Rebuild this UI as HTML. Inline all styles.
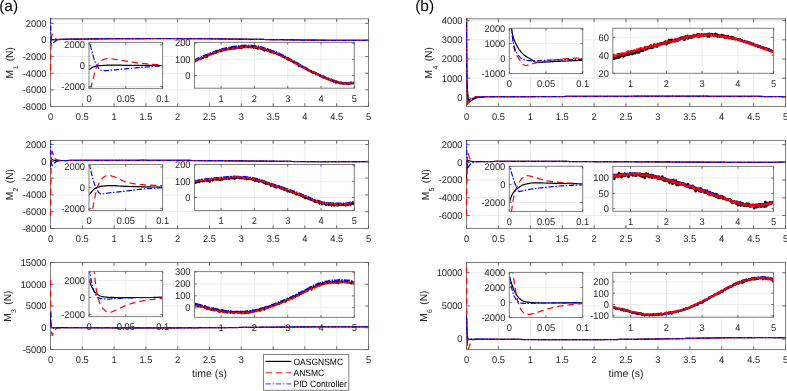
<!DOCTYPE html><html><head><meta charset="utf-8"><style>html,body{margin:0;padding:0;background:#fff;overflow:hidden}svg{display:block;will-change:transform}</style></head><body><svg width="787" height="391" viewBox="0 0 787 391" font-family='"Liberation Sans", sans-serif' text-rendering="geometricPrecision">
<rect width="787" height="391" fill="#fff"/>
<path d="M82.3 18.8V106.5 M114.1 18.8V106.5 M145.9 18.8V106.5 M177.7 18.8V106.5 M209.5 18.8V106.5 M241.3 18.8V106.5 M273.1 18.8V106.5 M304.9 18.8V106.5 M336.7 18.8V106.5 M50.5 23.38H368.5 M50.5 40H368.5 M50.5 56.62H368.5 M50.5 73.25H368.5 M50.5 89.88H368.5" stroke="#e6e6e6" stroke-width="0.8" fill="none"/>
<rect x="50.5" y="18.8" width="318" height="87.7" fill="none" stroke="#808080" stroke-width="1"/>
<clipPath id="c1"><rect x="49.7" y="18" width="319.6" height="89.3"/></clipPath>
<polyline points="50.5,43.2 50.7,41.9 50.9,41.1 51.1,40.5 51.2,40.2 51.4,40 51.6,39.8 51.8,39.7 52,39.7 52.2,39.6 52.3,39.6 52.5,39.6 52.7,39.6 52.9,39.6 53.1,39.6 53.3,39.6 53.4,39.7 53.6,39.7 53.8,39.7 54,39.7 54.2,39.7 54.4,39.7 54.6,39.7 54.7,39.7 54.9,39.7 55.1,39.7 55.3,39.8 55.5,39.8 55.7,39.8 55.8,39.8 56,39.8 56.2,39.8 56.4,39.8 56.6,39.8 56.8,39.8 57,39.8 57.1,39.8 57.3,39.7 57.5,39.7 57.7,39.7 57.9,39.6 58.1,39.6 58.2,39.6 58.4,39.6 58.6,39.5 58.8,39.5 59,39.5 59.2,39.5 59.3,39.5 59.5,39.5 59.7,39.4 59.9,39.4 60.1,39.4 60.3,39.4 60.5,39.4 60.6,39.4 60.8,39.4 61,39.4 61.2,39.3 61.4,39.3 61.6,39.3 61.7,39.3 61.9,39.3 62.1,39.3 62.3,39.3 62.5,39.3 62.7,39.3 62.9,39.3 63,39.3 63.2,39.3" fill="none" stroke="#000" stroke-width="1.1" clip-path="url(#c1)" stroke-linejoin="round"/>
<polyline points="63.2,39.3 66,39.2 68.8,39.2 71.6,39.1 74.4,39.1 77.2,39.1 80,39.1 82.8,39 85.6,39 88.4,39 91.2,38.9 94,38.9 96.8,38.9 99.6,38.8 102.4,38.8 105.2,38.8 108,38.8 110.8,38.7 113.6,38.7 116.4,38.7 119.2,38.7 122,38.7 124.8,38.6 127.6,38.6 130.4,38.6 133.2,38.6 136,38.6 138.8,38.6 141.6,38.6 144.4,38.6 147.2,38.5 150,38.5 152.8,38.5 155.6,38.5 158.4,38.5 161.2,38.5 164,38.5 166.8,38.5 169.6,38.5 172.4,38.5 175.2,38.5 178.1,38.5 180.9,38.6 183.7,38.6 186.5,38.6 189.3,38.6 192.1,38.6 194.9,38.6 197.7,38.7 200.5,38.7 203.3,38.7 206.1,38.7 208.9,38.8 211.7,38.8 214.5,38.8 217.3,38.8 220.1,38.9 222.9,38.9 225.7,38.9 228.5,39 231.3,39 234.1,39 236.9,39.1 239.7,39.1 242.5,39.2 245.3,39.2 248.1,39.2 250.9,39.3 253.7,39.3 256.5,39.4 259.3,39.4 262.1,39.4 264.9,39.5 267.7,39.5 270.5,39.6 273.3,39.6 276.1,39.6 278.9,39.7 281.7,39.7 284.5,39.8 287.3,39.8 290.1,39.8 292.9,39.9 295.7,39.9 298.5,39.9 301.3,40 304.1,40 306.9,40 309.7,40.1 312.5,40.1 315.3,40.1 318.1,40.2 320.9,40.2 323.7,40.2 326.5,40.2 329.3,40.3 332.1,40.3 334.9,40.3 337.7,40.3 340.5,40.4 343.3,40.4 346.1,40.4 348.9,40.4 351.7,40.4 354.5,40.4 357.3,40.4 360.1,40.4 362.9,40.4 365.7,40.4 368.5,40.4" fill="none" stroke="#000" stroke-width="1.1" clip-path="url(#c1)" stroke-linejoin="round"/>
<polyline points="50.5,74.9 50.7,57.2 50.9,49.9 51.1,43.8 51.2,39.4 51.4,37 51.6,35.7 51.8,34.9 52,34.4 52.2,34.4 52.3,34.5 52.5,34.7 52.7,34.9 52.9,35.2 53.1,35.4 53.3,35.6 53.4,35.9 53.6,36.2 53.8,36.5 54,36.8 54.2,37.1 54.4,37.3 54.6,37.5 54.7,37.8 54.9,38 55.1,38.2 55.3,38.3 55.5,38.5 55.7,38.6 55.8,38.8 56,38.9 56.2,39 56.4,39.1 56.6,39.2 56.8,39.3 57,39.3 57.1,39.3 57.3,39.3 57.5,39.3 57.7,39.3 57.9,39.3 58.1,39.3 58.2,39.3 58.4,39.3 58.6,39.3 58.8,39.3 59,39.3 59.2,39.3 59.3,39.3 59.5,39.3 59.7,39.3 59.9,39.3 60.1,39.3 60.3,39.3 60.5,39.3 60.6,39.3 60.8,39.3 61,39.3 61.2,39.3 61.4,39.3 61.6,39.3 61.7,39.2 61.9,39.2 62.1,39.2 62.3,39.2 62.5,39.2 62.7,39.2 62.9,39.2 63,39.2 63.2,39.2" fill="none" stroke="#ff0000" stroke-width="1.25" stroke-dasharray="6.4,3.9" stroke-dashoffset="5.8" clip-path="url(#c1)" stroke-linejoin="round"/>
<polyline points="63.2,39.2 66,39.2 68.8,39.2 71.6,39.1 74.4,39.1 77.2,39.1 80,39.1 82.8,39 85.6,39 88.4,39 91.2,38.9 94,38.9 96.8,38.9 99.6,38.8 102.4,38.8 105.2,38.8 108,38.8 110.8,38.7 113.6,38.7 116.4,38.7 119.2,38.7 122,38.7 124.8,38.6 127.6,38.6 130.4,38.6 133.2,38.6 136,38.6 138.8,38.6 141.6,38.6 144.4,38.6 147.2,38.5 150,38.5 152.8,38.5 155.6,38.5 158.4,38.5 161.2,38.5 164,38.5 166.8,38.5 169.6,38.5 172.4,38.5 175.2,38.5 178.1,38.5 180.9,38.6 183.7,38.6 186.5,38.6 189.3,38.6 192.1,38.6 194.9,38.6 197.7,38.7 200.5,38.7 203.3,38.7 206.1,38.7 208.9,38.8 211.7,38.8 214.5,38.8 217.3,38.8 220.1,38.9 222.9,38.9 225.7,38.9 228.5,39 231.3,39 234.1,39 236.9,39.1 239.7,39.1 242.5,39.2 245.3,39.2 248.1,39.2 250.9,39.3 253.7,39.3 256.5,39.4 259.3,39.4 262.1,39.4 264.9,39.5 267.7,39.5 270.5,39.6 273.3,39.6 276.1,39.6 278.9,39.7 281.7,39.7 284.5,39.8 287.3,39.8 290.1,39.8 292.9,39.9 295.7,39.9 298.5,39.9 301.3,40 304.1,40 306.9,40 309.7,40.1 312.5,40.1 315.3,40.1 318.1,40.2 320.9,40.2 323.7,40.2 326.5,40.2 329.3,40.3 332.1,40.3 334.9,40.3 337.7,40.3 340.5,40.4 343.3,40.4 346.1,40.4 348.9,40.4 351.7,40.4 354.5,40.4 357.3,40.4 360.1,40.4 362.9,40.4 365.7,40.4 368.5,40.4" fill="none" stroke="#ff0000" stroke-width="1.25" stroke-dasharray="6.4,3.9" stroke-dashoffset="5.8" clip-path="url(#c1)" stroke-linejoin="round"/>
<polyline points="50.5,15.1 50.7,26.4 50.9,32.5 51.1,37.8 51.2,40.8 51.4,42.8 51.6,43.9 51.8,44 52,43.9 52.2,43.8 52.3,43.6 52.5,43.5 52.7,43.3 52.9,43.2 53.1,43 53.3,42.9 53.4,42.7 53.6,42.5 53.8,42.4 54,42.2 54.2,42.1 54.4,41.9 54.6,41.7 54.7,41.6 54.9,41.4 55.1,41.3 55.3,41.2 55.5,41 55.7,40.9 55.8,40.8 56,40.6 56.2,40.5 56.4,40.4 56.6,40.3 56.8,40.1 57,40 57.1,40 57.3,39.9 57.5,39.9 57.7,39.8 57.9,39.8 58.1,39.8 58.2,39.7 58.4,39.7 58.6,39.7 58.8,39.6 59,39.6 59.2,39.6 59.3,39.6 59.5,39.5 59.7,39.5 59.9,39.5 60.1,39.5 60.3,39.5 60.5,39.4 60.6,39.4 60.8,39.4 61,39.4 61.2,39.4 61.4,39.4 61.6,39.4 61.7,39.4 61.9,39.3 62.1,39.3 62.3,39.3 62.5,39.3 62.7,39.3 62.9,39.3 63,39.3 63.2,39.3" fill="none" stroke="#0000ff" stroke-width="1.25" stroke-dasharray="5.4,1.6,1.5,1.8" clip-path="url(#c1)" stroke-linejoin="round"/>
<polyline points="63.2,39.3 66,39.2 68.8,39.2 71.6,39.1 74.4,39.1 77.2,39.1 80,39 82.8,39 85.6,39 88.4,38.9 91.2,38.9 94,38.9 96.8,38.9 99.6,38.8 102.4,38.8 105.2,38.8 108,38.7 110.8,38.7 113.6,38.7 116.4,38.7 119.2,38.7 122,38.6 124.8,38.6 127.6,38.6 130.4,38.6 133.2,38.6 136,38.6 138.8,38.6 141.6,38.5 144.4,38.5 147.2,38.5 150,38.5 152.8,38.5 155.6,38.5 158.4,38.5 161.2,38.5 164,38.5 166.8,38.5 169.6,38.5 172.4,38.5 175.2,38.5 178.1,38.5 180.9,38.5 183.7,38.5 186.5,38.6 189.3,38.6 192.1,38.6 194.9,38.6 197.7,38.6 200.5,38.7 203.3,38.7 206.1,38.7 208.9,38.7 211.7,38.8 214.5,38.8 217.3,38.8 220.1,38.9 222.9,38.9 225.7,38.9 228.5,39 231.3,39 234.1,39 236.9,39.1 239.7,39.1 242.5,39.1 245.3,39.2 248.1,39.2 250.9,39.3 253.7,39.3 256.5,39.4 259.3,39.4 262.1,39.4 264.9,39.5 267.7,39.5 270.5,39.6 273.3,39.6 276.1,39.7 278.9,39.7 281.7,39.7 284.5,39.8 287.3,39.8 290.1,39.8 292.9,39.9 295.7,39.9 298.5,40 301.3,40 304.1,40 306.9,40.1 309.7,40.1 312.5,40.1 315.3,40.2 318.1,40.2 320.9,40.2 323.7,40.2 326.5,40.3 329.3,40.3 332.1,40.3 334.9,40.3 337.7,40.4 340.5,40.4 343.3,40.4 346.1,40.4 348.9,40.4 351.7,40.4 354.5,40.4 357.3,40.4 360.1,40.4 362.9,40.4 365.7,40.4 368.5,40.4" fill="none" stroke="#0000ff" stroke-width="1.25" stroke-dasharray="5.4,1.6,1.5,1.8" clip-path="url(#c1)" stroke-linejoin="round"/>
<path d="M50.5 106.5v-3.2M50.5 18.8v3.2M82.3 106.5v-3.2M82.3 18.8v3.2M114.1 106.5v-3.2M114.1 18.8v3.2M145.9 106.5v-3.2M145.9 18.8v3.2M177.7 106.5v-3.2M177.7 18.8v3.2M209.5 106.5v-3.2M209.5 18.8v3.2M241.3 106.5v-3.2M241.3 18.8v3.2M273.1 106.5v-3.2M273.1 18.8v3.2M304.9 106.5v-3.2M304.9 18.8v3.2M336.7 106.5v-3.2M336.7 18.8v3.2M368.5 106.5v-3.2M368.5 18.8v3.2M50.5 23.38h3.2M368.5 23.38h-3.2M50.5 40h3.2M368.5 40h-3.2M50.5 56.62h3.2M368.5 56.62h-3.2M50.5 73.25h3.2M368.5 73.25h-3.2M50.5 89.88h3.2M368.5 89.88h-3.2M50.5 106.5h3.2M368.5 106.5h-3.2" stroke="#5a5a5a" stroke-width="0.9" fill="none"/>
<text transform="translate(50.5,120.1) scale(1,1.04)" text-anchor="middle" font-size="9.3" fill="#262626" >0</text>
<text transform="translate(82.3,120.1) scale(1,1.04)" text-anchor="middle" font-size="9.3" fill="#262626" >0.5</text>
<text transform="translate(114.1,120.1) scale(1,1.04)" text-anchor="middle" font-size="9.3" fill="#262626" >1</text>
<text transform="translate(145.9,120.1) scale(1,1.04)" text-anchor="middle" font-size="9.3" fill="#262626" >1.5</text>
<text transform="translate(177.7,120.1) scale(1,1.04)" text-anchor="middle" font-size="9.3" fill="#262626" >2</text>
<text transform="translate(209.5,120.1) scale(1,1.04)" text-anchor="middle" font-size="9.3" fill="#262626" >2.5</text>
<text transform="translate(241.3,120.1) scale(1,1.04)" text-anchor="middle" font-size="9.3" fill="#262626" >3</text>
<text transform="translate(273.1,120.1) scale(1,1.04)" text-anchor="middle" font-size="9.3" fill="#262626" >3.5</text>
<text transform="translate(304.9,120.1) scale(1,1.04)" text-anchor="middle" font-size="9.3" fill="#262626" >4</text>
<text transform="translate(336.7,120.1) scale(1,1.04)" text-anchor="middle" font-size="9.3" fill="#262626" >4.5</text>
<text transform="translate(368.5,120.1) scale(1,1.04)" text-anchor="middle" font-size="9.3" fill="#262626" >5</text>
<text transform="translate(46.5,26.68) scale(1,1.04)" text-anchor="end" font-size="9.3" fill="#262626" >2000</text>
<text transform="translate(46.5,43.3) scale(1,1.04)" text-anchor="end" font-size="9.3" fill="#262626" >0</text>
<text transform="translate(46.5,59.92) scale(1,1.04)" text-anchor="end" font-size="9.3" fill="#262626" >-2000</text>
<text transform="translate(46.5,76.55) scale(1,1.04)" text-anchor="end" font-size="9.3" fill="#262626" >-4000</text>
<text transform="translate(46.5,93.17) scale(1,1.04)" text-anchor="end" font-size="9.3" fill="#262626" >-6000</text>
<text transform="translate(46.5,109.8) scale(1,1.04)" text-anchor="end" font-size="9.3" fill="#262626" >-8000</text>
<g transform="translate(13.2,62.65) rotate(-90)" font-size="10.2" fill="#262626"><text x="-15.8">M</text><text x="-6.9" y="5.2" font-size="7">1</text><text x="15.45" text-anchor="end">(N)</text></g>
<rect x="89" y="42.4" width="73.6" height="46" fill="#fff"/>
<path d="M125.8 42.4V88.4 M89 44.9H162.6 M89 65.7H162.6 M89 86.5H162.6" stroke="#e6e6e6" stroke-width="0.8" fill="none"/>
<clipPath id="c2"><rect x="89" y="42.4" width="73.6" height="46"/></clipPath>
<polyline points="89,69.7 89.7,69.2 90.4,68.7 91,68.2 91.7,67.8 92.4,67.4 93.1,67.1 93.7,66.9 94.4,66.6 95.1,66.4 95.8,66.3 96.4,66.1 97.1,66 97.8,65.9 98.5,65.8 99.1,65.7 99.8,65.7 100.5,65.6 101.2,65.5 101.8,65.5 102.5,65.5 103.2,65.4 103.9,65.4 104.5,65.4 105.2,65.3 105.9,65.3 106.6,65.3 107.2,65.2 107.9,65.2 108.6,65.2 109.3,65.2 109.9,65.2 110.6,65.2 111.3,65.2 112,65.2 112.6,65.2 113.3,65.2 114,65.2 114.7,65.2 115.3,65.2 116,65.2 116.7,65.2 117.4,65.2 118,65.2 118.7,65.2 119.4,65.2 120.1,65.2 120.7,65.2 121.4,65.2 122.1,65.3 122.8,65.3 123.4,65.3 124.1,65.3 124.8,65.3 125.5,65.3 126.1,65.3 126.8,65.3 127.5,65.3 128.2,65.3 128.8,65.3 129.5,65.3 130.2,65.3 130.9,65.3 131.5,65.3 132.2,65.3 132.9,65.3 133.6,65.3 134.2,65.3 134.9,65.3 135.6,65.3 136.3,65.3 136.9,65.4 137.6,65.4 138.3,65.4 139,65.4 139.6,65.4 140.3,65.4 141,65.4 141.7,65.4 142.3,65.4 143,65.4 143.7,65.4 144.4,65.4 145,65.4 145.7,65.4 146.4,65.4 147.1,65.4 147.7,65.4 148.4,65.4 149.1,65.4 149.8,65.4 150.4,65.4 151.1,65.4 151.8,65.4 152.5,65.4 153.1,65.4 153.8,65.4 154.5,65.4 155.2,65.5 155.8,65.5 156.5,65.5 157.2,65.5 157.9,65.5 158.5,65.5 159.2,65.5 159.9,65.5 160.6,65.5 161.2,65.5 161.9,65.5 162.6,65.5" fill="none" stroke="#000" stroke-width="1.2" clip-path="url(#c2)" stroke-linejoin="round"/>
<polyline points="89,109.4 89.7,101.3 90.4,93.4 91,87.9 91.7,84.3 92.4,81.3 93.1,78.9 93.7,76.6 94.4,74.1 95.1,71.7 95.8,69.3 96.4,67.2 97.1,65.7 97.8,64.5 98.5,63.5 99.1,62.6 99.8,61.8 100.5,61.2 101.2,60.7 101.8,60.3 102.5,60 103.2,59.7 103.9,59.4 104.5,59.2 105.2,59 105.9,58.8 106.6,58.7 107.2,58.6 107.9,58.6 108.6,58.7 109.3,58.7 109.9,58.7 110.6,58.8 111.3,58.9 112,58.9 112.6,59 113.3,59.1 114,59.2 114.7,59.3 115.3,59.4 116,59.5 116.7,59.6 117.4,59.7 118,59.8 118.7,59.9 119.4,60 120.1,60.1 120.7,60.2 121.4,60.3 122.1,60.4 122.8,60.5 123.4,60.7 124.1,60.8 124.8,60.9 125.5,61 126.1,61.1 126.8,61.2 127.5,61.4 128.2,61.5 128.8,61.6 129.5,61.7 130.2,61.8 130.9,61.9 131.5,62 132.2,62.1 132.9,62.2 133.6,62.3 134.2,62.4 134.9,62.5 135.6,62.6 136.3,62.7 136.9,62.8 137.6,62.8 138.3,62.9 139,63 139.6,63.1 140.3,63.2 141,63.2 141.7,63.3 142.3,63.4 143,63.5 143.7,63.5 144.4,63.6 145,63.7 145.7,63.7 146.4,63.8 147.1,63.9 147.7,63.9 148.4,64 149.1,64 149.8,64.1 150.4,64.1 151.1,64.2 151.8,64.2 152.5,64.3 153.1,64.3 153.8,64.3 154.5,64.4 155.2,64.4 155.8,64.5 156.5,64.5 157.2,64.5 157.9,64.6 158.5,64.6 159.2,64.7 159.9,64.7 160.6,64.7 161.2,64.8 161.9,64.8 162.6,64.9" fill="none" stroke="#ff0000" stroke-width="1.2" stroke-dasharray="6.4,3.9" clip-path="url(#c2)" stroke-linejoin="round"/>
<polyline points="89,34.5 89.7,40.7 90.4,45.1 91,48.3 91.7,50.9 92.4,53.2 93.1,55.5 93.7,57.8 94.4,60.1 95.1,62.1 95.8,63.9 96.4,65.2 97.1,66.2 97.8,67.1 98.5,67.9 99.1,68.6 99.8,69.3 100.5,69.8 101.2,70.3 101.8,70.6 102.5,70.7 103.2,70.7 103.9,70.7 104.5,70.7 105.2,70.7 105.9,70.6 106.6,70.6 107.2,70.5 107.9,70.5 108.6,70.4 109.3,70.3 109.9,70.3 110.6,70.2 111.3,70.2 112,70.1 112.6,70 113.3,70 114,69.9 114.7,69.9 115.3,69.8 116,69.8 116.7,69.7 117.4,69.6 118,69.6 118.7,69.5 119.4,69.4 120.1,69.4 120.7,69.3 121.4,69.2 122.1,69.2 122.8,69.1 123.4,69 124.1,69 124.8,68.9 125.5,68.9 126.1,68.8 126.8,68.7 127.5,68.7 128.2,68.6 128.8,68.5 129.5,68.5 130.2,68.4 130.9,68.3 131.5,68.3 132.2,68.2 132.9,68.2 133.6,68.1 134.2,68 134.9,68 135.6,67.9 136.3,67.8 136.9,67.8 137.6,67.7 138.3,67.7 139,67.6 139.6,67.5 140.3,67.5 141,67.4 141.7,67.4 142.3,67.3 143,67.3 143.7,67.2 144.4,67.2 145,67.1 145.7,67.1 146.4,67 147.1,66.9 147.7,66.9 148.4,66.8 149.1,66.8 149.8,66.7 150.4,66.7 151.1,66.6 151.8,66.6 152.5,66.5 153.1,66.5 153.8,66.4 154.5,66.4 155.2,66.4 155.8,66.3 156.5,66.3 157.2,66.2 157.9,66.2 158.5,66.1 159.2,66.1 159.9,66 160.6,66 161.2,65.9 161.9,65.9 162.6,65.8" fill="none" stroke="#0000ff" stroke-width="1.2" stroke-dasharray="5.4,1.6,1.5,1.8" clip-path="url(#c2)" stroke-linejoin="round"/>
<rect x="89" y="42.4" width="73.6" height="46" fill="none" stroke="#808080" stroke-width="1"/>
<path d="M89 88.4v-2.2M89 42.4v2.2M125.8 88.4v-2.2M125.8 42.4v2.2M162.6 88.4v-2.2M162.6 42.4v2.2M89 44.9h2.2M162.6 44.9h-2.2M89 65.7h2.2M162.6 65.7h-2.2M89 86.5h2.2M162.6 86.5h-2.2" stroke="#5a5a5a" stroke-width="0.9" fill="none"/>
<text transform="translate(89,101.8) scale(1,1.04)" text-anchor="middle" font-size="9.3" fill="#262626" >0</text>
<text transform="translate(125.8,101.8) scale(1,1.04)" text-anchor="middle" font-size="9.3" fill="#262626" >0.05</text>
<text transform="translate(162.6,101.8) scale(1,1.04)" text-anchor="middle" font-size="9.3" fill="#262626" >0.1</text>
<text transform="translate(85,48.2) scale(1,1.04)" text-anchor="end" font-size="9.3" fill="#262626" >2000</text>
<text transform="translate(85,69) scale(1,1.04)" text-anchor="end" font-size="9.3" fill="#262626" >0</text>
<text transform="translate(85,89.8) scale(1,1.04)" text-anchor="end" font-size="9.3" fill="#262626" >-2000</text>
<rect x="194.5" y="42.4" width="159.8" height="45.8" fill="#fff"/>
<path d="M221.13 42.4V88.2 M254.43 42.4V88.2 M287.72 42.4V88.2 M321.01 42.4V88.2 M194.5 59.3H354.3 M194.5 75.5H354.3" stroke="#e6e6e6" stroke-width="0.8" fill="none"/>
<clipPath id="c3"><rect x="194.5" y="42.4" width="159.8" height="45.8"/></clipPath>
<polyline points="194.5,61.8 194.9,61.6 195.3,61.1 195.6,60.1 196,60.9 196.4,60.5 196.8,59.8 197.2,60.2 197.6,59.9 197.9,59.7 198.3,59.4 198.7,59.5 199.1,58.8 199.5,58.9 199.8,58.6 200.2,58.9 200.6,58.5 201,58.2 201.4,57.8 201.7,57.9 202.1,57.9 202.5,57.6 202.9,58.1 203.3,57.9 203.7,56 204,56.3 204.4,56.9 204.8,56.6 205.2,56.7 205.6,56.6 205.9,57.3 206.3,55.7 206.7,55.8 207.1,56.8 207.5,56 207.8,55.8 208.2,55.1 208.6,54.5 209,55.1 209.4,55 209.8,54.2 210.1,54.3 210.5,54.4 210.9,53.9 211.3,54.1 211.7,54 212,53.9 212.4,53.5 212.8,53.8 213.2,53.8 213.6,53.4 214,52.7 214.3,53.3 214.7,52.6 215.1,53.1 215.5,52.1 215.9,52.8 216.2,52.3 216.6,51.6 217,51.9 217.4,51.9 217.8,51.9 218.1,51.2 218.5,51 218.9,51.4 219.3,51 219.7,51.2 220.1,51.3 220.4,50.1 220.8,50.9 221.2,51.2 221.6,50.4 222,50.1 222.3,50.7 222.7,50.4 223.1,50.6 223.5,49.9 223.9,49.3 224.2,49.9 224.6,49.6 225,50.1 225.4,49.7 225.8,48.8 226.2,48.9 226.5,49.8 226.9,49.6 227.3,49 227.7,49.2 228.1,49.3 228.4,49.3 228.8,49.4 229.2,49 229.6,48.8 230,48.7 230.4,49.2 230.7,47.6 231.1,48.5 231.5,48.5 231.9,47.8 232.3,48.5 232.6,48 233,48.7 233.4,48.2 233.8,48.5 234.2,48.7 234.5,48.2 234.9,47.6 235.3,47.3 235.7,48.7 236.1,47.8 236.5,47.5 236.8,47.8 237.2,47.6 237.6,48 238,47.6 238.4,47.5 238.7,47.2 239.1,47.7 239.5,46.9 239.9,47.7 240.3,48 240.6,46.6 241,46.1 241.4,47.5 241.8,48.3 242.2,46.7 242.6,46.6 242.9,47.4 243.3,46.7 243.7,46.8 244.1,46.9 244.5,47.3 244.8,46.8 245.2,47.1 245.6,46.9 246,46.6 246.4,46.8 246.7,46.5 247.1,47 247.5,46.5 247.9,46.5 248.3,47.6 248.7,47 249,47 249.4,47.2 249.8,46.8 250.2,46.9 250.6,47.3 250.9,47.2 251.3,46.6 251.7,47.5 252.1,46.9 252.5,46.8 252.9,46.9 253.2,47.1 253.6,48.1 254,46.9 254.4,47.5 254.8,46.5 255.1,47.5 255.5,48 255.9,47.6 256.3,47.4 256.7,47.9 257,48.2 257.4,48.2 257.8,48.9 258.2,48.2 258.6,47.9 259,48.2 259.3,48.3 259.7,48.4 260.1,48.4 260.5,48.6 260.9,47.9 261.2,49.1 261.6,48.5 262,48.4 262.4,49.3 262.8,49.7 263.1,49.4 263.5,49.4 263.9,49 264.3,50.8 264.7,50 265.1,49.2 265.4,49.5 265.8,50 266.2,49.4 266.6,50.2 267,50.1 267.3,51 267.7,51 268.1,49.4 268.5,50.8 268.9,50.2 269.3,51.5 269.6,51.2 270,51.5 270.4,50.9 270.8,52.4 271.2,52.6 271.5,51.4 271.9,52.1 272.3,51.8 272.7,52.2 273.1,51.8 273.4,53.4 273.8,52.2 274.2,52.7 274.6,53.2 275,52.8 275.4,53.2 275.7,53.2 276.1,53.5 276.5,53.2 276.9,53.7 277.3,54 277.6,54.1 278,54.4 278.4,54.4 278.8,55.1 279.2,54.7 279.5,55 279.9,54.9 280.3,55.1 280.7,55 281.1,56 281.5,55.4 281.8,55.7 282.2,56.4 282.6,56.6 283,56.4 283.4,55.9 283.7,57.2 284.1,57.3 284.5,56.7 284.9,57.9 285.3,57.4 285.7,57.4 286,58.1 286.4,58.2 286.8,58.6 287.2,58 287.6,59.7 287.9,58.8 288.3,58.6 288.7,59.7 289.1,59.5 289.5,60 289.8,59.9 290.2,60.2 290.6,60.6 291,60.3 291.4,61.2 291.8,60.9 292.1,60.9 292.5,61.5 292.9,61.9 293.3,61.8 293.7,61.7 294,62.6 294.4,61.8 294.8,62.3 295.2,63 295.6,62.6 295.9,63.4 296.3,63.6 296.7,64.2 297.1,63.6 297.5,64 297.9,64.6 298.2,63.6 298.6,66.3 299,64.8 299.4,65 299.8,65.9 300.1,65.7 300.5,65.1 300.9,66.4 301.3,66.7 301.7,66.4 302.1,66.6 302.4,67.2 302.8,66.8 303.2,67.6 303.6,67.7 304,67.5 304.3,67.4 304.7,68.1 305.1,68 305.5,69.1 305.9,68.9 306.2,69.4 306.6,69.3 307,69.5 307.4,69.3 307.8,70.1 308.2,70.8 308.5,70.1 308.9,70.1 309.3,70.5 309.7,70.6 310.1,70.7 310.4,71.2 310.8,71.2 311.2,72.2 311.6,71.7 312,72.1 312.3,72.5 312.7,72.1 313.1,73.1 313.5,72.4 313.9,72.5 314.3,72.9 314.6,73.1 315,72.7 315.4,73.5 315.8,73 316.2,74.5 316.5,74.1 316.9,74 317.3,74 317.7,74.4 318.1,74.7 318.4,74.5 318.8,74.7 319.2,75.2 319.6,75.3 320,76.1 320.4,76.3 320.7,76 321.1,76.4 321.5,75.7 321.9,76.8 322.3,76.7 322.6,77.1 323,77.7 323.4,76.1 323.8,77.5 324.2,77 324.6,77.9 324.9,77.2 325.3,77.8 325.7,78.2 326.1,78.6 326.5,78.5 326.8,78.3 327.2,78.5 327.6,79.3 328,79.1 328.4,78.5 328.7,79.7 329.1,79.7 329.5,80.1 329.9,79.6 330.3,80.3 330.7,79.6 331,80.5 331.4,80.1 331.8,80.8 332.2,81.1 332.6,80.4 332.9,80.9 333.3,81 333.7,81.7 334.1,81.6 334.5,80.8 334.8,81.7 335.2,81.9 335.6,82.7 336,81.1 336.4,81.7 336.8,82.6 337.1,81.5 337.5,81.7 337.9,82.6 338.3,82.9 338.7,82.2 339,82.9 339.4,82.8 339.8,83.5 340.2,82.9 340.6,83.4 341,82.6 341.3,83 341.7,83.1 342.1,83.7 342.5,83.5 342.9,83 343.2,83.7 343.6,83.8 344,83.4 344.4,83.4 344.8,83.4 345.1,82.8 345.5,83.6 345.9,83.7 346.3,83.2 346.7,83.9 347.1,83 347.4,83.3 347.8,83.4 348.2,84.4 348.6,82.8 349,83.8 349.3,83.9 349.7,83.6 350.1,83.9 350.5,82.9 350.9,82.3 351.2,83.6 351.6,82.7 352,83.1 352.4,82.6 352.8,83.6 353.2,83.5 353.5,82.7 353.9,83.4 354.3,83" fill="none" stroke="#000" stroke-width="1.8" clip-path="url(#c3)" stroke-linejoin="round"/>
<polyline points="194.5,60.8 195.3,59.9 196.1,59.3 196.9,58.9 197.7,58.5 198.5,58.1 199.3,57.8 200.1,57.3 200.9,57.1 201.7,56.8 202.5,56.6 203.3,56 204.1,55.9 204.9,55.4 205.7,55 206.5,54.7 207.3,54.4 208.2,54 209,53.6 209.8,53.3 210.6,53 211.4,52.6 212.2,52.5 213,52.2 213.8,51.8 214.6,51.5 215.4,51.1 216.2,50.8 217,50.6 217.8,50.5 218.6,50.1 219.4,49.7 220.2,49.5 221,49.2 221.8,48.9 222.6,48.8 223.4,48.6 224.2,48.6 225,48.2 225.8,48.1 226.6,48 227.4,47.7 228.2,47.7 229,47.4 229.8,47.2 230.6,47.1 231.4,47 232.2,46.8 233,46.7 233.8,46.6 234.7,46.5 235.5,46.2 236.3,46.2 237.1,45.9 237.9,46 238.7,46 239.5,45.8 240.3,45.7 241.1,45.7 241.9,45.5 242.7,45.5 243.5,45.5 244.3,45.5 245.1,45.4 245.9,45.6 246.7,45.3 247.5,45.4 248.3,45.5 249.1,45.4 249.9,45.3 250.7,45.3 251.5,45.5 252.3,45.7 253.1,45.7 253.9,45.8 254.7,45.8 255.5,46.1 256.3,45.9 257.1,46.3 257.9,46.4 258.7,46.4 259.5,47 260.3,46.8 261.2,47 262,47.2 262.8,47.6 263.6,47.7 264.4,48 265.2,48.3 266,48.5 266.8,48.6 267.6,48.9 268.4,49.4 269.2,49.4 270,49.7 270.8,50.1 271.6,50.5 272.4,50.7 273.2,51.1 274,51.2 274.8,51.7 275.6,52 276.4,52.1 277.2,52.8 278,53.2 278.8,53.3 279.6,53.7 280.4,54.2 281.2,54.3 282,54.6 282.8,55.1 283.6,55.5 284.4,55.9 285.2,56.5 286,56.8 286.8,57.1 287.6,57.7 288.5,58.3 289.3,58.6 290.1,59 290.9,59.4 291.7,59.9 292.5,60.2 293.3,60.8 294.1,61.2 294.9,61.8 295.7,62.2 296.5,62.5 297.3,63 298.1,63.6 298.9,63.8 299.7,64.4 300.5,64.8 301.3,65.2 302.1,65.9 302.9,66.4 303.7,66.8 304.5,67.1 305.3,67.5 306.1,68 306.9,68.3 307.7,68.9 308.5,69.4 309.3,69.8 310.1,70 310.9,70.5 311.7,70.9 312.5,71.5 313.3,71.7 314.1,71.9 315,72.6 315.8,73.1 316.6,73.4 317.4,73.8 318.2,74.1 319,74.2 319.8,74.6 320.6,75 321.4,75.5 322.2,75.9 323,76.3 323.8,76.6 324.6,77.1 325.4,77.3 326.2,77.6 327,78.1 327.8,78.2 328.6,78.4 329.4,78.9 330.2,79.3 331,79.3 331.8,79.8 332.6,80.1 333.4,80.3 334.2,80.6 335,80.9 335.8,81.1 336.6,81.6 337.4,81.7 338.2,81.7 339,82 339.8,82.3 340.6,82.6 341.5,82.6 342.3,82.7 343.1,83 343.9,82.9 344.7,83 345.5,82.9 346.3,83 347.1,83.3 347.9,82.9 348.7,83 349.5,82.8 350.3,82.9 351.1,82.9 351.9,82.7 352.7,82.7 353.5,82.6 354.3,82.4" fill="none" stroke="#0000ff" stroke-width="1.6" stroke-dasharray="6,1.2,1.5,1.2" clip-path="url(#c3)" stroke-linejoin="round"/>
<polyline points="194.5,61.3 195.3,60.7 196.1,60.1 196.9,59.7 197.7,59.3 198.5,59.4 199.3,58.9 200.1,59.5 200.9,58.9 201.7,58 202.5,57.6 203.3,57.9 204.1,56.5 204.9,56.6 205.7,56.7 206.5,55.8 207.3,55.6 208.2,55.3 209,55.3 209.8,54.8 210.6,54.6 211.4,54.3 212.2,53.8 213,53.8 213.8,53 214.6,52.4 215.4,52 216.2,51.8 217,51.8 217.8,52 218.6,51.5 219.4,51 220.2,50.6 221,50.6 221.8,50.4 222.6,50.1 223.4,49.7 224.2,49.8 225,50 225.8,48.9 226.6,49.3 227.4,48.6 228.2,49.1 229,48.7 229.8,48.2 230.6,48.7 231.4,49.1 232.2,48.4 233,48.6 233.8,48.1 234.7,47.4 235.5,48.1 236.3,47.7 237.1,47.3 237.9,47.8 238.7,47.6 239.5,47.3 240.3,47.6 241.1,47 241.9,47.4 242.7,46.8 243.5,47.2 244.3,46.7 245.1,47.4 245.9,47 246.7,47.4 247.5,46.7 248.3,46.8 249.1,47.2 249.9,46.2 250.7,46.8 251.5,47.5 252.3,47.4 253.1,47.6 253.9,47.3 254.7,47.7 255.5,47.4 256.3,47.3 257.1,47.4 257.9,47.8 258.7,48 259.5,48.1 260.3,47.4 261.2,48.1 262,48.7 262.8,49.2 263.6,49.1 264.4,49.3 265.2,49.1 266,50.6 266.8,49.9 267.6,51 268.4,51.2 269.2,51.1 270,51.1 270.8,51.6 271.6,51.5 272.4,52.2 273.2,52.4 274,52.9 274.8,53.3 275.6,53.9 276.4,53.6 277.2,54.4 278,54.1 278.8,54.5 279.6,54.9 280.4,55.1 281.2,56.1 282,56.4 282.8,56.9 283.6,56.9 284.4,57.4 285.2,57.5 286,57.8 286.8,58.6 287.6,59 288.5,59 289.3,59.9 290.1,59.7 290.9,60.6 291.7,60.9 292.5,61.3 293.3,61.6 294.1,62.6 294.9,63 295.7,63.6 296.5,63.7 297.3,63.8 298.1,64.5 298.9,64.7 299.7,65.6 300.5,66.3 301.3,66.5 302.1,66.6 302.9,67.1 303.7,67.7 304.5,67.7 305.3,68.6 306.1,69 306.9,69.2 307.7,69.7 308.5,70.2 309.3,70.4 310.1,70.8 310.9,71.6 311.7,71.9 312.5,72.7 313.3,72.3 314.1,72.4 315,73.6 315.8,74 316.6,73.9 317.4,74 318.2,74.8 319,74.7 319.8,75.5 320.6,75.3 321.4,76.2 322.2,76 323,76.9 323.8,77.8 324.6,77.6 325.4,78.2 326.2,78.1 327,78.4 327.8,78.5 328.6,79.6 329.4,79.6 330.2,80.4 331,79.8 331.8,80.4 332.6,80.8 333.4,81.4 334.2,81.8 335,81.3 335.8,81.4 336.6,81.5 337.4,82.6 338.2,82.4 339,82.4 339.8,82.8 340.6,82.2 341.5,82.6 342.3,83.5 343.1,83.5 343.9,83.5 344.7,83.2 345.5,83.7 346.3,84.1 347.1,83.2 347.9,83.6 348.7,83.4 349.5,83.6 350.3,83.4 351.1,83.3 351.9,82.9 352.7,83.1 353.5,82.8 354.3,82.9" fill="none" stroke="#ff0000" stroke-width="1.9" stroke-dasharray="4,1.3" clip-path="url(#c3)" stroke-linejoin="round"/>
<rect x="194.5" y="42.4" width="159.8" height="45.8" fill="none" stroke="#808080" stroke-width="1"/>
<path d="M221.13 88.2v-2.2M221.13 42.4v2.2M254.43 88.2v-2.2M254.43 42.4v2.2M287.72 88.2v-2.2M287.72 42.4v2.2M321.01 88.2v-2.2M321.01 42.4v2.2M354.3 88.2v-2.2M354.3 42.4v2.2M194.5 43.1h2.2M354.3 43.1h-2.2M194.5 59.3h2.2M354.3 59.3h-2.2M194.5 75.5h2.2M354.3 75.5h-2.2" stroke="#5a5a5a" stroke-width="0.9" fill="none"/>
<text transform="translate(221.13,101.6) scale(1,1.04)" text-anchor="middle" font-size="9.3" fill="#262626" >1</text>
<text transform="translate(254.43,101.6) scale(1,1.04)" text-anchor="middle" font-size="9.3" fill="#262626" >2</text>
<text transform="translate(287.72,101.6) scale(1,1.04)" text-anchor="middle" font-size="9.3" fill="#262626" >3</text>
<text transform="translate(321.01,101.6) scale(1,1.04)" text-anchor="middle" font-size="9.3" fill="#262626" >4</text>
<text transform="translate(354.3,101.6) scale(1,1.04)" text-anchor="middle" font-size="9.3" fill="#262626" >5</text>
<text transform="translate(190.5,46.4) scale(1,1.04)" text-anchor="end" font-size="9.3" fill="#262626" >200</text>
<text transform="translate(190.5,62.6) scale(1,1.04)" text-anchor="end" font-size="9.3" fill="#262626" >100</text>
<text transform="translate(190.5,78.8) scale(1,1.04)" text-anchor="end" font-size="9.3" fill="#262626" >0</text>
<path d="M82.3 140.5V228.5 M114.1 140.5V228.5 M145.9 140.5V228.5 M177.7 140.5V228.5 M209.5 140.5V228.5 M241.3 140.5V228.5 M273.1 140.5V228.5 M304.9 140.5V228.5 M336.7 140.5V228.5 M50.5 144.5H368.5 M50.5 161.3H368.5 M50.5 178.1H368.5 M50.5 194.9H368.5 M50.5 211.7H368.5" stroke="#e6e6e6" stroke-width="0.8" fill="none"/>
<rect x="50.5" y="140.5" width="318" height="88" fill="none" stroke="#808080" stroke-width="1"/>
<clipPath id="c4"><rect x="49.7" y="139.7" width="319.6" height="89.6"/></clipPath>
<polyline points="50.5,167.2 50.7,165 50.9,163.2 51.1,161.7 51.2,161 51.4,160.4 51.6,160.1 51.8,159.9 52,159.7 52.2,159.7 52.3,159.6 52.5,159.6 52.7,159.7 52.9,159.8 53.1,159.9 53.3,160 53.4,160.1 53.6,160.2 53.8,160.2 54,160.3 54.2,160.3 54.4,160.4 54.6,160.4 54.7,160.5 54.9,160.5 55.1,160.6 55.3,160.6 55.5,160.6 55.7,160.7 55.8,160.7 56,160.7 56.2,160.8 56.4,160.8 56.6,160.8 56.8,160.9 57,160.9 57.1,160.8 57.3,160.8 57.5,160.8 57.7,160.8 57.9,160.8 58.1,160.7 58.2,160.7 58.4,160.7 58.6,160.7 58.8,160.7 59,160.7 59.2,160.6 59.3,160.6 59.5,160.6 59.7,160.6 59.9,160.6 60.1,160.6 60.3,160.6 60.5,160.6 60.6,160.6 60.8,160.6 61,160.6 61.2,160.6 61.4,160.5 61.6,160.5 61.7,160.5 61.9,160.5 62.1,160.5 62.3,160.5 62.5,160.5 62.7,160.5 62.9,160.5 63,160.5 63.2,160.5" fill="none" stroke="#000" stroke-width="1.1" clip-path="url(#c4)" stroke-linejoin="round"/>
<polyline points="63.2,160.5 66,160.5 68.8,160.5 71.6,160.4 74.4,160.4 77.2,160.4 80,160.4 82.8,160.4 85.6,160.4 88.4,160.4 91.2,160.4 94,160.4 96.8,160.3 99.6,160.3 102.4,160.3 105.2,160.3 108,160.3 110.8,160.3 113.6,160.3 116.4,160.3 119.2,160.3 122,160.3 124.8,160.3 127.6,160.3 130.4,160.3 133.2,160.3 136,160.3 138.8,160.3 141.6,160.2 144.4,160.2 147.2,160.3 150,160.3 152.8,160.3 155.6,160.3 158.4,160.3 161.2,160.3 164,160.3 166.8,160.3 169.6,160.3 172.4,160.3 175.2,160.3 178.1,160.3 180.9,160.4 183.7,160.4 186.5,160.4 189.3,160.4 192.1,160.5 194.9,160.5 197.7,160.5 200.5,160.5 203.3,160.6 206.1,160.6 208.9,160.6 211.7,160.6 214.5,160.7 217.3,160.7 220.1,160.7 222.9,160.7 225.7,160.8 228.5,160.8 231.3,160.8 234.1,160.8 236.9,160.9 239.7,160.9 242.5,160.9 245.3,160.9 248.1,161 250.9,161 253.7,161 256.5,161.1 259.3,161.1 262.1,161.1 264.9,161.1 267.7,161.2 270.5,161.2 273.3,161.2 276.1,161.3 278.9,161.3 281.7,161.3 284.5,161.4 287.3,161.4 290.1,161.4 292.9,161.5 295.7,161.5 298.5,161.5 301.3,161.5 304.1,161.5 306.9,161.6 309.7,161.6 312.5,161.6 315.3,161.6 318.1,161.6 320.9,161.6 323.7,161.6 326.5,161.6 329.3,161.6 332.1,161.6 334.9,161.6 337.7,161.6 340.5,161.6 343.3,161.6 346.1,161.6 348.9,161.6 351.7,161.6 354.5,161.6 357.3,161.6 360.1,161.6 362.9,161.6 365.7,161.6 368.5,161.6" fill="none" stroke="#000" stroke-width="1.1" clip-path="url(#c4)" stroke-linejoin="round"/>
<polyline points="50.5,220.1 50.7,193.2 50.9,175.6 51.1,166.8 51.2,160.4 51.4,156.8 51.6,154.3 51.8,152.5 52,151.7 52.2,151.3 52.3,151.5 52.5,152 52.7,152.6 52.9,153.4 53.1,154.2 53.3,155 53.4,155.8 53.6,156.5 53.8,157 54,157.4 54.2,157.8 54.4,158.1 54.6,158.4 54.7,158.5 54.9,158.7 55.1,158.8 55.3,159 55.5,159.1 55.7,159.2 55.8,159.2 56,159.3 56.2,159.4 56.4,159.4 56.6,159.5 56.8,159.6 57,159.7 57.1,159.7 57.3,159.8 57.5,159.8 57.7,159.9 57.9,159.9 58.1,159.9 58.2,160 58.4,160 58.6,160.1 58.8,160.1 59,160.1 59.2,160.1 59.3,160.2 59.5,160.2 59.7,160.2 59.9,160.2 60.1,160.2 60.3,160.3 60.5,160.3 60.6,160.3 60.8,160.3 61,160.3 61.2,160.3 61.4,160.3 61.6,160.3 61.7,160.4 61.9,160.4 62.1,160.4 62.3,160.4 62.5,160.4 62.7,160.4 62.9,160.4 63,160.4 63.2,160.4" fill="none" stroke="#ff0000" stroke-width="1.25" stroke-dasharray="6.4,3.9" stroke-dashoffset="5.8" clip-path="url(#c4)" stroke-linejoin="round"/>
<polyline points="63.2,160.4 66,160.4 68.8,160.4 71.6,160.4 74.4,160.4 77.2,160.4 80,160.4 82.8,160.4 85.6,160.4 88.4,160.4 91.2,160.4 94,160.4 96.8,160.3 99.6,160.3 102.4,160.3 105.2,160.3 108,160.3 110.8,160.3 113.6,160.3 116.4,160.3 119.2,160.3 122,160.3 124.8,160.3 127.6,160.3 130.4,160.3 133.2,160.3 136,160.3 138.8,160.3 141.6,160.2 144.4,160.2 147.2,160.3 150,160.3 152.8,160.3 155.6,160.3 158.4,160.3 161.2,160.3 164,160.3 166.8,160.3 169.6,160.3 172.4,160.3 175.2,160.3 178.1,160.3 180.9,160.4 183.7,160.4 186.5,160.4 189.3,160.4 192.1,160.5 194.9,160.5 197.7,160.5 200.5,160.5 203.3,160.6 206.1,160.6 208.9,160.6 211.7,160.6 214.5,160.7 217.3,160.7 220.1,160.7 222.9,160.7 225.7,160.8 228.5,160.8 231.3,160.8 234.1,160.8 236.9,160.9 239.7,160.9 242.5,160.9 245.3,160.9 248.1,161 250.9,161 253.7,161 256.5,161.1 259.3,161.1 262.1,161.1 264.9,161.1 267.7,161.2 270.5,161.2 273.3,161.2 276.1,161.3 278.9,161.3 281.7,161.3 284.5,161.4 287.3,161.4 290.1,161.4 292.9,161.5 295.7,161.5 298.5,161.5 301.3,161.5 304.1,161.5 306.9,161.6 309.7,161.6 312.5,161.6 315.3,161.6 318.1,161.6 320.9,161.6 323.7,161.6 326.5,161.6 329.3,161.6 332.1,161.6 334.9,161.6 337.7,161.6 340.5,161.6 343.3,161.6 346.1,161.6 348.9,161.6 351.7,161.6 354.5,161.6 357.3,161.6 360.1,161.6 362.9,161.6 365.7,161.6 368.5,161.6" fill="none" stroke="#ff0000" stroke-width="1.25" stroke-dasharray="6.4,3.9" stroke-dashoffset="5.8" clip-path="url(#c4)" stroke-linejoin="round"/>
<polyline points="50.5,139.5 50.7,148.2 50.9,155.4 51.1,160.3 51.2,163.6 51.4,165.9 51.6,166.3 51.8,166.2 52,165.9 52.2,165.7 52.3,165.4 52.5,165.2 52.7,165 52.9,164.8 53.1,164.7 53.3,164.5 53.4,164.3 53.6,164.1 53.8,163.9 54,163.7 54.2,163.4 54.4,163.2 54.6,163 54.7,162.8 54.9,162.6 55.1,162.4 55.3,162.3 55.5,162.2 55.7,162 55.8,161.9 56,161.8 56.2,161.7 56.4,161.6 56.6,161.5 56.8,161.4 57,161.3 57.1,161.2 57.3,161.2 57.5,161.1 57.7,161.1 57.9,161 58.1,161 58.2,161 58.4,160.9 58.6,160.9 58.8,160.9 59,160.8 59.2,160.8 59.3,160.8 59.5,160.8 59.7,160.8 59.9,160.7 60.1,160.7 60.3,160.7 60.5,160.7 60.6,160.7 60.8,160.7 61,160.6 61.2,160.6 61.4,160.6 61.6,160.6 61.7,160.6 61.9,160.6 62.1,160.6 62.3,160.6 62.5,160.6 62.7,160.6 62.9,160.6 63,160.5 63.2,160.5" fill="none" stroke="#0000ff" stroke-width="1.25" stroke-dasharray="5.4,1.6,1.5,1.8" clip-path="url(#c4)" stroke-linejoin="round"/>
<polyline points="63.2,160.5 66,160.5 68.8,160.5 71.6,160.4 74.4,160.4 77.2,160.4 80,160.4 82.8,160.4 85.6,160.4 88.4,160.4 91.2,160.4 94,160.4 96.8,160.3 99.6,160.3 102.4,160.3 105.2,160.3 108,160.3 110.8,160.3 113.6,160.3 116.4,160.3 119.2,160.3 122,160.3 124.8,160.3 127.6,160.3 130.4,160.3 133.2,160.3 136,160.3 138.8,160.3 141.6,160.2 144.4,160.2 147.2,160.3 150,160.3 152.8,160.3 155.6,160.3 158.4,160.3 161.2,160.3 164,160.3 166.8,160.3 169.6,160.3 172.4,160.3 175.2,160.3 178.1,160.3 180.9,160.4 183.7,160.4 186.5,160.4 189.3,160.4 192.1,160.5 194.9,160.5 197.7,160.5 200.5,160.5 203.3,160.6 206.1,160.6 208.9,160.6 211.7,160.6 214.5,160.7 217.3,160.7 220.1,160.7 222.9,160.7 225.7,160.8 228.5,160.8 231.3,160.8 234.1,160.8 236.9,160.9 239.7,160.9 242.5,160.9 245.3,160.9 248.1,161 250.9,161 253.7,161 256.5,161.1 259.3,161.1 262.1,161.1 264.9,161.1 267.7,161.2 270.5,161.2 273.3,161.2 276.1,161.3 278.9,161.3 281.7,161.3 284.5,161.4 287.3,161.4 290.1,161.4 292.9,161.5 295.7,161.5 298.5,161.5 301.3,161.5 304.1,161.5 306.9,161.6 309.7,161.6 312.5,161.6 315.3,161.6 318.1,161.6 320.9,161.6 323.7,161.6 326.5,161.6 329.3,161.6 332.1,161.6 334.9,161.6 337.7,161.6 340.5,161.6 343.3,161.6 346.1,161.6 348.9,161.6 351.7,161.6 354.5,161.6 357.3,161.6 360.1,161.6 362.9,161.6 365.7,161.6 368.5,161.6" fill="none" stroke="#0000ff" stroke-width="1.25" stroke-dasharray="5.4,1.6,1.5,1.8" clip-path="url(#c4)" stroke-linejoin="round"/>
<path d="M50.5 228.5v-3.2M50.5 140.5v3.2M82.3 228.5v-3.2M82.3 140.5v3.2M114.1 228.5v-3.2M114.1 140.5v3.2M145.9 228.5v-3.2M145.9 140.5v3.2M177.7 228.5v-3.2M177.7 140.5v3.2M209.5 228.5v-3.2M209.5 140.5v3.2M241.3 228.5v-3.2M241.3 140.5v3.2M273.1 228.5v-3.2M273.1 140.5v3.2M304.9 228.5v-3.2M304.9 140.5v3.2M336.7 228.5v-3.2M336.7 140.5v3.2M368.5 228.5v-3.2M368.5 140.5v3.2M50.5 144.5h3.2M368.5 144.5h-3.2M50.5 161.3h3.2M368.5 161.3h-3.2M50.5 178.1h3.2M368.5 178.1h-3.2M50.5 194.9h3.2M368.5 194.9h-3.2M50.5 211.7h3.2M368.5 211.7h-3.2M50.5 228.5h3.2M368.5 228.5h-3.2" stroke="#5a5a5a" stroke-width="0.9" fill="none"/>
<text transform="translate(50.5,242.1) scale(1,1.04)" text-anchor="middle" font-size="9.3" fill="#262626" >0</text>
<text transform="translate(82.3,242.1) scale(1,1.04)" text-anchor="middle" font-size="9.3" fill="#262626" >0.5</text>
<text transform="translate(114.1,242.1) scale(1,1.04)" text-anchor="middle" font-size="9.3" fill="#262626" >1</text>
<text transform="translate(145.9,242.1) scale(1,1.04)" text-anchor="middle" font-size="9.3" fill="#262626" >1.5</text>
<text transform="translate(177.7,242.1) scale(1,1.04)" text-anchor="middle" font-size="9.3" fill="#262626" >2</text>
<text transform="translate(209.5,242.1) scale(1,1.04)" text-anchor="middle" font-size="9.3" fill="#262626" >2.5</text>
<text transform="translate(241.3,242.1) scale(1,1.04)" text-anchor="middle" font-size="9.3" fill="#262626" >3</text>
<text transform="translate(273.1,242.1) scale(1,1.04)" text-anchor="middle" font-size="9.3" fill="#262626" >3.5</text>
<text transform="translate(304.9,242.1) scale(1,1.04)" text-anchor="middle" font-size="9.3" fill="#262626" >4</text>
<text transform="translate(336.7,242.1) scale(1,1.04)" text-anchor="middle" font-size="9.3" fill="#262626" >4.5</text>
<text transform="translate(368.5,242.1) scale(1,1.04)" text-anchor="middle" font-size="9.3" fill="#262626" >5</text>
<text transform="translate(46.5,147.8) scale(1,1.04)" text-anchor="end" font-size="9.3" fill="#262626" >2000</text>
<text transform="translate(46.5,164.6) scale(1,1.04)" text-anchor="end" font-size="9.3" fill="#262626" >0</text>
<text transform="translate(46.5,181.4) scale(1,1.04)" text-anchor="end" font-size="9.3" fill="#262626" >-2000</text>
<text transform="translate(46.5,198.2) scale(1,1.04)" text-anchor="end" font-size="9.3" fill="#262626" >-4000</text>
<text transform="translate(46.5,215) scale(1,1.04)" text-anchor="end" font-size="9.3" fill="#262626" >-6000</text>
<text transform="translate(46.5,231.8) scale(1,1.04)" text-anchor="end" font-size="9.3" fill="#262626" >-8000</text>
<g transform="translate(13.2,184.5) rotate(-90)" font-size="10.2" fill="#262626"><text x="-15.8">M</text><text x="-6.9" y="5.2" font-size="7">2</text><text x="15.45" text-anchor="end">(N)</text></g>
<rect x="89" y="164.5" width="73.6" height="46" fill="#fff"/>
<path d="M125.8 164.5V210.5 M89 167H162.6 M89 187.7H162.6 M89 208.4H162.6" stroke="#e6e6e6" stroke-width="0.8" fill="none"/>
<clipPath id="c5"><rect x="89" y="164.5" width="73.6" height="46"/></clipPath>
<polyline points="89,194.9 89.7,194.1 90.4,193.2 91,192.4 91.7,191.6 92.4,190.9 93.1,190.2 93.7,189.6 94.4,189 95.1,188.4 95.8,188 96.4,187.7 97.1,187.4 97.8,187.2 98.5,187 99.1,186.8 99.8,186.6 100.5,186.4 101.2,186.3 101.8,186.2 102.5,186.1 103.2,186 103.9,185.9 104.5,185.9 105.2,185.8 105.9,185.8 106.6,185.8 107.2,185.7 107.9,185.7 108.6,185.7 109.3,185.7 109.9,185.6 110.6,185.6 111.3,185.6 112,185.6 112.6,185.6 113.3,185.7 114,185.7 114.7,185.7 115.3,185.7 116,185.8 116.7,185.8 117.4,185.9 118,185.9 118.7,186 119.4,186 120.1,186 120.7,186.1 121.4,186.1 122.1,186.2 122.8,186.2 123.4,186.3 124.1,186.3 124.8,186.3 125.5,186.3 126.1,186.4 126.8,186.4 127.5,186.4 128.2,186.4 128.8,186.4 129.5,186.5 130.2,186.5 130.9,186.5 131.5,186.5 132.2,186.5 132.9,186.6 133.6,186.6 134.2,186.6 134.9,186.6 135.6,186.6 136.3,186.6 136.9,186.7 137.6,186.7 138.3,186.7 139,186.7 139.6,186.7 140.3,186.7 141,186.7 141.7,186.8 142.3,186.8 143,186.8 143.7,186.8 144.4,186.8 145,186.8 145.7,186.8 146.4,186.9 147.1,186.9 147.7,186.9 148.4,186.9 149.1,186.9 149.8,186.9 150.4,186.9 151.1,186.9 151.8,187 152.5,187 153.1,187 153.8,187 154.5,187 155.2,187 155.8,187 156.5,187.1 157.2,187.1 157.9,187.1 158.5,187.1 159.2,187.1 159.9,187.1 160.6,187.1 161.2,187.2 161.9,187.2 162.6,187.2" fill="none" stroke="#000" stroke-width="1.2" clip-path="url(#c5)" stroke-linejoin="round"/>
<polyline points="89,260.1 89.7,250 90.4,239.2 91,228.6 91.7,219.2 92.4,211.8 93.1,206.7 93.7,202.8 94.4,199.4 95.1,196.1 95.8,192.9 96.4,190 97.1,187.7 97.8,185.9 98.5,184.4 99.1,183.1 99.8,181.9 100.5,180.9 101.2,179.9 101.8,179 102.5,178.2 103.2,177.5 103.9,176.9 104.5,176.5 105.2,176.2 105.9,175.9 106.6,175.6 107.2,175.5 107.9,175.4 108.6,175.4 109.3,175.5 109.9,175.6 110.6,175.7 111.3,175.9 112,176.1 112.6,176.3 113.3,176.5 114,176.7 114.7,177 115.3,177.3 116,177.6 116.7,177.9 117.4,178.2 118,178.6 118.7,178.9 119.4,179.2 120.1,179.5 120.7,179.8 121.4,180.1 122.1,180.4 122.8,180.7 123.4,181 124.1,181.3 124.8,181.6 125.5,181.8 126.1,182 126.8,182.2 127.5,182.4 128.2,182.5 128.8,182.7 129.5,182.9 130.2,183 130.9,183.2 131.5,183.3 132.2,183.5 132.9,183.6 133.6,183.7 134.2,183.8 134.9,183.9 135.6,184 136.3,184.1 136.9,184.2 137.6,184.3 138.3,184.3 139,184.4 139.6,184.5 140.3,184.5 141,184.6 141.7,184.6 142.3,184.7 143,184.7 143.7,184.8 144.4,184.8 145,184.8 145.7,184.9 146.4,184.9 147.1,185 147.7,185 148.4,185 149.1,185.1 149.8,185.1 150.4,185.1 151.1,185.2 151.8,185.2 152.5,185.2 153.1,185.3 153.8,185.3 154.5,185.3 155.2,185.3 155.8,185.4 156.5,185.4 157.2,185.4 157.9,185.4 158.5,185.5 159.2,185.5 159.9,185.5 160.6,185.5 161.2,185.6 161.9,185.6 162.6,185.6" fill="none" stroke="#ff0000" stroke-width="1.2" stroke-dasharray="6.4,3.9" clip-path="url(#c5)" stroke-linejoin="round"/>
<polyline points="89,160.8 89.7,164.2 90.4,167.6 91,171 91.7,174.3 92.4,177.2 93.1,179.7 93.7,181.9 94.4,183.9 95.1,185.7 95.8,187.2 96.4,188.5 97.1,189.7 97.8,190.9 98.5,192 99.1,192.9 99.8,193.5 100.5,193.9 101.2,193.9 101.8,193.9 102.5,193.8 103.2,193.8 103.9,193.7 104.5,193.6 105.2,193.5 105.9,193.4 106.6,193.3 107.2,193.2 107.9,193.1 108.6,193 109.3,192.9 109.9,192.8 110.6,192.7 111.3,192.6 112,192.6 112.6,192.5 113.3,192.4 114,192.4 114.7,192.3 115.3,192.2 116,192.1 116.7,192.1 117.4,192 118,191.9 118.7,191.9 119.4,191.8 120.1,191.7 120.7,191.7 121.4,191.6 122.1,191.5 122.8,191.5 123.4,191.4 124.1,191.3 124.8,191.2 125.5,191.2 126.1,191.1 126.8,191 127.5,190.9 128.2,190.8 128.8,190.7 129.5,190.6 130.2,190.6 130.9,190.5 131.5,190.4 132.2,190.3 132.9,190.2 133.6,190.1 134.2,190 134.9,189.9 135.6,189.8 136.3,189.7 136.9,189.6 137.6,189.6 138.3,189.5 139,189.4 139.6,189.3 140.3,189.3 141,189.2 141.7,189.1 142.3,189.1 143,189 143.7,189 144.4,188.9 145,188.9 145.7,188.8 146.4,188.8 147.1,188.7 147.7,188.7 148.4,188.6 149.1,188.6 149.8,188.5 150.4,188.5 151.1,188.4 151.8,188.4 152.5,188.4 153.1,188.3 153.8,188.3 154.5,188.2 155.2,188.2 155.8,188.1 156.5,188.1 157.2,188.1 157.9,188 158.5,188 159.2,187.9 159.9,187.9 160.6,187.8 161.2,187.8 161.9,187.7 162.6,187.7" fill="none" stroke="#0000ff" stroke-width="1.2" stroke-dasharray="5.4,1.6,1.5,1.8" clip-path="url(#c5)" stroke-linejoin="round"/>
<rect x="89" y="164.5" width="73.6" height="46" fill="none" stroke="#808080" stroke-width="1"/>
<path d="M89 210.5v-2.2M89 164.5v2.2M125.8 210.5v-2.2M125.8 164.5v2.2M162.6 210.5v-2.2M162.6 164.5v2.2M89 167h2.2M162.6 167h-2.2M89 187.7h2.2M162.6 187.7h-2.2M89 208.4h2.2M162.6 208.4h-2.2" stroke="#5a5a5a" stroke-width="0.9" fill="none"/>
<text transform="translate(89,223.9) scale(1,1.04)" text-anchor="middle" font-size="9.3" fill="#262626" >0</text>
<text transform="translate(125.8,223.9) scale(1,1.04)" text-anchor="middle" font-size="9.3" fill="#262626" >0.05</text>
<text transform="translate(162.6,223.9) scale(1,1.04)" text-anchor="middle" font-size="9.3" fill="#262626" >0.1</text>
<text transform="translate(85,170.3) scale(1,1.04)" text-anchor="end" font-size="9.3" fill="#262626" >2000</text>
<text transform="translate(85,191) scale(1,1.04)" text-anchor="end" font-size="9.3" fill="#262626" >0</text>
<text transform="translate(85,211.7) scale(1,1.04)" text-anchor="end" font-size="9.3" fill="#262626" >-2000</text>
<rect x="194.5" y="164.5" width="159.8" height="46" fill="#fff"/>
<path d="M221.13 164.5V210.5 M254.43 164.5V210.5 M287.72 164.5V210.5 M321.01 164.5V210.5 M194.5 181.3H354.3 M194.5 197.5H354.3" stroke="#e6e6e6" stroke-width="0.8" fill="none"/>
<clipPath id="c6"><rect x="194.5" y="164.5" width="159.8" height="46"/></clipPath>
<polyline points="194.5,182.8 194.9,183 195.3,182.2 195.6,182.2 196,182.8 196.4,182 196.8,181.8 197.2,182.4 197.6,181.9 197.9,181.8 198.3,181.8 198.7,180.9 199.1,181.7 199.5,182.2 199.8,181.7 200.2,180.4 200.6,181.4 201,180.7 201.4,181 201.7,181.1 202.1,180.3 202.5,181.7 202.9,180.8 203.3,181.2 203.7,181.1 204,181.4 204.4,181.3 204.8,179.8 205.2,180.6 205.6,179.3 205.9,180.2 206.3,180.8 206.7,180.8 207.1,181 207.5,180 207.8,180.4 208.2,180.2 208.6,180.8 209,180.9 209.4,179.8 209.8,182.1 210.1,179.9 210.5,179.7 210.9,180.2 211.3,180.2 211.7,180.1 212,179.4 212.4,180.5 212.8,179.7 213.2,180.5 213.6,180.4 214,178.9 214.3,179 214.7,178.9 215.1,179.6 215.5,179.4 215.9,179.5 216.2,178.9 216.6,179.5 217,180.1 217.4,178.5 217.8,179.1 218.1,179.3 218.5,179.1 218.9,179 219.3,180.1 219.7,179.8 220.1,179.5 220.4,178.6 220.8,180.2 221.2,179.1 221.6,178.6 222,178.7 222.3,178.5 222.7,179.9 223.1,178.8 223.5,178.7 223.9,177.5 224.2,179 224.6,178 225,177.9 225.4,178.9 225.8,178 226.2,178.9 226.5,179 226.9,177.4 227.3,178.3 227.7,177.5 228.1,178.3 228.4,178.8 228.8,177.5 229.2,179.2 229.6,178 230,177.5 230.4,178.1 230.7,178.5 231.1,177.3 231.5,178.1 231.9,177.3 232.3,178.7 232.6,178.1 233,177.8 233.4,178.5 233.8,177.2 234.2,177.7 234.5,179 234.9,177.9 235.3,178.7 235.7,178 236.1,177.5 236.5,177.8 236.8,178 237.2,177.7 237.6,177.5 238,177.5 238.4,177.1 238.7,178 239.1,178.2 239.5,178.4 239.9,177 240.3,178.4 240.6,178 241,177.2 241.4,178.1 241.8,178.5 242.2,178.4 242.6,178.5 242.9,178.7 243.3,178.7 243.7,178.2 244.1,177.1 244.5,177.9 244.8,178.5 245.2,178.1 245.6,178.8 246,178.9 246.4,178.5 246.7,179.5 247.1,178 247.5,179.1 247.9,178.4 248.3,178.2 248.7,179 249,178.4 249.4,179.3 249.8,178.2 250.2,179 250.6,178.5 250.9,178.9 251.3,178.9 251.7,178.6 252.1,179.6 252.5,178.6 252.9,178.9 253.2,180 253.6,180.1 254,180 254.4,179.9 254.8,181.1 255.1,179.2 255.5,179.6 255.9,179.5 256.3,180.7 256.7,180.4 257,181 257.4,181 257.8,180.5 258.2,180.2 258.6,180.3 259,182.1 259.3,181.6 259.7,181.5 260.1,181.1 260.5,181.3 260.9,181.3 261.2,181.4 261.6,180.4 262,181.8 262.4,181.8 262.8,182.3 263.1,182.4 263.5,182.9 263.9,182.5 264.3,183.1 264.7,181.4 265.1,182.3 265.4,184 265.8,182.5 266.2,183.2 266.6,183.8 267,183.1 267.3,184.1 267.7,183.1 268.1,182.9 268.5,183.4 268.9,183.3 269.3,184.4 269.6,184.3 270,184.8 270.4,184.2 270.8,186.3 271.2,185 271.5,185.1 271.9,185.5 272.3,185.3 272.7,185.2 273.1,185.7 273.4,186.3 273.8,186.3 274.2,186.6 274.6,185.9 275,185.9 275.4,187.5 275.7,186.4 276.1,187 276.5,187.2 276.9,187.7 277.3,186.3 277.6,186.9 278,187.1 278.4,187.3 278.8,186.2 279.2,187.6 279.5,186.2 279.9,188.1 280.3,188.4 280.7,188.5 281.1,187.7 281.5,189 281.8,188.1 282.2,188 282.6,188.3 283,188.5 283.4,189.2 283.7,189.7 284.1,188.2 284.5,189.2 284.9,190.1 285.3,189.9 285.7,190.2 286,189.2 286.4,190.7 286.8,189.4 287.2,190.5 287.6,191.3 287.9,191.7 288.3,191.1 288.7,191.4 289.1,190.7 289.5,190.9 289.8,192 290.2,191.5 290.6,191.5 291,191 291.4,192 291.8,192.4 292.1,191.7 292.5,192 292.9,193.3 293.3,192.7 293.7,192.6 294,192.2 294.4,192.7 294.8,193 295.2,194 295.6,193.1 295.9,194.6 296.3,193.2 296.7,193.7 297.1,194.5 297.5,194 297.9,193.8 298.2,194.4 298.6,194.8 299,193.8 299.4,194.8 299.8,195 300.1,195 300.5,195.8 300.9,195.2 301.3,195.5 301.7,195.8 302.1,196.4 302.4,196 302.8,197.1 303.2,195.9 303.6,197.3 304,196.3 304.3,196.8 304.7,197.3 305.1,198.3 305.5,197.9 305.9,197.3 306.2,198.4 306.6,197.7 307,197.6 307.4,198.4 307.8,198.4 308.2,199 308.5,198.3 308.9,199 309.3,199.3 309.7,199.3 310.1,199.3 310.4,199 310.8,200.1 311.2,199.8 311.6,200.2 312,199.9 312.3,200.2 312.7,199.8 313.1,200.5 313.5,201.1 313.9,200.8 314.3,201.4 314.6,201.2 315,202 315.4,201.2 315.8,200.6 316.2,201.8 316.5,201.6 316.9,201.3 317.3,202.4 317.7,202.3 318.1,202.5 318.4,202.2 318.8,202.6 319.2,202.7 319.6,203.7 320,202.4 320.4,202.9 320.7,203.2 321.1,202.1 321.5,202.3 321.9,204.5 322.3,202.4 322.6,203.7 323,203 323.4,203.2 323.8,202.6 324.2,203.2 324.6,204.2 324.9,203.1 325.3,204.2 325.7,204.1 326.1,205.1 326.5,203.8 326.8,204.8 327.2,204.7 327.6,204.1 328,203.4 328.4,205.1 328.7,203.6 329.1,204.1 329.5,204.9 329.9,205.1 330.3,204 330.7,204.5 331,204.4 331.4,205.2 331.8,206 332.2,203.6 332.6,205.1 332.9,203.1 333.3,204.7 333.7,204.1 334.1,205.8 334.5,204.8 334.8,204.3 335.2,204.5 335.6,204.5 336,204.9 336.4,204.7 336.8,205.2 337.1,205.7 337.5,205.2 337.9,204.2 338.3,204 338.7,204.5 339,205.5 339.4,204.7 339.8,204.5 340.2,205 340.6,204.1 341,204.3 341.3,205.2 341.7,204.7 342.1,204.7 342.5,205.1 342.9,204.6 343.2,204.5 343.6,204.6 344,205.2 344.4,204.8 344.8,204.1 345.1,204.6 345.5,205.1 345.9,205.7 346.3,204 346.7,204.8 347.1,204.4 347.4,204.9 347.8,204.7 348.2,205.2 348.6,204.6 349,203.9 349.3,203.9 349.7,204.3 350.1,204.2 350.5,205.3 350.9,204.8 351.2,203.1 351.6,203.9 352,202.9 352.4,202.6 352.8,203.8 353.2,203.6 353.5,202.7 353.9,204.1 354.3,202.5" fill="none" stroke="#000" stroke-width="1.8" clip-path="url(#c6)" stroke-linejoin="round"/>
<polyline points="194.5,182 195.3,181.4 196.1,180.9 196.9,180.6 197.7,180.3 198.5,180.2 199.3,180 200.1,179.8 200.9,179.5 201.7,179.4 202.5,179.5 203.3,179.3 204.1,179.3 204.9,179.2 205.7,178.9 206.5,178.9 207.3,179 208.2,178.7 209,178.8 209.8,178.6 210.6,178.5 211.4,178.3 212.2,178.2 213,178.1 213.8,178.1 214.6,178.1 215.4,177.9 216.2,177.9 217,177.7 217.8,177.8 218.6,177.7 219.4,177.6 220.2,177.5 221,177.4 221.8,177.6 222.6,177.1 223.4,177.2 224.2,177.3 225,177.1 225.8,177 226.6,177.1 227.4,176.7 228.2,176.7 229,176.8 229.8,176.5 230.6,176.4 231.4,176.7 232.2,176.6 233,176.6 233.8,176.4 234.7,176.5 235.5,176.3 236.3,176.6 237.1,176.5 237.9,176.5 238.7,176.3 239.5,176.6 240.3,176.7 241.1,176.7 241.9,176.7 242.7,176.6 243.5,176.7 244.3,176.8 245.1,176.9 245.9,176.9 246.7,177 247.5,177.3 248.3,177.1 249.1,177.3 249.9,177.3 250.7,177.6 251.5,177.8 252.3,177.9 253.1,178 253.9,178 254.7,178.5 255.5,178.5 256.3,178.7 257.1,178.9 257.9,179.1 258.7,179.4 259.5,179.6 260.3,179.8 261.2,179.8 262,180.4 262.8,180.7 263.6,181 264.4,181.2 265.2,181.5 266,181.8 266.8,182 267.6,182.4 268.4,182.4 269.2,182.7 270,183 270.8,183.2 271.6,183.6 272.4,184.1 273.2,184.3 274,184.5 274.8,184.9 275.6,185 276.4,185.2 277.2,185.6 278,185.8 278.8,186.2 279.6,186.2 280.4,186.7 281.2,186.8 282,187.2 282.8,187.3 283.6,187.7 284.4,188 285.2,188.3 286,188.4 286.8,189 287.6,189.1 288.5,189.3 289.3,189.7 290.1,189.9 290.9,190.3 291.7,190.7 292.5,190.9 293.3,191 294.1,191.3 294.9,191.7 295.7,192 296.5,192.2 297.3,192.5 298.1,193 298.9,193.4 299.7,193.3 300.5,193.9 301.3,194.1 302.1,194.6 302.9,194.9 303.7,195.1 304.5,195.4 305.3,195.7 306.1,195.9 306.9,196.6 307.7,196.8 308.5,197.1 309.3,197.4 310.1,197.7 310.9,198.2 311.7,198.6 312.5,198.9 313.3,198.9 314.1,199.5 315,199.6 315.8,199.8 316.6,200.1 317.4,200.4 318.2,200.8 319,200.9 319.8,201.1 320.6,201.4 321.4,201.8 322.2,201.8 323,202 323.8,202.2 324.6,202.6 325.4,202.2 326.2,202.7 327,202.5 327.8,202.7 328.6,202.8 329.4,203.2 330.2,202.9 331,202.9 331.8,203.2 332.6,203.1 333.4,203.2 334.2,203.2 335,203.3 335.8,203.3 336.6,203.3 337.4,203.4 338.2,203.4 339,203.3 339.8,203.3 340.6,203.3 341.5,203.5 342.3,203.4 343.1,203.4 343.9,203.4 344.7,203.5 345.5,203.3 346.3,203.2 347.1,202.9 347.9,202.8 348.7,202.8 349.5,202.5 350.3,202.5 351.1,202.2 351.9,202.1 352.7,201.7 353.5,201.6 354.3,201.5" fill="none" stroke="#0000ff" stroke-width="1.6" stroke-dasharray="6,1.2,1.5,1.2" clip-path="url(#c6)" stroke-linejoin="round"/>
<polyline points="194.5,180.3 195.3,180.4 196.1,181.1 196.9,181.4 197.7,181.3 198.5,180.8 199.3,180.8 200.1,180.5 200.9,180.9 201.7,181 202.5,180.3 203.3,179.8 204.1,180.3 204.9,180.3 205.7,179.2 206.5,179.9 207.3,180.4 208.2,179.9 209,179.7 209.8,179.6 210.6,179.7 211.4,179 212.2,179 213,179.3 213.8,178.9 214.6,179.1 215.4,178.4 216.2,179.1 217,179 217.8,178.7 218.6,178.7 219.4,179.1 220.2,178.2 221,178.2 221.8,178 222.6,178.2 223.4,177.9 224.2,178.1 225,177.9 225.8,177.6 226.6,177.5 227.4,178.2 228.2,177.8 229,177.7 229.8,177.7 230.6,177.6 231.4,177.8 232.2,177.7 233,177.3 233.8,177.2 234.7,177.1 235.5,177.1 236.3,177.8 237.1,177.2 237.9,176.8 238.7,177.2 239.5,177.2 240.3,177.6 241.1,177.3 241.9,177.8 242.7,177.8 243.5,178.1 244.3,178.4 245.1,178.7 245.9,178.3 246.7,177.7 247.5,178 248.3,178.3 249.1,178.9 249.9,178.6 250.7,178.9 251.5,178.6 252.3,179 253.1,179.2 253.9,179 254.7,179.5 255.5,179.8 256.3,179.6 257.1,180.2 257.9,180.6 258.7,180.4 259.5,180.6 260.3,180.8 261.2,180.9 262,181.4 262.8,181.5 263.6,181.8 264.4,181.9 265.2,182 266,182.5 266.8,183.1 267.6,182.9 268.4,183.4 269.2,184.3 270,184.5 270.8,184.2 271.6,184.9 272.4,184.8 273.2,185.7 274,185.3 274.8,185.8 275.6,186.4 276.4,186 277.2,186.9 278,186.6 278.8,187.2 279.6,187.3 280.4,187.6 281.2,187.9 282,188.1 282.8,188.1 283.6,189 284.4,189.2 285.2,189.6 286,189.9 286.8,189.4 287.6,190.4 288.5,190.7 289.3,190.5 290.1,191.2 290.9,191.6 291.7,191.3 292.5,191.4 293.3,192 294.1,193.2 294.9,192.7 295.7,192.6 296.5,193.2 297.3,193.3 298.1,193.8 298.9,194.2 299.7,193.8 300.5,194.9 301.3,195.6 302.1,195.4 302.9,195.7 303.7,196.5 304.5,196.1 305.3,196.4 306.1,196.7 306.9,197.4 307.7,197.9 308.5,198.1 309.3,198.6 310.1,199.1 310.9,199.3 311.7,199.2 312.5,199.7 313.3,200.5 314.1,200.1 315,200.6 315.8,200.8 316.6,201.2 317.4,201.2 318.2,201.4 319,202.8 319.8,202.5 320.6,202.2 321.4,202.6 322.2,203 323,202.9 323.8,203.3 324.6,203.1 325.4,203.3 326.2,203.5 327,203.5 327.8,203 328.6,203.8 329.4,204 330.2,204.1 331,203.7 331.8,204.2 332.6,204.2 333.4,203.7 334.2,203.6 335,204.4 335.8,204 336.6,204.6 337.4,205 338.2,204.2 339,204.2 339.8,204.4 340.6,204.6 341.5,204.1 342.3,204.8 343.1,204.7 343.9,204.5 344.7,204.1 345.5,204.5 346.3,204.4 347.1,203.7 347.9,204.5 348.7,203.7 349.5,203.7 350.3,203.3 351.1,203.4 351.9,203.5 352.7,202.7 353.5,202.3 354.3,202.4" fill="none" stroke="#ff0000" stroke-width="1.9" stroke-dasharray="4,1.3" clip-path="url(#c6)" stroke-linejoin="round"/>
<rect x="194.5" y="164.5" width="159.8" height="46" fill="none" stroke="#808080" stroke-width="1"/>
<path d="M221.13 210.5v-2.2M221.13 164.5v2.2M254.43 210.5v-2.2M254.43 164.5v2.2M287.72 210.5v-2.2M287.72 164.5v2.2M321.01 210.5v-2.2M321.01 164.5v2.2M354.3 210.5v-2.2M354.3 164.5v2.2M194.5 165.1h2.2M354.3 165.1h-2.2M194.5 181.3h2.2M354.3 181.3h-2.2M194.5 197.5h2.2M354.3 197.5h-2.2" stroke="#5a5a5a" stroke-width="0.9" fill="none"/>
<text transform="translate(221.13,223.9) scale(1,1.04)" text-anchor="middle" font-size="9.3" fill="#262626" >1</text>
<text transform="translate(254.43,223.9) scale(1,1.04)" text-anchor="middle" font-size="9.3" fill="#262626" >2</text>
<text transform="translate(287.72,223.9) scale(1,1.04)" text-anchor="middle" font-size="9.3" fill="#262626" >3</text>
<text transform="translate(321.01,223.9) scale(1,1.04)" text-anchor="middle" font-size="9.3" fill="#262626" >4</text>
<text transform="translate(354.3,223.9) scale(1,1.04)" text-anchor="middle" font-size="9.3" fill="#262626" >5</text>
<text transform="translate(190.5,168.4) scale(1,1.04)" text-anchor="end" font-size="9.3" fill="#262626" >200</text>
<text transform="translate(190.5,184.6) scale(1,1.04)" text-anchor="end" font-size="9.3" fill="#262626" >100</text>
<text transform="translate(190.5,200.8) scale(1,1.04)" text-anchor="end" font-size="9.3" fill="#262626" >0</text>
<path d="M82.3 262.5V349.5 M114.1 262.5V349.5 M145.9 262.5V349.5 M177.7 262.5V349.5 M209.5 262.5V349.5 M241.3 262.5V349.5 M273.1 262.5V349.5 M304.9 262.5V349.5 M336.7 262.5V349.5 M50.5 284.25H368.5 M50.5 306H368.5 M50.5 327.75H368.5" stroke="#e6e6e6" stroke-width="0.8" fill="none"/>
<rect x="50.5" y="262.5" width="318" height="87" fill="none" stroke="#808080" stroke-width="1"/>
<clipPath id="c7"><rect x="49.7" y="261.7" width="319.6" height="88.6"/></clipPath>
<polyline points="50.5,318.6 50.7,321.6 50.9,323.9 51.1,325.3 51.2,326.3 51.4,326.9 51.6,327.3 51.8,327.5 52,327.6 52.2,327.7 52.3,327.7 52.5,327.8 52.7,327.8 52.9,327.8 53.1,327.8 53.3,327.8 53.4,327.8 53.6,327.8 53.8,327.8 54,327.8 54.2,327.8 54.4,327.8 54.6,327.8 54.7,327.8 54.9,327.8 55.1,327.8 55.3,327.8 55.5,327.8 55.7,327.8 55.8,327.8 56,327.8 56.2,327.8 56.4,327.8 56.6,327.8 56.8,327.8 57,327.7 57.1,327.7 57.3,327.7 57.5,327.7 57.7,327.7 57.9,327.7 58.1,327.7 58.2,327.7 58.4,327.7 58.6,327.7 58.8,327.7 59,327.7 59.2,327.7 59.3,327.7 59.5,327.7 59.7,327.7 59.9,327.7 60.1,327.6 60.3,327.6 60.5,327.6 60.6,327.6 60.8,327.6 61,327.6 61.2,327.6 61.4,327.6 61.6,327.6 61.7,327.6 61.9,327.6 62.1,327.6 62.3,327.6 62.5,327.6 62.7,327.6 62.9,327.6 63,327.6 63.2,327.6" fill="none" stroke="#000" stroke-width="1.1" clip-path="url(#c7)" stroke-linejoin="round"/>
<polyline points="63.2,327.6 66,327.6 68.8,327.6 71.6,327.7 74.4,327.7 77.2,327.7 80,327.7 82.8,327.7 85.6,327.7 88.4,327.7 91.2,327.8 94,327.8 96.8,327.8 99.6,327.8 102.4,327.8 105.2,327.8 108,327.8 110.8,327.8 113.6,327.9 116.4,327.9 119.2,327.9 122,327.9 124.8,327.9 127.6,327.9 130.4,327.9 133.2,327.9 136,327.9 138.8,327.9 141.6,327.9 144.4,327.9 147.2,327.9 150,327.9 152.8,327.9 155.6,327.9 158.4,327.9 161.2,327.9 164,327.9 166.8,327.9 169.6,327.9 172.4,327.9 175.2,327.9 178.1,327.9 180.9,327.8 183.7,327.8 186.5,327.8 189.3,327.8 192.1,327.8 194.9,327.8 197.7,327.8 200.5,327.7 203.3,327.7 206.1,327.7 208.9,327.7 211.7,327.7 214.5,327.6 217.3,327.6 220.1,327.6 222.9,327.6 225.7,327.6 228.5,327.5 231.3,327.5 234.1,327.5 236.9,327.5 239.7,327.5 242.5,327.4 245.3,327.4 248.1,327.4 250.9,327.4 253.7,327.3 256.5,327.3 259.3,327.3 262.1,327.3 264.9,327.2 267.7,327.2 270.5,327.2 273.3,327.2 276.1,327.1 278.9,327.1 281.7,327.1 284.5,327 287.3,327 290.1,327 292.9,327 295.7,326.9 298.5,326.9 301.3,326.9 304.1,326.9 306.9,326.9 309.7,326.9 312.5,326.8 315.3,326.8 318.1,326.8 320.9,326.8 323.7,326.8 326.5,326.8 329.3,326.8 332.1,326.8 334.9,326.8 337.7,326.8 340.5,326.8 343.3,326.8 346.1,326.8 348.9,326.8 351.7,326.8 354.5,326.8 357.3,326.8 360.1,326.8 362.9,326.8 365.7,326.8 368.5,326.8" fill="none" stroke="#000" stroke-width="1.1" clip-path="url(#c7)" stroke-linejoin="round"/>
<polyline points="50.5,275.6 50.7,295.3 50.9,309.7 51.1,320.2 51.2,327.2 51.4,330.6 51.6,332.7 51.8,333.9 52,334.9 52.2,335.4 52.3,335.3 52.5,335 52.7,334.5 52.9,334 53.1,333.5 53.3,333 53.4,332.5 53.6,332 53.8,331.6 54,331.2 54.2,330.9 54.4,330.5 54.6,330.2 54.7,330 54.9,329.7 55.1,329.5 55.3,329.3 55.5,329.2 55.7,329 55.8,328.9 56,328.8 56.2,328.6 56.4,328.5 56.6,328.4 56.8,328.3 57,328.2 57.1,328.2 57.3,328.2 57.5,328.1 57.7,328.1 57.9,328.1 58.1,328 58.2,328 58.4,328 58.6,327.9 58.8,327.9 59,327.9 59.2,327.9 59.3,327.9 59.5,327.8 59.7,327.8 59.9,327.8 60.1,327.8 60.3,327.8 60.5,327.8 60.6,327.8 60.8,327.8 61,327.7 61.2,327.7 61.4,327.7 61.6,327.7 61.7,327.7 61.9,327.7 62.1,327.7 62.3,327.7 62.5,327.7 62.7,327.7 62.9,327.7 63,327.7 63.2,327.7" fill="none" stroke="#ff0000" stroke-width="1.25" stroke-dasharray="6.4,3.9" stroke-dashoffset="5.8" clip-path="url(#c7)" stroke-linejoin="round"/>
<polyline points="63.2,327.7 66,327.7 68.8,327.7 71.6,327.7 74.4,327.7 77.2,327.7 80,327.7 82.8,327.7 85.6,327.7 88.4,327.8 91.2,327.8 94,327.8 96.8,327.8 99.6,327.8 102.4,327.8 105.2,327.8 108,327.8 110.8,327.9 113.6,327.9 116.4,327.9 119.2,327.9 122,327.9 124.8,327.9 127.6,327.9 130.4,327.9 133.2,327.9 136,327.9 138.8,327.9 141.6,327.9 144.4,327.9 147.2,327.9 150,327.9 152.8,327.9 155.6,327.9 158.4,327.9 161.2,327.9 164,327.9 166.8,327.9 169.6,327.9 172.4,327.9 175.2,327.9 178.1,327.9 180.9,327.9 183.7,327.8 186.5,327.8 189.3,327.8 192.1,327.8 194.9,327.8 197.7,327.8 200.5,327.7 203.3,327.7 206.1,327.7 208.9,327.7 211.7,327.7 214.5,327.7 217.3,327.6 220.1,327.6 222.9,327.6 225.7,327.6 228.5,327.6 231.3,327.5 234.1,327.5 236.9,327.5 239.7,327.5 242.5,327.4 245.3,327.4 248.1,327.4 250.9,327.4 253.7,327.3 256.5,327.3 259.3,327.3 262.1,327.3 264.9,327.2 267.7,327.2 270.5,327.2 273.3,327.2 276.1,327.1 278.9,327.1 281.7,327.1 284.5,327.1 287.3,327 290.1,327 292.9,327 295.7,327 298.5,326.9 301.3,326.9 304.1,326.9 306.9,326.9 309.7,326.9 312.5,326.9 315.3,326.8 318.1,326.8 320.9,326.8 323.7,326.8 326.5,326.8 329.3,326.8 332.1,326.8 334.9,326.8 337.7,326.8 340.5,326.8 343.3,326.8 346.1,326.8 348.9,326.8 351.7,326.8 354.5,326.8 357.3,326.8 360.1,326.8 362.9,326.8 365.7,326.8 368.5,326.8" fill="none" stroke="#ff0000" stroke-width="1.25" stroke-dasharray="6.4,3.9" stroke-dashoffset="5.8" clip-path="url(#c7)" stroke-linejoin="round"/>
<polyline points="50.5,312.5 50.7,318.9 50.9,323.4 51.1,326.1 51.2,327.6 51.4,328.3 51.6,328.5 51.8,328.6 52,328.6 52.2,328.6 52.3,328.6 52.5,328.5 52.7,328.4 52.9,328.3 53.1,328.2 53.3,328.2 53.4,328.1 53.6,328 53.8,328 54,328 54.2,327.9 54.4,327.9 54.6,327.9 54.7,327.9 54.9,327.9 55.1,327.9 55.3,327.8 55.5,327.8 55.7,327.8 55.8,327.8 56,327.8 56.2,327.8 56.4,327.8 56.6,327.8 56.8,327.8 57,327.8 57.1,327.7 57.3,327.7 57.5,327.7 57.7,327.7 57.9,327.7 58.1,327.7 58.2,327.7 58.4,327.7 58.6,327.7 58.8,327.7 59,327.7 59.2,327.7 59.3,327.7 59.5,327.7 59.7,327.7 59.9,327.7 60.1,327.6 60.3,327.6 60.5,327.6 60.6,327.6 60.8,327.6 61,327.6 61.2,327.6 61.4,327.6 61.6,327.6 61.7,327.6 61.9,327.6 62.1,327.6 62.3,327.6 62.5,327.6 62.7,327.6 62.9,327.6 63,327.6 63.2,327.6" fill="none" stroke="#0000ff" stroke-width="1.25" stroke-dasharray="5.4,1.6,1.5,1.8" clip-path="url(#c7)" stroke-linejoin="round"/>
<polyline points="63.2,327.6 66,327.6 68.8,327.6 71.6,327.7 74.4,327.7 77.2,327.7 80,327.7 82.8,327.7 85.6,327.7 88.4,327.8 91.2,327.8 94,327.8 96.8,327.8 99.6,327.8 102.4,327.8 105.2,327.8 108,327.8 110.8,327.9 113.6,327.9 116.4,327.9 119.2,327.9 122,327.9 124.8,327.9 127.6,327.9 130.4,327.9 133.2,327.9 136,327.9 138.8,327.9 141.6,327.9 144.4,327.9 147.2,327.9 150,327.9 152.8,327.9 155.6,327.9 158.4,327.9 161.2,327.9 164,327.9 166.8,327.9 169.6,327.9 172.4,327.9 175.2,327.9 178.1,327.9 180.9,327.8 183.7,327.8 186.5,327.8 189.3,327.8 192.1,327.8 194.9,327.8 197.7,327.8 200.5,327.7 203.3,327.7 206.1,327.7 208.9,327.7 211.7,327.7 214.5,327.6 217.3,327.6 220.1,327.6 222.9,327.6 225.7,327.6 228.5,327.5 231.3,327.5 234.1,327.5 236.9,327.5 239.7,327.4 242.5,327.4 245.3,327.4 248.1,327.4 250.9,327.4 253.7,327.3 256.5,327.3 259.3,327.3 262.1,327.2 264.9,327.2 267.7,327.2 270.5,327.2 273.3,327.1 276.1,327.1 278.9,327.1 281.7,327.1 284.5,327 287.3,327 290.1,327 292.9,326.9 295.7,326.9 298.5,326.9 301.3,326.9 304.1,326.9 306.9,326.8 309.7,326.8 312.5,326.8 315.3,326.8 318.1,326.8 320.9,326.8 323.7,326.8 326.5,326.8 329.3,326.8 332.1,326.8 334.9,326.8 337.7,326.8 340.5,326.8 343.3,326.8 346.1,326.8 348.9,326.8 351.7,326.8 354.5,326.8 357.3,326.8 360.1,326.8 362.9,326.8 365.7,326.8 368.5,326.8" fill="none" stroke="#0000ff" stroke-width="1.25" stroke-dasharray="5.4,1.6,1.5,1.8" clip-path="url(#c7)" stroke-linejoin="round"/>
<path d="M50.5 349.5v-3.2M50.5 262.5v3.2M82.3 349.5v-3.2M82.3 262.5v3.2M114.1 349.5v-3.2M114.1 262.5v3.2M145.9 349.5v-3.2M145.9 262.5v3.2M177.7 349.5v-3.2M177.7 262.5v3.2M209.5 349.5v-3.2M209.5 262.5v3.2M241.3 349.5v-3.2M241.3 262.5v3.2M273.1 349.5v-3.2M273.1 262.5v3.2M304.9 349.5v-3.2M304.9 262.5v3.2M336.7 349.5v-3.2M336.7 262.5v3.2M368.5 349.5v-3.2M368.5 262.5v3.2M50.5 262.5h3.2M368.5 262.5h-3.2M50.5 284.25h3.2M368.5 284.25h-3.2M50.5 306h3.2M368.5 306h-3.2M50.5 327.75h3.2M368.5 327.75h-3.2M50.5 349.5h3.2M368.5 349.5h-3.2" stroke="#5a5a5a" stroke-width="0.9" fill="none"/>
<text transform="translate(50.5,363.1) scale(1,1.04)" text-anchor="middle" font-size="9.3" fill="#262626" >0</text>
<text transform="translate(82.3,363.1) scale(1,1.04)" text-anchor="middle" font-size="9.3" fill="#262626" >0.5</text>
<text transform="translate(114.1,363.1) scale(1,1.04)" text-anchor="middle" font-size="9.3" fill="#262626" >1</text>
<text transform="translate(145.9,363.1) scale(1,1.04)" text-anchor="middle" font-size="9.3" fill="#262626" >1.5</text>
<text transform="translate(177.7,363.1) scale(1,1.04)" text-anchor="middle" font-size="9.3" fill="#262626" >2</text>
<text transform="translate(209.5,363.1) scale(1,1.04)" text-anchor="middle" font-size="9.3" fill="#262626" >2.5</text>
<text transform="translate(241.3,363.1) scale(1,1.04)" text-anchor="middle" font-size="9.3" fill="#262626" >3</text>
<text transform="translate(273.1,363.1) scale(1,1.04)" text-anchor="middle" font-size="9.3" fill="#262626" >3.5</text>
<text transform="translate(304.9,363.1) scale(1,1.04)" text-anchor="middle" font-size="9.3" fill="#262626" >4</text>
<text transform="translate(336.7,363.1) scale(1,1.04)" text-anchor="middle" font-size="9.3" fill="#262626" >4.5</text>
<text transform="translate(368.5,363.1) scale(1,1.04)" text-anchor="middle" font-size="9.3" fill="#262626" >5</text>
<text transform="translate(46.5,265.8) scale(1,1.04)" text-anchor="end" font-size="9.3" fill="#262626" >15000</text>
<text transform="translate(46.5,287.55) scale(1,1.04)" text-anchor="end" font-size="9.3" fill="#262626" >10000</text>
<text transform="translate(46.5,309.3) scale(1,1.04)" text-anchor="end" font-size="9.3" fill="#262626" >5000</text>
<text transform="translate(46.5,331.05) scale(1,1.04)" text-anchor="end" font-size="9.3" fill="#262626" >0</text>
<text transform="translate(46.5,352.8) scale(1,1.04)" text-anchor="end" font-size="9.3" fill="#262626" >-5000</text>
<g transform="translate(11.2,306) rotate(-90)" font-size="10.2" fill="#262626"><text x="-15.8">M</text><text x="-6.9" y="5.2" font-size="7">3</text><text x="15.45" text-anchor="end">(N)</text></g>
<text x="209.5" y="376.9" text-anchor="middle" font-size="10.5" fill="#262626" >time (s)</text>
<rect x="89" y="271.4" width="73.6" height="45.2" fill="#fff"/>
<path d="M125.8 271.4V316.6 M89 280.4H162.6 M89 297.4H162.6 M89 314.4H162.6" stroke="#e6e6e6" stroke-width="0.8" fill="none"/>
<clipPath id="c8"><rect x="89" y="271.4" width="73.6" height="45.2"/></clipPath>
<polyline points="89,279.5 89.7,281.4 90.4,283.2 91,285.1 91.7,286.9 92.4,288.3 93.1,289.5 93.7,290.5 94.4,291.5 95.1,292.3 95.8,293 96.4,293.6 97.1,294.2 97.8,294.7 98.5,295.1 99.1,295.5 99.8,295.8 100.5,296 101.2,296.3 101.8,296.5 102.5,296.7 103.2,296.8 103.9,296.9 104.5,297 105.2,297.1 105.9,297.1 106.6,297.2 107.2,297.2 107.9,297.3 108.6,297.3 109.3,297.3 109.9,297.4 110.6,297.4 111.3,297.4 112,297.4 112.6,297.4 113.3,297.4 114,297.5 114.7,297.5 115.3,297.5 116,297.5 116.7,297.5 117.4,297.5 118,297.5 118.7,297.5 119.4,297.5 120.1,297.5 120.7,297.5 121.4,297.6 122.1,297.6 122.8,297.6 123.4,297.6 124.1,297.6 124.8,297.6 125.5,297.6 126.1,297.6 126.8,297.6 127.5,297.6 128.2,297.6 128.8,297.6 129.5,297.6 130.2,297.6 130.9,297.6 131.5,297.6 132.2,297.6 132.9,297.6 133.6,297.6 134.2,297.6 134.9,297.6 135.6,297.5 136.3,297.5 136.9,297.5 137.6,297.5 138.3,297.5 139,297.5 139.6,297.5 140.3,297.5 141,297.5 141.7,297.5 142.3,297.5 143,297.5 143.7,297.5 144.4,297.5 145,297.5 145.7,297.5 146.4,297.5 147.1,297.5 147.7,297.5 148.4,297.5 149.1,297.5 149.8,297.5 150.4,297.5 151.1,297.5 151.8,297.5 152.5,297.5 153.1,297.5 153.8,297.4 154.5,297.4 155.2,297.4 155.8,297.4 156.5,297.4 157.2,297.4 157.9,297.4 158.5,297.4 159.2,297.4 159.9,297.4 160.6,297.4 161.2,297.4 161.9,297.4 162.6,297.4" fill="none" stroke="#000" stroke-width="1.2" clip-path="url(#c8)" stroke-linejoin="round"/>
<polyline points="89,195.4 89.7,207.6 90.4,220.1 91,232.2 91.7,243 92.4,252 93.1,259.8 93.7,266.8 94.4,273.5 95.1,279.9 95.8,285.5 96.4,290.1 97.1,294.1 97.8,297.2 98.5,299.4 99.1,301.5 99.8,303.2 100.5,304.7 101.2,306 101.8,307.1 102.5,307.9 103.2,308.6 103.9,309.4 104.5,310 105.2,310.6 105.9,311.2 106.6,311.6 107.2,312 107.9,312.2 108.6,312.3 109.3,312.3 109.9,312.3 110.6,312.2 111.3,312 112,311.8 112.6,311.5 113.3,311.3 114,311 114.7,310.6 115.3,310.3 116,310 116.7,309.7 117.4,309.3 118,309 118.7,308.8 119.4,308.5 120.1,308.2 120.7,307.8 121.4,307.5 122.1,307.2 122.8,306.8 123.4,306.5 124.1,306.2 124.8,305.9 125.5,305.6 126.1,305.4 126.8,305.1 127.5,304.9 128.2,304.6 128.8,304.4 129.5,304.2 130.2,304 130.9,303.7 131.5,303.5 132.2,303.3 132.9,303.1 133.6,302.9 134.2,302.7 134.9,302.5 135.6,302.4 136.3,302.2 136.9,302 137.6,301.9 138.3,301.7 139,301.5 139.6,301.4 140.3,301.3 141,301.1 141.7,301 142.3,300.9 143,300.8 143.7,300.6 144.4,300.5 145,300.4 145.7,300.3 146.4,300.2 147.1,300.1 147.7,300 148.4,299.9 149.1,299.8 149.8,299.7 150.4,299.7 151.1,299.6 151.8,299.5 152.5,299.4 153.1,299.3 153.8,299.3 154.5,299.2 155.2,299.1 155.8,299.1 156.5,299 157.2,298.9 157.9,298.9 158.5,298.8 159.2,298.7 159.9,298.7 160.6,298.6 161.2,298.6 161.9,298.5 162.6,298.4" fill="none" stroke="#ff0000" stroke-width="1.2" stroke-dasharray="6.4,3.9" clip-path="url(#c8)" stroke-linejoin="round"/>
<polyline points="89,267.6 89.7,271.7 90.4,275.8 91,279.5 91.7,282.6 92.4,285.6 93.1,288.2 93.7,290.4 94.4,292 95.1,293.5 95.8,294.8 96.4,295.9 97.1,296.7 97.8,297.4 98.5,297.8 99.1,298.2 99.8,298.4 100.5,298.6 101.2,298.7 101.8,298.8 102.5,298.9 103.2,298.9 103.9,299 104.5,299 105.2,299.1 105.9,299.1 106.6,299.1 107.2,299.1 107.9,299.1 108.6,299.1 109.3,299.1 109.9,299 110.6,299 111.3,298.9 112,298.9 112.6,298.8 113.3,298.8 114,298.7 114.7,298.7 115.3,298.6 116,298.6 116.7,298.5 117.4,298.5 118,298.4 118.7,298.4 119.4,298.3 120.1,298.3 120.7,298.2 121.4,298.2 122.1,298.1 122.8,298.1 123.4,298 124.1,298 124.8,297.9 125.5,297.9 126.1,297.9 126.8,297.9 127.5,297.9 128.2,297.9 128.8,297.8 129.5,297.8 130.2,297.8 130.9,297.8 131.5,297.8 132.2,297.8 132.9,297.8 133.6,297.7 134.2,297.7 134.9,297.7 135.6,297.7 136.3,297.7 136.9,297.7 137.6,297.7 138.3,297.7 139,297.7 139.6,297.7 140.3,297.6 141,297.6 141.7,297.6 142.3,297.6 143,297.6 143.7,297.6 144.4,297.6 145,297.6 145.7,297.6 146.4,297.6 147.1,297.6 147.7,297.6 148.4,297.6 149.1,297.5 149.8,297.5 150.4,297.5 151.1,297.5 151.8,297.5 152.5,297.5 153.1,297.5 153.8,297.5 154.5,297.5 155.2,297.5 155.8,297.5 156.5,297.5 157.2,297.5 157.9,297.5 158.5,297.5 159.2,297.4 159.9,297.4 160.6,297.4 161.2,297.4 161.9,297.4 162.6,297.4" fill="none" stroke="#0000ff" stroke-width="1.2" stroke-dasharray="5.4,1.6,1.5,1.8" clip-path="url(#c8)" stroke-linejoin="round"/>
<rect x="89" y="271.4" width="73.6" height="45.2" fill="none" stroke="#808080" stroke-width="1"/>
<path d="M89 316.6v-2.2M89 271.4v2.2M125.8 316.6v-2.2M125.8 271.4v2.2M162.6 316.6v-2.2M162.6 271.4v2.2M89 280.4h2.2M162.6 280.4h-2.2M89 297.4h2.2M162.6 297.4h-2.2M89 314.4h2.2M162.6 314.4h-2.2" stroke="#5a5a5a" stroke-width="0.9" fill="none"/>
<text transform="translate(89,330) scale(1,1.04)" text-anchor="middle" font-size="9.3" fill="#262626" >0</text>
<text transform="translate(125.8,330) scale(1,1.04)" text-anchor="middle" font-size="9.3" fill="#262626" >0.05</text>
<text transform="translate(162.6,330) scale(1,1.04)" text-anchor="middle" font-size="9.3" fill="#262626" >0.1</text>
<text transform="translate(85,283.7) scale(1,1.04)" text-anchor="end" font-size="9.3" fill="#262626" >2000</text>
<text transform="translate(85,300.7) scale(1,1.04)" text-anchor="end" font-size="9.3" fill="#262626" >0</text>
<text transform="translate(85,317.7) scale(1,1.04)" text-anchor="end" font-size="9.3" fill="#262626" >-2000</text>
<rect x="194.5" y="271.6" width="159.8" height="45.8" fill="#fff"/>
<path d="M221.13 271.6V317.4 M254.43 271.6V317.4 M287.72 271.6V317.4 M321.01 271.6V317.4 M194.5 283.9H354.3 M194.5 295.85H354.3 M194.5 307.8H354.3" stroke="#e6e6e6" stroke-width="0.8" fill="none"/>
<clipPath id="c9"><rect x="194.5" y="271.6" width="159.8" height="45.8"/></clipPath>
<polyline points="194.5,304 194.9,304.3 195.3,304.7 195.6,304.8 196,305.6 196.4,304.4 196.8,305.2 197.2,304.8 197.6,305.9 197.9,306.6 198.3,305.5 198.7,306.4 199.1,305.2 199.5,304.8 199.8,305.1 200.2,305 200.6,305.4 201,305.9 201.4,306.8 201.7,306.7 202.1,306.7 202.5,306.3 202.9,306.3 203.3,306.8 203.7,307 204,307.1 204.4,307.3 204.8,307.2 205.2,306.3 205.6,306.8 205.9,307.1 206.3,308.6 206.7,307.5 207.1,308.3 207.5,308.8 207.8,308.3 208.2,308 208.6,308.2 209,307.9 209.4,308.7 209.8,309.2 210.1,309 210.5,309.2 210.9,309.3 211.3,310.1 211.7,308.7 212,309.3 212.4,309.7 212.8,310.1 213.2,308.1 213.6,309.3 214,309.5 214.3,309.1 214.7,310.3 215.1,310 215.5,309.7 215.9,309.1 216.2,309.4 216.6,309.6 217,310.5 217.4,309.7 217.8,309.3 218.1,309.7 218.5,310.2 218.9,311.5 219.3,312 219.7,310.5 220.1,311.3 220.4,311.6 220.8,311.6 221.2,310.9 221.6,310.3 222,310.8 222.3,310.1 222.7,311.3 223.1,311.7 223.5,310.3 223.9,311.3 224.2,311.6 224.6,312.2 225,312.3 225.4,312 225.8,311.2 226.2,311.5 226.5,312.4 226.9,311.4 227.3,311.8 227.7,312.7 228.1,311.9 228.4,311.1 228.8,311.8 229.2,312.3 229.6,311.9 230,312.7 230.4,312.8 230.7,311.7 231.1,311.8 231.5,312.1 231.9,311.5 232.3,312.4 232.6,312.1 233,312.7 233.4,311.9 233.8,311.8 234.2,313.3 234.5,311.8 234.9,312 235.3,311.9 235.7,312.2 236.1,311.9 236.5,312.4 236.8,312 237.2,312.2 237.6,312.6 238,312.8 238.4,312.7 238.7,312 239.1,312.6 239.5,312.3 239.9,312.3 240.3,311.5 240.6,312.8 241,312.3 241.4,313.3 241.8,312.7 242.2,311.7 242.6,311.6 242.9,313 243.3,311.8 243.7,312.7 244.1,312.1 244.5,313.4 244.8,312.3 245.2,313 245.6,312.9 246,311.9 246.4,311.9 246.7,312.9 247.1,312 247.5,311.5 247.9,312.6 248.3,313.3 248.7,311.9 249,312.6 249.4,311.7 249.8,312.5 250.2,311.6 250.6,312.4 250.9,311.9 251.3,311.4 251.7,311.6 252.1,311.1 252.5,310.7 252.9,310.7 253.2,311.2 253.6,310.6 254,311.3 254.4,311.3 254.8,311.2 255.1,310.6 255.5,310.8 255.9,310.7 256.3,311.3 256.7,310.1 257,310.2 257.4,310.2 257.8,310.2 258.2,309.7 258.6,309.7 259,310.5 259.3,309.5 259.7,310.3 260.1,310.8 260.5,310.2 260.9,308.4 261.2,309.7 261.6,309.5 262,309.4 262.4,308.1 262.8,309.3 263.1,308.2 263.5,309.4 263.9,309.1 264.3,309.8 264.7,308.1 265.1,307.3 265.4,308.6 265.8,308.4 266.2,307.6 266.6,308.4 267,307.9 267.3,306.7 267.7,307.1 268.1,306.9 268.5,307 268.9,307 269.3,306.4 269.6,306.5 270,306.8 270.4,306.3 270.8,306.1 271.2,305.9 271.5,305.9 271.9,304.8 272.3,305.8 272.7,305 273.1,305.5 273.4,304.5 273.8,305.6 274.2,305.1 274.6,304.1 275,304.9 275.4,304.2 275.7,305.4 276.1,304.6 276.5,303.7 276.9,304.1 277.3,303.9 277.6,304.4 278,303.8 278.4,303.7 278.8,302.7 279.2,303.6 279.5,304.1 279.9,303.2 280.3,302.7 280.7,302.6 281.1,301.9 281.5,302.3 281.8,301.5 282.2,302 282.6,301.6 283,301.2 283.4,301.8 283.7,300.5 284.1,301.1 284.5,300.3 284.9,301.9 285.3,301.8 285.7,301 286,301.4 286.4,300.5 286.8,300.3 287.2,299.7 287.6,299.2 287.9,299.6 288.3,299.1 288.7,299 289.1,299.5 289.5,298.8 289.8,297.9 290.2,298.4 290.6,298 291,298 291.4,297.4 291.8,298.5 292.1,298.7 292.5,296.9 292.9,297.7 293.3,297.5 293.7,296.4 294,296.9 294.4,297.4 294.8,296.9 295.2,297.2 295.6,295.4 295.9,295.5 296.3,295.9 296.7,295.7 297.1,295.4 297.5,295 297.9,294.8 298.2,294.5 298.6,294.9 299,292.9 299.4,295.1 299.8,293.8 300.1,293.1 300.5,294 300.9,292.7 301.3,293.5 301.7,292.9 302.1,293.2 302.4,293.2 302.8,293.3 303.2,292.1 303.6,292 304,292 304.3,291 304.7,291.9 305.1,291.4 305.5,290.4 305.9,291.6 306.2,291.5 306.6,289.9 307,290.7 307.4,290.9 307.8,290.5 308.2,289.3 308.5,288.8 308.9,289.4 309.3,289 309.7,289 310.1,288.8 310.4,288.9 310.8,288.2 311.2,288.2 311.6,289.7 312,287.8 312.3,288.1 312.7,287.7 313.1,287.5 313.5,286.7 313.9,287.3 314.3,286.8 314.6,287.1 315,287.6 315.4,286.4 315.8,286.6 316.2,285.4 316.5,285.9 316.9,286.5 317.3,285.5 317.7,285 318.1,285.3 318.4,285 318.8,284.8 319.2,284.6 319.6,285.8 320,284.1 320.4,284.2 320.7,284 321.1,284.9 321.5,283.9 321.9,284.7 322.3,283.9 322.6,283.7 323,282.8 323.4,284.2 323.8,283.8 324.2,283.6 324.6,283.2 324.9,283 325.3,282.4 325.7,283.6 326.1,283.1 326.5,282.7 326.8,282.5 327.2,282.8 327.6,282.7 328,283.6 328.4,283 328.7,282.2 329.1,281.9 329.5,282.3 329.9,281.9 330.3,282.4 330.7,282.5 331,282.6 331.4,282.5 331.8,282.1 332.2,282.5 332.6,281.7 332.9,282.1 333.3,282.5 333.7,282.2 334.1,281.3 334.5,281.4 334.8,281.1 335.2,282.9 335.6,281.1 336,281.8 336.4,282.9 336.8,282.5 337.1,282.6 337.5,281.6 337.9,282.2 338.3,283.5 338.7,281.8 339,282 339.4,281.6 339.8,281.7 340.2,281.9 340.6,282.5 341,281.2 341.3,280.9 341.7,281.7 342.1,281.8 342.5,282.5 342.9,282.1 343.2,281.4 343.6,282 344,282.3 344.4,281.9 344.8,281.6 345.1,282.1 345.5,281.6 345.9,280.8 346.3,282.6 346.7,281.2 347.1,281.7 347.4,281.8 347.8,281.8 348.2,281.9 348.6,281.3 349,282.5 349.3,282.3 349.7,282.3 350.1,282.9 350.5,283 350.9,283.2 351.2,283.6 351.6,282.9 352,281.9 352.4,282.9 352.8,282.8 353.2,283 353.5,282.7 353.9,282.6 354.3,283.6" fill="none" stroke="#000" stroke-width="1.8" clip-path="url(#c9)" stroke-linejoin="round"/>
<polyline points="194.5,303.8 195.3,303.6 196.1,303.9 196.9,304 197.7,304.2 198.5,304.5 199.3,304.6 200.1,304.8 200.9,305.1 201.7,305.1 202.5,305.5 203.3,305.8 204.1,305.9 204.9,306.3 205.7,306.6 206.5,306.8 207.3,307 208.2,307.3 209,307.6 209.8,307.6 210.6,308 211.4,308.2 212.2,308.3 213,308.5 213.8,308.6 214.6,308.9 215.4,309 216.2,309.4 217,309.3 217.8,309.6 218.6,309.7 219.4,309.9 220.2,309.9 221,310 221.8,310.4 222.6,310.4 223.4,310.5 224.2,310.6 225,310.8 225.8,310.9 226.6,311 227.4,311.1 228.2,311.1 229,311.2 229.8,311.1 230.6,311.1 231.4,311.3 232.2,311.3 233,311.7 233.8,311.7 234.7,311.6 235.5,311.5 236.3,311.8 237.1,311.4 237.9,311.5 238.7,311.5 239.5,311.5 240.3,311.6 241.1,311.6 241.9,311.8 242.7,311.6 243.5,311.6 244.3,311.5 245.1,311.4 245.9,311.3 246.7,311.1 247.5,311.1 248.3,311.1 249.1,311.1 249.9,310.7 250.7,310.7 251.5,310.7 252.3,310.4 253.1,310.4 253.9,310.2 254.7,310 255.5,309.8 256.3,309.7 257.1,309.5 257.9,309.3 258.7,309 259.5,308.9 260.3,308.7 261.2,308.3 262,308.2 262.8,308 263.6,307.8 264.4,307.5 265.2,307.2 266,306.8 266.8,306.5 267.6,306.4 268.4,306 269.2,305.9 270,305.6 270.8,305.1 271.6,305 272.4,304.6 273.2,304.5 274,304.1 274.8,303.7 275.6,303.5 276.4,303 277.2,302.8 278,302.5 278.8,302.2 279.6,301.9 280.4,301.4 281.2,301 282,300.8 282.8,300.5 283.6,300.1 284.4,300.1 285.2,299.6 286,299.2 286.8,298.7 287.6,298.3 288.5,298.2 289.3,297.9 290.1,297.4 290.9,297 291.7,296.7 292.5,296.4 293.3,295.7 294.1,295.5 294.9,295.2 295.7,294.8 296.5,294.4 297.3,293.8 298.1,293.5 298.9,293 299.7,292.7 300.5,292.3 301.3,292 302.1,291.4 302.9,291 303.7,290.8 304.5,290.3 305.3,290 306.1,289.4 306.9,288.8 307.7,288.6 308.5,288.2 309.3,287.7 310.1,287.1 310.9,286.9 311.7,286.5 312.5,286.1 313.3,285.4 314.1,285.4 315,284.7 315.8,284.5 316.6,284.3 317.4,283.7 318.2,283.4 319,283.2 319.8,283.1 320.6,282.9 321.4,282.4 322.2,282.3 323,282.1 323.8,281.8 324.6,281.6 325.4,281.4 326.2,281.4 327,281.2 327.8,281.3 328.6,281 329.4,280.5 330.2,280.5 331,280.6 331.8,280.5 332.6,280.2 333.4,280.3 334.2,280.3 335,280.2 335.8,280.2 336.6,280.2 337.4,280.3 338.2,280.1 339,279.9 339.8,279.9 340.6,279.9 341.5,280 342.3,279.9 343.1,279.9 343.9,279.9 344.7,280.1 345.5,280.2 346.3,280.2 347.1,280.2 347.9,280.4 348.7,280.3 349.5,280.4 350.3,280.6 351.1,280.9 351.9,281 352.7,281 353.5,281.3 354.3,281.5" fill="none" stroke="#0000ff" stroke-width="1.6" stroke-dasharray="6,1.2,1.5,1.2" clip-path="url(#c9)" stroke-linejoin="round"/>
<polyline points="194.5,306.5 195.3,305.7 196.1,305.8 196.9,305.6 197.7,305.7 198.5,306 199.3,306.4 200.1,306.9 200.9,307.1 201.7,307 202.5,307 203.3,307.2 204.1,307.5 204.9,308.1 205.7,307.2 206.5,308.4 207.3,307.9 208.2,308.7 209,309.3 209.8,308.9 210.6,308.7 211.4,310 212.2,310.2 213,310.1 213.8,310.5 214.6,310.1 215.4,310.8 216.2,311.1 217,311 217.8,311 218.6,311.5 219.4,311.6 220.2,311.1 221,311.9 221.8,311.8 222.6,311.8 223.4,312.2 224.2,312.2 225,312.3 225.8,312 226.6,312.5 227.4,312 228.2,312.4 229,312 229.8,312 230.6,312.8 231.4,312.7 232.2,312.8 233,313 233.8,312.9 234.7,312.6 235.5,312.9 236.3,312.9 237.1,312.8 237.9,312.9 238.7,312.8 239.5,312.8 240.3,312.8 241.1,313 241.9,313.5 242.7,312.6 243.5,313 244.3,312.4 245.1,313.2 245.9,312.6 246.7,312.7 247.5,312.9 248.3,312.7 249.1,311.9 249.9,312.4 250.7,312.1 251.5,312.2 252.3,311.9 253.1,312 253.9,311.7 254.7,311.4 255.5,311.6 256.3,310.6 257.1,310.8 257.9,310.4 258.7,310.5 259.5,310.2 260.3,310 261.2,309.7 262,309.5 262.8,308.9 263.6,309.1 264.4,309 265.2,308.4 266,308.2 266.8,307.9 267.6,308.3 268.4,307.6 269.2,307.4 270,306.9 270.8,306.6 271.6,306.2 272.4,306.6 273.2,305.4 274,305.7 274.8,305.3 275.6,304.9 276.4,304.2 277.2,304 278,304.4 278.8,303.6 279.6,303.7 280.4,303.4 281.2,303 282,302.7 282.8,301.8 283.6,301.7 284.4,301.7 285.2,300.8 286,301.4 286.8,300.4 287.6,300.2 288.5,299.5 289.3,299.6 290.1,298.9 290.9,298.7 291.7,298.1 292.5,298.4 293.3,297.2 294.1,297.4 294.9,297 295.7,296.7 296.5,295.9 297.3,296.1 298.1,295.7 298.9,295 299.7,294.7 300.5,294.2 301.3,294 302.1,293.2 302.9,293.2 303.7,292.7 304.5,291.8 305.3,291 306.1,291.3 306.9,290.9 307.7,290.9 308.5,290.2 309.3,289.6 310.1,288.9 310.9,288.9 311.7,288.4 312.5,287.8 313.3,287.7 314.1,287.7 315,287.1 315.8,286.4 316.6,286.5 317.4,285.7 318.2,285.2 319,285.6 319.8,285 320.6,285.2 321.4,284.7 322.2,284.2 323,284.3 323.8,284.4 324.6,283.7 325.4,283.3 326.2,283.3 327,283.1 327.8,282.9 328.6,282.7 329.4,283.1 330.2,283.2 331,282.7 331.8,283 332.6,282.9 333.4,283.1 334.2,282.5 335,282.4 335.8,282.6 336.6,282.4 337.4,282.5 338.2,282.7 339,282.2 339.8,282.3 340.6,281.9 341.5,282.2 342.3,282 343.1,282 343.9,282.2 344.7,282.1 345.5,282.4 346.3,282.6 347.1,282 347.9,282.9 348.7,282 349.5,282.9 350.3,283.1 351.1,282.9 351.9,283.1 352.7,283.1 353.5,283.8 354.3,282.7" fill="none" stroke="#ff0000" stroke-width="1.9" stroke-dasharray="4,1.3" clip-path="url(#c9)" stroke-linejoin="round"/>
<rect x="194.5" y="271.6" width="159.8" height="45.8" fill="none" stroke="#808080" stroke-width="1"/>
<path d="M221.13 317.4v-2.2M221.13 271.6v2.2M254.43 317.4v-2.2M254.43 271.6v2.2M287.72 317.4v-2.2M287.72 271.6v2.2M321.01 317.4v-2.2M321.01 271.6v2.2M354.3 317.4v-2.2M354.3 271.6v2.2M194.5 271.95h2.2M354.3 271.95h-2.2M194.5 283.9h2.2M354.3 283.9h-2.2M194.5 295.85h2.2M354.3 295.85h-2.2M194.5 307.8h2.2M354.3 307.8h-2.2" stroke="#5a5a5a" stroke-width="0.9" fill="none"/>
<text transform="translate(221.13,330.8) scale(1,1.04)" text-anchor="middle" font-size="9.3" fill="#262626" >1</text>
<text transform="translate(254.43,330.8) scale(1,1.04)" text-anchor="middle" font-size="9.3" fill="#262626" >2</text>
<text transform="translate(287.72,330.8) scale(1,1.04)" text-anchor="middle" font-size="9.3" fill="#262626" >3</text>
<text transform="translate(321.01,330.8) scale(1,1.04)" text-anchor="middle" font-size="9.3" fill="#262626" >4</text>
<text transform="translate(354.3,330.8) scale(1,1.04)" text-anchor="middle" font-size="9.3" fill="#262626" >5</text>
<text transform="translate(190.5,275.25) scale(1,1.04)" text-anchor="end" font-size="9.3" fill="#262626" >300</text>
<text transform="translate(190.5,287.2) scale(1,1.04)" text-anchor="end" font-size="9.3" fill="#262626" >200</text>
<text transform="translate(190.5,299.15) scale(1,1.04)" text-anchor="end" font-size="9.3" fill="#262626" >100</text>
<text transform="translate(190.5,311.1) scale(1,1.04)" text-anchor="end" font-size="9.3" fill="#262626" >0</text>
<path d="M498.4 18.8V106.5 M530.3 18.8V106.5 M562.2 18.8V106.5 M594.1 18.8V106.5 M626 18.8V106.5 M657.9 18.8V106.5 M689.8 18.8V106.5 M721.7 18.8V106.5 M753.6 18.8V106.5 M466.5 20.6H785.5 M466.5 39.8H785.5 M466.5 59H785.5 M466.5 78.2H785.5 M466.5 97.4H785.5" stroke="#e6e6e6" stroke-width="0.8" fill="none"/>
<rect x="466.5" y="18.8" width="319" height="87.7" fill="none" stroke="#808080" stroke-width="1"/>
<clipPath id="c10"><rect x="465.7" y="18" width="320.6" height="89.3"/></clipPath>
<polyline points="466.5,1.4 466.7,58.3 466.9,71 467.1,77.8 467.2,82.8 467.4,87 467.6,90.3 467.8,92.8 468,94.8 468.2,96.4 468.3,98 468.5,99.8 468.7,101.5 468.9,102.3 469.1,102.3 469.3,102.2 469.5,102 469.6,101.9 469.8,101.7 470,101.5 470.2,101.3 470.4,101.2 470.6,101.1 470.8,101 470.9,100.8 471.1,100.7 471.3,100.6 471.5,100.5 471.7,100.4 471.9,100.2 472,100.1 472.2,100 472.4,99.9 472.6,99.8 472.8,99.7 473,99.5 473.2,99.4 473.3,99.3 473.5,99.2 473.7,99.1 473.9,99 474.1,98.9 474.3,98.8 474.5,98.7 474.6,98.7 474.8,98.6 475,98.5 475.2,98.4 475.4,98.4 475.6,98.3 475.7,98.2 475.9,98.2 476.1,98.1 476.3,98 476.5,98 476.7,97.9 476.9,97.9 477,97.8 477.2,97.8 477.4,97.7 477.6,97.7 477.8,97.7 478,97.6 478.2,97.6 478.3,97.5 478.5,97.5 478.7,97.5 478.9,97.4 479.1,97.4 479.3,97.4" fill="none" stroke="#000" stroke-width="1.1" clip-path="url(#c10)" stroke-linejoin="round"/>
<polyline points="479.3,97.4 482.1,97.1 484.9,96.9 487.7,96.8 490.5,96.7 493.3,96.7 496.1,96.7 498.9,96.7 501.7,96.6 504.5,96.6 507.4,96.6 510.2,96.6 513,96.6 515.8,96.6 518.6,96.6 521.4,96.6 524.2,96.6 527,96.6 529.8,96.6 532.6,96.6 535.5,96.5 538.3,96.5 541.1,96.5 543.9,96.5 546.7,96.5 549.5,96.5 552.3,96.5 555.1,96.5 557.9,96.5 560.7,96.5 563.5,96.5 566.4,96.4 569.2,96.4 572,96.4 574.8,96.4 577.6,96.4 580.4,96.4 583.2,96.4 586,96.4 588.8,96.4 591.6,96.4 594.5,96.4 597.3,96.4 600.1,96.3 602.9,96.3 605.7,96.3 608.5,96.3 611.3,96.3 614.1,96.3 616.9,96.3 619.7,96.3 622.5,96.3 625.4,96.3 628.2,96.3 631,96.3 633.8,96.2 636.6,96.2 639.4,96.2 642.2,96.2 645,96.2 647.8,96.2 650.6,96.2 653.5,96.2 656.3,96.2 659.1,96.2 661.9,96.2 664.7,96.2 667.5,96.2 670.3,96.2 673.1,96.2 675.9,96.2 678.7,96.2 681.5,96.2 684.4,96.2 687.2,96.2 690,96.2 692.8,96.2 695.6,96.2 698.4,96.2 701.2,96.2 704,96.2 706.8,96.2 709.6,96.3 712.5,96.3 715.3,96.3 718.1,96.3 720.9,96.3 723.7,96.3 726.5,96.3 729.3,96.3 732.1,96.3 734.9,96.3 737.7,96.4 740.5,96.4 743.4,96.4 746.2,96.4 749,96.4 751.8,96.4 754.6,96.4 757.4,96.4 760.2,96.4 763,96.5 765.8,96.5 768.6,96.5 771.5,96.5 774.3,96.5 777.1,96.5 779.9,96.5 782.7,96.5 785.5,96.5" fill="none" stroke="#000" stroke-width="1.1" clip-path="url(#c10)" stroke-linejoin="round"/>
<polyline points="466.5,1.4 466.7,57.9 466.9,80.8 467.1,90.4 467.2,95.5 467.4,99.4 467.6,103.2 467.8,105.7 468,106.2 468.2,105.7 468.3,104.9 468.5,104 468.7,103.2 468.9,102.6 469.1,102.1 469.3,101.6 469.5,101.2 469.6,100.8 469.8,100.4 470,100 470.2,99.6 470.4,99.3 470.6,98.9 470.8,98.6 470.9,98.3 471.1,98 471.3,97.7 471.5,97.5 471.7,97.3 471.9,97.2 472,97 472.2,96.9 472.4,96.8 472.6,96.6 472.8,96.5 473,96.4 473.2,96.5 473.3,96.5 473.5,96.5 473.7,96.5 473.9,96.5 474.1,96.5 474.3,96.5 474.5,96.5 474.6,96.5 474.8,96.5 475,96.5 475.2,96.5 475.4,96.5 475.6,96.6 475.7,96.6 475.9,96.6 476.1,96.6 476.3,96.6 476.5,96.6 476.7,96.6 476.9,96.6 477,96.6 477.2,96.6 477.4,96.6 477.6,96.6 477.8,96.6 478,96.6 478.2,96.6 478.3,96.6 478.5,96.6 478.7,96.6 478.9,96.6 479.1,96.6 479.3,96.6" fill="none" stroke="#ff0000" stroke-width="1.25" stroke-dasharray="6.4,3.9" stroke-dashoffset="5.8" clip-path="url(#c10)" stroke-linejoin="round"/>
<polyline points="479.3,96.6 482.1,96.6 484.9,96.7 487.7,96.7 490.5,96.7 493.3,96.7 496.1,96.7 498.9,96.6 501.7,96.6 504.5,96.6 507.4,96.6 510.2,96.6 513,96.6 515.8,96.6 518.6,96.6 521.4,96.6 524.2,96.6 527,96.6 529.8,96.6 532.6,96.6 535.5,96.5 538.3,96.5 541.1,96.5 543.9,96.5 546.7,96.5 549.5,96.5 552.3,96.5 555.1,96.5 557.9,96.5 560.7,96.5 563.5,96.5 566.4,96.4 569.2,96.4 572,96.4 574.8,96.4 577.6,96.4 580.4,96.4 583.2,96.4 586,96.4 588.8,96.4 591.6,96.4 594.5,96.4 597.3,96.4 600.1,96.3 602.9,96.3 605.7,96.3 608.5,96.3 611.3,96.3 614.1,96.3 616.9,96.3 619.7,96.3 622.5,96.3 625.4,96.3 628.2,96.3 631,96.3 633.8,96.2 636.6,96.2 639.4,96.2 642.2,96.2 645,96.2 647.8,96.2 650.6,96.2 653.5,96.2 656.3,96.2 659.1,96.2 661.9,96.2 664.7,96.2 667.5,96.2 670.3,96.2 673.1,96.2 675.9,96.2 678.7,96.2 681.5,96.2 684.4,96.2 687.2,96.2 690,96.2 692.8,96.2 695.6,96.2 698.4,96.2 701.2,96.2 704,96.2 706.8,96.2 709.6,96.3 712.5,96.3 715.3,96.3 718.1,96.3 720.9,96.3 723.7,96.3 726.5,96.3 729.3,96.3 732.1,96.3 734.9,96.3 737.7,96.4 740.5,96.4 743.4,96.4 746.2,96.4 749,96.4 751.8,96.4 754.6,96.4 757.4,96.4 760.2,96.4 763,96.5 765.8,96.5 768.6,96.5 771.5,96.5 774.3,96.5 777.1,96.5 779.9,96.5 782.7,96.5 785.5,96.5" fill="none" stroke="#ff0000" stroke-width="1.25" stroke-dasharray="6.4,3.9" stroke-dashoffset="5.8" clip-path="url(#c10)" stroke-linejoin="round"/>
<polyline points="466.5,1.4 466.7,58 466.9,78.1 467.1,87.4 467.2,92.3 467.4,95.7 467.6,97.6 467.8,98.8 468,99.7 468.2,100 468.3,100.1 468.5,100.2 468.7,100.3 468.9,100.2 469.1,100.1 469.3,99.9 469.5,99.7 469.6,99.5 469.8,99.4 470,99.3 470.2,99.3 470.4,99.2 470.6,99.1 470.8,99 470.9,99 471.1,98.9 471.3,98.9 471.5,98.8 471.7,98.7 471.9,98.7 472,98.6 472.2,98.6 472.4,98.5 472.6,98.5 472.8,98.4 473,98.3 473.2,98.3 473.3,98.2 473.5,98.1 473.7,98.1 473.9,98 474.1,98 474.3,97.9 474.5,97.9 474.6,97.8 474.8,97.8 475,97.7 475.2,97.7 475.4,97.6 475.6,97.6 475.7,97.6 475.9,97.5 476.1,97.5 476.3,97.5 476.5,97.4 476.7,97.4 476.9,97.4 477,97.3 477.2,97.3 477.4,97.3 477.6,97.3 477.8,97.2 478,97.2 478.2,97.2 478.3,97.2 478.5,97.2 478.7,97.1 478.9,97.1 479.1,97.1 479.3,97.1" fill="none" stroke="#0000ff" stroke-width="1.25" stroke-dasharray="5.4,1.6,1.5,1.8" clip-path="url(#c10)" stroke-linejoin="round"/>
<polyline points="479.3,97.1 482.1,96.9 484.9,96.8 487.7,96.7 490.5,96.7 493.3,96.7 496.1,96.7 498.9,96.7 501.7,96.6 504.5,96.6 507.4,96.6 510.2,96.6 513,96.6 515.8,96.6 518.6,96.6 521.4,96.6 524.2,96.6 527,96.6 529.8,96.6 532.6,96.6 535.5,96.5 538.3,96.5 541.1,96.5 543.9,96.5 546.7,96.5 549.5,96.5 552.3,96.5 555.1,96.5 557.9,96.5 560.7,96.5 563.5,96.5 566.4,96.4 569.2,96.4 572,96.4 574.8,96.4 577.6,96.4 580.4,96.4 583.2,96.4 586,96.4 588.8,96.4 591.6,96.4 594.5,96.4 597.3,96.4 600.1,96.3 602.9,96.3 605.7,96.3 608.5,96.3 611.3,96.3 614.1,96.3 616.9,96.3 619.7,96.3 622.5,96.3 625.4,96.3 628.2,96.3 631,96.3 633.8,96.2 636.6,96.2 639.4,96.2 642.2,96.2 645,96.2 647.8,96.2 650.6,96.2 653.5,96.2 656.3,96.2 659.1,96.2 661.9,96.2 664.7,96.2 667.5,96.2 670.3,96.2 673.1,96.2 675.9,96.2 678.7,96.2 681.5,96.2 684.4,96.2 687.2,96.2 690,96.2 692.8,96.2 695.6,96.2 698.4,96.2 701.2,96.2 704,96.2 706.8,96.2 709.6,96.3 712.5,96.3 715.3,96.3 718.1,96.3 720.9,96.3 723.7,96.3 726.5,96.3 729.3,96.3 732.1,96.3 734.9,96.3 737.7,96.4 740.5,96.4 743.4,96.4 746.2,96.4 749,96.4 751.8,96.4 754.6,96.4 757.4,96.4 760.2,96.4 763,96.5 765.8,96.5 768.6,96.5 771.5,96.5 774.3,96.5 777.1,96.5 779.9,96.5 782.7,96.5 785.5,96.5" fill="none" stroke="#0000ff" stroke-width="1.25" stroke-dasharray="5.4,1.6,1.5,1.8" clip-path="url(#c10)" stroke-linejoin="round"/>
<path d="M466.5 106.5v-3.2M466.5 18.8v3.2M498.4 106.5v-3.2M498.4 18.8v3.2M530.3 106.5v-3.2M530.3 18.8v3.2M562.2 106.5v-3.2M562.2 18.8v3.2M594.1 106.5v-3.2M594.1 18.8v3.2M626 106.5v-3.2M626 18.8v3.2M657.9 106.5v-3.2M657.9 18.8v3.2M689.8 106.5v-3.2M689.8 18.8v3.2M721.7 106.5v-3.2M721.7 18.8v3.2M753.6 106.5v-3.2M753.6 18.8v3.2M785.5 106.5v-3.2M785.5 18.8v3.2M466.5 20.6h3.2M785.5 20.6h-3.2M466.5 39.8h3.2M785.5 39.8h-3.2M466.5 59h3.2M785.5 59h-3.2M466.5 78.2h3.2M785.5 78.2h-3.2M466.5 97.4h3.2M785.5 97.4h-3.2" stroke="#5a5a5a" stroke-width="0.9" fill="none"/>
<text transform="translate(466.5,120.1) scale(1,1.04)" text-anchor="middle" font-size="9.3" fill="#262626" >0</text>
<text transform="translate(498.4,120.1) scale(1,1.04)" text-anchor="middle" font-size="9.3" fill="#262626" >0.5</text>
<text transform="translate(530.3,120.1) scale(1,1.04)" text-anchor="middle" font-size="9.3" fill="#262626" >1</text>
<text transform="translate(562.2,120.1) scale(1,1.04)" text-anchor="middle" font-size="9.3" fill="#262626" >1.5</text>
<text transform="translate(594.1,120.1) scale(1,1.04)" text-anchor="middle" font-size="9.3" fill="#262626" >2</text>
<text transform="translate(626,120.1) scale(1,1.04)" text-anchor="middle" font-size="9.3" fill="#262626" >2.5</text>
<text transform="translate(657.9,120.1) scale(1,1.04)" text-anchor="middle" font-size="9.3" fill="#262626" >3</text>
<text transform="translate(689.8,120.1) scale(1,1.04)" text-anchor="middle" font-size="9.3" fill="#262626" >3.5</text>
<text transform="translate(721.7,120.1) scale(1,1.04)" text-anchor="middle" font-size="9.3" fill="#262626" >4</text>
<text transform="translate(753.6,120.1) scale(1,1.04)" text-anchor="middle" font-size="9.3" fill="#262626" >4.5</text>
<text transform="translate(785.5,120.1) scale(1,1.04)" text-anchor="middle" font-size="9.3" fill="#262626" >5</text>
<text transform="translate(462.5,23.9) scale(1,1.04)" text-anchor="end" font-size="9.3" fill="#262626" >4000</text>
<text transform="translate(462.5,43.1) scale(1,1.04)" text-anchor="end" font-size="9.3" fill="#262626" >3000</text>
<text transform="translate(462.5,62.3) scale(1,1.04)" text-anchor="end" font-size="9.3" fill="#262626" >2000</text>
<text transform="translate(462.5,81.5) scale(1,1.04)" text-anchor="end" font-size="9.3" fill="#262626" >1000</text>
<text transform="translate(462.5,100.7) scale(1,1.04)" text-anchor="end" font-size="9.3" fill="#262626" >0</text>
<g transform="translate(432.4,62.65) rotate(-90)" font-size="10.2" fill="#262626"><text x="-15.8">M</text><text x="-6.9" y="5.2" font-size="7">4</text><text x="15.45" text-anchor="end">(N)</text></g>
<rect x="509.3" y="28.3" width="73.4" height="45.2" fill="#fff"/>
<path d="M546 28.3V73.5 M509.3 43.7H582.7 M509.3 58.6H582.7" stroke="#e6e6e6" stroke-width="0.8" fill="none"/>
<clipPath id="c11"><rect x="509.3" y="28.3" width="73.4" height="45.2"/></clipPath>
<polyline points="509.3,-15.9 510,-0.2 510.6,16 511.3,27.3 512,31.6 512.7,34.8 513.3,37.4 514,39.5 514.7,41.3 515.4,42.7 516,44 516.7,45.3 517.4,46.6 518.1,47.7 518.7,48.8 519.4,49.8 520.1,50.7 520.7,51.6 521.4,52.4 522.1,53.1 522.8,53.8 523.4,54.4 524.1,55 524.8,55.5 525.5,56 526.1,56.5 526.8,56.9 527.5,57.3 528.2,57.7 528.8,58 529.5,58.4 530.2,58.8 530.8,59.2 531.5,59.7 532.2,60.1 532.9,60.6 533.5,61 534.2,61.4 534.9,61.8 535.6,62.1 536.2,62.3 536.9,62.4 537.6,62.4 538.3,62.4 538.9,62.4 539.6,62.4 540.3,62.3 540.9,62.3 541.6,62.3 542.3,62.3 543,62.2 543.6,62.2 544.3,62.1 545,62.1 545.7,62.1 546.3,62 547,62 547.7,61.9 548.4,61.9 549,61.8 549.7,61.8 550.4,61.7 551.1,61.7 551.7,61.7 552.4,61.6 553.1,61.6 553.7,61.6 554.4,61.5 555.1,61.5 555.8,61.5 556.4,61.4 557.1,61.4 557.8,61.4 558.5,61.3 559.1,61.3 559.8,61.3 560.5,61.3 561.2,61.2 561.8,61.2 562.5,61.2 563.2,61.1 563.8,61.1 564.5,61.1 565.2,61.1 565.9,61 566.5,61 567.2,61 567.9,60.9 568.6,60.9 569.2,60.9 569.9,60.9 570.6,60.8 571.3,60.8 571.9,60.8 572.6,60.7 573.3,60.7 573.9,60.7 574.6,60.7 575.3,60.6 576,60.6 576.6,60.6 577.3,60.5 578,60.5 578.7,60.5 579.3,60.5 580,60.4 580.7,60.4 581.4,60.4 582,60.3 582.7,60.3" fill="none" stroke="#000" stroke-width="1.2" clip-path="url(#c11)" stroke-linejoin="round"/>
<polyline points="509.3,-15.9 510,-0.9 510.6,14.5 511.3,26.6 512,33.8 512.7,39.7 513.3,44.5 514,48 514.7,50.5 515.4,52.3 516,53.9 516.7,55.3 517.4,56.4 518.1,57.5 518.7,58.4 519.4,59.4 520.1,60.4 520.7,61.3 521.4,62.3 522.1,63.1 522.8,63.9 523.4,64.5 524.1,65 524.8,65.3 525.5,65.5 526.1,65.4 526.8,65.4 527.5,65.2 528.2,65.1 528.8,64.9 529.5,64.7 530.2,64.5 530.8,64.3 531.5,64.1 532.2,63.9 532.9,63.6 533.5,63.4 534.2,63.3 534.9,63.1 535.6,63 536.2,62.8 536.9,62.7 537.6,62.6 538.3,62.4 538.9,62.3 539.6,62.2 540.3,62.1 540.9,61.9 541.6,61.8 542.3,61.7 543,61.6 543.6,61.5 544.3,61.4 545,61.3 545.7,61.2 546.3,61.1 547,61 547.7,60.9 548.4,60.8 549,60.7 549.7,60.6 550.4,60.5 551.1,60.4 551.7,60.3 552.4,60.2 553.1,60.2 553.7,60.1 554.4,60 555.1,59.9 555.8,59.8 556.4,59.7 557.1,59.7 557.8,59.6 558.5,59.5 559.1,59.4 559.8,59.3 560.5,59.3 561.2,59.2 561.8,59.1 562.5,59.1 563.2,59 563.8,58.9 564.5,58.9 565.2,58.8 565.9,58.8 566.5,58.7 567.2,58.7 567.9,58.6 568.6,58.6 569.2,58.5 569.9,58.5 570.6,58.4 571.3,58.4 571.9,58.4 572.6,58.3 573.3,58.3 573.9,58.3 574.6,58.2 575.3,58.2 576,58.2 576.6,58.1 577.3,58.1 578,58.1 578.7,58 579.3,58 580,58 580.7,58 581.4,57.9 582,57.9 582.7,57.9" fill="none" stroke="#ff0000" stroke-width="1.2" stroke-dasharray="6.4,3.9" clip-path="url(#c11)" stroke-linejoin="round"/>
<polyline points="509.3,-15.9 510,-0.7 510.6,15 511.3,26.8 512,33.1 512.7,38.2 513.3,42.5 514,45.8 514.7,48.3 515.4,50.1 516,51.5 516.7,52.8 517.4,54 518.1,55 518.7,55.9 519.4,56.7 520.1,57.4 520.7,57.9 521.4,58.4 522.1,58.8 522.8,59.1 523.4,59.4 524.1,59.7 524.8,59.9 525.5,60.1 526.1,60.3 526.8,60.4 527.5,60.5 528.2,60.6 528.8,60.6 529.5,60.7 530.2,60.7 530.8,60.7 531.5,60.8 532.2,60.8 532.9,60.8 533.5,60.8 534.2,60.8 534.9,60.8 535.6,60.8 536.2,60.8 536.9,60.8 537.6,60.8 538.3,60.7 538.9,60.7 539.6,60.6 540.3,60.6 540.9,60.6 541.6,60.5 542.3,60.5 543,60.4 543.6,60.4 544.3,60.3 545,60.3 545.7,60.3 546.3,60.2 547,60.2 547.7,60.2 548.4,60.2 549,60.1 549.7,60.1 550.4,60.1 551.1,60.1 551.7,60.1 552.4,60 553.1,60 553.7,60 554.4,60 555.1,60 555.8,59.9 556.4,59.9 557.1,59.9 557.8,59.9 558.5,59.9 559.1,59.9 559.8,59.8 560.5,59.8 561.2,59.8 561.8,59.8 562.5,59.8 563.2,59.8 563.8,59.7 564.5,59.7 565.2,59.7 565.9,59.7 566.5,59.7 567.2,59.7 567.9,59.7 568.6,59.7 569.2,59.6 569.9,59.6 570.6,59.6 571.3,59.6 571.9,59.6 572.6,59.6 573.3,59.6 573.9,59.5 574.6,59.5 575.3,59.5 576,59.5 576.6,59.5 577.3,59.5 578,59.5 578.7,59.4 579.3,59.4 580,59.4 580.7,59.4 581.4,59.4 582,59.4 582.7,59.3" fill="none" stroke="#0000ff" stroke-width="1.2" stroke-dasharray="5.4,1.6,1.5,1.8" clip-path="url(#c11)" stroke-linejoin="round"/>
<rect x="509.3" y="28.3" width="73.4" height="45.2" fill="none" stroke="#808080" stroke-width="1"/>
<path d="M509.3 73.5v-2.2M509.3 28.3v2.2M546 73.5v-2.2M546 28.3v2.2M582.7 73.5v-2.2M582.7 28.3v2.2M509.3 28.8h2.2M582.7 28.8h-2.2M509.3 43.7h2.2M582.7 43.7h-2.2M509.3 58.6h2.2M582.7 58.6h-2.2M509.3 73.5h2.2M582.7 73.5h-2.2" stroke="#5a5a5a" stroke-width="0.9" fill="none"/>
<text transform="translate(509.3,86.9) scale(1,1.04)" text-anchor="middle" font-size="9.3" fill="#262626" >0</text>
<text transform="translate(546,86.9) scale(1,1.04)" text-anchor="middle" font-size="9.3" fill="#262626" >0.05</text>
<text transform="translate(582.7,86.9) scale(1,1.04)" text-anchor="middle" font-size="9.3" fill="#262626" >0.1</text>
<text transform="translate(505.3,32.1) scale(1,1.04)" text-anchor="end" font-size="9.3" fill="#262626" >2000</text>
<text transform="translate(505.3,47) scale(1,1.04)" text-anchor="end" font-size="9.3" fill="#262626" >1000</text>
<text transform="translate(505.3,61.9) scale(1,1.04)" text-anchor="end" font-size="9.3" fill="#262626" >0</text>
<text transform="translate(505.3,76.8) scale(1,1.04)" text-anchor="end" font-size="9.3" fill="#262626" >-1000</text>
<rect x="612.8" y="28.3" width="160.8" height="45" fill="#fff"/>
<path d="M630.67 28.3V73.3 M666.4 28.3V73.3 M702.13 28.3V73.3 M737.87 28.3V73.3 M612.8 37.3H773.6 M612.8 55.3H773.6" stroke="#e6e6e6" stroke-width="0.8" fill="none"/>
<clipPath id="c12"><rect x="612.8" y="28.3" width="160.8" height="45"/></clipPath>
<polyline points="612.8,57.4 613.2,56.5 613.6,58.1 614,58.9 614.3,58.7 614.7,58.2 615.1,57.7 615.5,56.7 615.9,58.3 616.3,57.7 616.6,56.3 617,55.9 617.4,56.3 617.8,57.7 618.2,57.7 618.6,57.9 618.9,55.8 619.3,56 619.7,57.4 620.1,56.3 620.5,56.7 620.9,54.8 621.2,55.5 621.6,55.7 622,55.4 622.4,55.2 622.8,54.1 623.2,56.7 623.5,55.4 623.9,53.9 624.3,56 624.7,55 625.1,55.4 625.5,54.6 625.8,54 626.2,53.9 626.6,54.7 627,55 627.4,54.6 627.8,54.6 628.2,55 628.5,54.1 628.9,54.6 629.3,54.6 629.7,53.8 630.1,53.4 630.5,52.9 630.8,52.2 631.2,51.8 631.6,54.1 632,52.8 632.4,52.3 632.8,54 633.1,53.3 633.5,52.4 633.9,53.1 634.3,52 634.7,52.3 635.1,53.4 635.4,52.7 635.8,51.4 636.2,52.1 636.6,52.4 637,51.2 637.4,50.8 637.7,52.6 638.1,50.7 638.5,49.7 638.9,50.8 639.3,52.5 639.7,51 640,51.1 640.4,48.4 640.8,49.6 641.2,51 641.6,49.5 642,50.8 642.4,50 642.7,49.8 643.1,50.8 643.5,48.8 643.9,48.7 644.3,49.1 644.7,49.1 645,47.3 645.4,49.7 645.8,48.7 646.2,48.3 646.6,48.8 647,47.8 647.3,49.1 647.7,48 648.1,48.4 648.5,46.9 648.9,47.3 649.3,47.8 649.6,46.5 650,46.7 650.4,47.1 650.8,48 651.2,47.5 651.6,47.6 651.9,46.9 652.3,47.3 652.7,47.8 653.1,46.5 653.5,46.6 653.9,46.6 654.2,44.3 654.6,45.8 655,46.2 655.4,46.4 655.8,45.3 656.2,46.3 656.5,44.9 656.9,45.1 657.3,46.6 657.7,43.9 658.1,44.9 658.5,44.7 658.9,44.7 659.2,44.2 659.6,45.1 660,43.5 660.4,43.2 660.8,44.7 661.2,43.1 661.5,44.4 661.9,43.9 662.3,43.2 662.7,43.4 663.1,43.5 663.5,43.9 663.8,42.9 664.2,43.1 664.6,42 665,42.8 665.4,41.3 665.8,42.8 666.1,42.4 666.5,44.4 666.9,43.6 667.3,42.3 667.7,43.1 668.1,42.4 668.4,41.1 668.8,39.9 669.2,42.8 669.6,42.1 670,40 670.4,42.1 670.7,42.2 671.1,40.7 671.5,41.9 671.9,39.6 672.3,40.8 672.7,40.9 673.1,41.4 673.4,41 673.8,40.7 674.2,40.9 674.6,39.8 675,41.5 675.4,39.8 675.7,40.7 676.1,39.9 676.5,39.6 676.9,40.2 677.3,40 677.7,40.7 678,40.4 678.4,38.9 678.8,39.7 679.2,39.3 679.6,38.4 680,38.1 680.3,39.1 680.7,38.3 681.1,37.5 681.5,38.5 681.9,38.7 682.3,38.5 682.6,37.3 683,37.8 683.4,39.3 683.8,37.4 684.2,37.7 684.6,39.9 684.9,38.1 685.3,37.3 685.7,36 686.1,37.8 686.5,36.3 686.9,37.4 687.3,36.6 687.6,35.8 688,38.6 688.4,37 688.8,37.8 689.2,37.6 689.6,36.3 689.9,36.9 690.3,36.4 690.7,37.5 691.1,37 691.5,36.2 691.9,37.9 692.2,36.8 692.6,36.7 693,35.6 693.4,36.6 693.8,34.9 694.2,36.5 694.5,35.2 694.9,36.1 695.3,35.7 695.7,36.1 696.1,36.1 696.5,35.7 696.8,35.7 697.2,34.4 697.6,34 698,36.6 698.4,36 698.8,34.2 699.1,37.1 699.5,34.8 699.9,35.8 700.3,35.7 700.7,35.4 701.1,35.8 701.5,34.1 701.8,35.2 702.2,35 702.6,35.2 703,34.9 703.4,34.5 703.8,34.4 704.1,35.8 704.5,34.3 704.9,35.3 705.3,35.3 705.7,34.9 706.1,35.3 706.4,35.4 706.8,34.5 707.2,35.2 707.6,36.5 708,34 708.4,34.7 708.7,34.3 709.1,36.6 709.5,33.7 709.9,34.9 710.3,35.7 710.7,34.2 711,34.8 711.4,34.4 711.8,33.9 712.2,34.9 712.6,35.4 713,34.7 713.3,35.2 713.7,35.7 714.1,36.1 714.5,34.1 714.9,35.7 715.3,34.7 715.7,33.7 716,34.7 716.4,35.9 716.8,35.7 717.2,34.5 717.6,36.8 718,35.9 718.3,35.5 718.7,35.2 719.1,36 719.5,35.4 719.9,36.7 720.3,36.1 720.6,36.4 721,35.7 721.4,34.9 721.8,36.4 722.2,35.4 722.6,36.1 722.9,36.2 723.3,35.8 723.7,37 724.1,35.5 724.5,37.5 724.9,36.2 725.2,37.3 725.6,37.5 726,36.2 726.4,36.4 726.8,37.5 727.2,37.1 727.5,37.1 727.9,36.1 728.3,36.3 728.7,37.6 729.1,38.2 729.5,37.1 729.9,37.1 730.2,37.7 730.6,37.9 731,38.1 731.4,37.7 731.8,37 732.2,38.7 732.5,37.9 732.9,38.8 733.3,37.4 733.7,38.6 734.1,38.3 734.5,38.1 734.8,39.1 735.2,39.3 735.6,38.7 736,39.2 736.4,38.7 736.8,39 737.1,39.2 737.5,39.3 737.9,39.7 738.3,39.2 738.7,40.1 739.1,40.2 739.4,39.9 739.8,39.6 740.2,39.3 740.6,40.3 741,40.1 741.4,40.5 741.7,40.3 742.1,40.7 742.5,40.8 742.9,41 743.3,41.2 743.7,41.3 744,41.7 744.4,41.2 744.8,41.8 745.2,41.8 745.6,41.7 746,41.6 746.4,42.6 746.7,42.3 747.1,42.2 747.5,42.5 747.9,42.6 748.3,42.6 748.7,42.4 749,43 749.4,43.1 749.8,43.2 750.2,43.7 750.6,43.1 751,43.3 751.3,43.8 751.7,44.2 752.1,44.3 752.5,44.4 752.9,43.6 753.3,44.6 753.6,44.7 754,45 754.4,44.7 754.8,45.2 755.2,45.5 755.6,45.8 755.9,45.5 756.3,45.1 756.7,45.7 757.1,46 757.5,46.1 757.9,46.7 758.2,46.2 758.6,46.1 759,46.3 759.4,46.9 759.8,46.5 760.2,46.6 760.6,46.8 760.9,47.6 761.3,47.4 761.7,47.4 762.1,47.9 762.5,48 762.9,47.6 763.2,48.3 763.6,48.2 764,47.7 764.4,48.1 764.8,48.6 765.2,48.9 765.5,48.8 765.9,48.7 766.3,49.2 766.7,48.7 767.1,49.6 767.5,49.5 767.8,49.7 768.2,49.6 768.6,50.2 769,49.4 769.4,50 769.8,50.5 770.1,50.3 770.5,51.1 770.9,50.9 771.3,50.7 771.7,51.4 772.1,51.2 772.4,51.5 772.8,51.3 773.2,51.4 773.6,51.9" fill="none" stroke="#000" stroke-width="2.3" clip-path="url(#c12)" stroke-linejoin="round"/>
<polyline points="612.8,56.9 613.6,56.6 614.4,56.3 615.2,56.3 616,56.2 616.8,55.8 617.6,55.8 618.5,55.2 619.3,55.2 620.1,55.2 620.9,55.1 621.7,54.8 622.5,54.7 623.3,54.4 624.1,54.3 624.9,53.9 625.7,53.9 626.5,53.6 627.3,53.4 628.2,53.2 629,53 629.8,52.7 630.6,52.5 631.4,52.2 632.2,52.2 633,51.9 633.8,51.6 634.6,51.6 635.4,51.3 636.2,51 637,50.6 637.8,50.5 638.7,50.3 639.5,50.1 640.3,49.7 641.1,49.4 641.9,49.5 642.7,49.2 643.5,48.8 644.3,48.5 645.1,48.4 645.9,48.2 646.7,47.9 647.5,47.7 648.4,47.4 649.2,47.3 650,46.9 650.8,46.7 651.6,46.5 652.4,46.3 653.2,46.3 654,45.8 654.8,45.8 655.6,45.4 656.4,45.2 657.2,45.2 658.1,44.8 658.9,44.7 659.7,44.8 660.5,44.4 661.3,44.2 662.1,43.9 662.9,43.8 663.7,43.4 664.5,43.4 665.3,43.2 666.1,43.2 666.9,42.8 667.7,42.5 668.6,42.3 669.4,42 670.2,42 671,41.9 671.8,41.5 672.6,41.4 673.4,41.1 674.2,40.9 675,40.7 675.8,40.3 676.6,40.2 677.4,40.1 678.3,39.7 679.1,39.6 679.9,39.4 680.7,39.1 681.5,39 682.3,38.9 683.1,38.7 683.9,38.2 684.7,38.4 685.5,38 686.3,38 687.1,37.7 687.9,37.5 688.8,37.4 689.6,37.6 690.4,37.3 691.2,36.9 692,36.8 692.8,36.8 693.6,36.6 694.4,36.4 695.2,36.3 696,36.1 696.8,36.1 697.6,36 698.5,36.1 699.3,35.7 700.1,35.7 700.9,35.6 701.7,35.6 702.5,35.4 703.3,35.3 704.1,35.2 704.9,35.3 705.7,35.3 706.5,35.3 707.3,35.1 708.1,35.4 709,35.1 709.8,35.2 710.6,35.2 711.4,35.3 712.2,35.2 713,35.2 713.8,35.2 714.6,35.5 715.4,35.5 716.2,35.6 717,35.5 717.8,35.7 718.7,35.8 719.5,36 720.3,35.9 721.1,36 721.9,36.3 722.7,36.2 723.5,36.4 724.3,36.4 725.1,36.4 725.9,36.6 726.7,36.8 727.5,36.9 728.3,37.3 729.2,37 730,37.1 730.8,37.4 731.6,37.5 732.4,37.9 733.2,37.9 734,38.1 734.8,38.1 735.6,38.5 736.4,38.7 737.2,38.9 738,39 738.9,39.2 739.7,39.4 740.5,39.7 741.3,39.7 742.1,40 742.9,40.1 743.7,40.5 744.5,40.6 745.3,40.8 746.1,41.1 746.9,41.6 747.7,41.5 748.6,41.8 749.4,42.3 750.2,42.4 751,42.7 751.8,43 752.6,43.6 753.4,43.5 754.2,43.8 755,44.1 755.8,44.5 756.6,44.8 757.4,44.9 758.2,45.4 759.1,45.8 759.9,45.7 760.7,46.2 761.5,46.5 762.3,46.7 763.1,47 763.9,47.1 764.7,47.7 765.5,47.8 766.3,48.1 767.1,48.6 767.9,48.5 768.8,49 769.6,49.4 770.4,49.7 771.2,49.9 772,50.4 772.8,50.5 773.6,50.8" fill="none" stroke="#0000ff" stroke-width="1.6" stroke-dasharray="6,1.2,1.5,1.2" clip-path="url(#c12)" stroke-linejoin="round"/>
<polyline points="612.8,56 613.6,54.9 614.4,55 615.2,56.2 616,55 616.8,54.9 617.6,54.2 618.5,54.5 619.3,53.9 620.1,54 620.9,54.4 621.7,53.6 622.5,53.5 623.3,54.2 624.1,53.6 624.9,53.4 625.7,53.4 626.5,52.5 627.3,52.4 628.2,51.5 629,52.5 629.8,51.9 630.6,51.8 631.4,51 632.2,51.6 633,51.4 633.8,51 634.6,49.9 635.4,50 636.2,50.2 637,49.6 637.8,49.9 638.7,49.9 639.5,48.9 640.3,48.9 641.1,48.5 641.9,49 642.7,48.7 643.5,49.3 644.3,47.9 645.1,47.2 645.9,47.6 646.7,47.1 647.5,47 648.4,47.3 649.2,46.4 650,46.6 650.8,45.2 651.6,46.4 652.4,45.8 653.2,45.4 654,45.1 654.8,45.7 655.6,44.7 656.4,45.3 657.2,44.3 658.1,44.4 658.9,44.3 659.7,44.9 660.5,43.9 661.3,43.7 662.1,43.4 662.9,43.1 663.7,42.7 664.5,43.6 665.3,43.3 666.1,42.1 666.9,42.3 667.7,41.5 668.6,42.3 669.4,41.9 670.2,41.5 671,40.9 671.8,41.4 672.6,41.1 673.4,40.5 674.2,40.7 675,39.6 675.8,39.7 676.6,39.4 677.4,39.6 678.3,40.1 679.1,39.2 679.9,39.5 680.7,38.8 681.5,38.4 682.3,38.9 683.1,38.5 683.9,38.7 684.7,38.3 685.5,37.3 686.3,36.4 687.1,37.4 687.9,36.6 688.8,36.4 689.6,36.2 690.4,36.4 691.2,36.5 692,36.4 692.8,37.2 693.6,35.6 694.4,36 695.2,35.4 696,35.4 696.8,35.7 697.6,35.8 698.5,34.9 699.3,35.9 700.1,34.9 700.9,35.7 701.7,35.2 702.5,35.5 703.3,35.3 704.1,34.9 704.9,35.2 705.7,34.3 706.5,34.3 707.3,34.7 708.1,35.5 709,34.6 709.8,34.6 710.6,35.7 711.4,35 712.2,35 713,34.6 713.8,35.1 714.6,35.4 715.4,35.2 716.2,35.6 717,35.5 717.8,36 718.7,36 719.5,35.6 720.3,36.2 721.1,36.7 721.9,36.2 722.7,35.7 723.5,36.4 724.3,36.4 725.1,37.7 725.9,37.1 726.7,36.6 727.5,37.1 728.3,37.9 729.2,37.1 730,37.5 730.8,37.9 731.6,38 732.4,38.1 733.2,38.5 734,38.2 734.8,38.7 735.6,38.9 736.4,39.2 737.2,39.5 738,39.8 738.9,39.9 739.7,40.2 740.5,40.6 741.3,41 742.1,41.2 742.9,41 743.7,41.6 744.5,42 745.3,42 746.1,42.4 746.9,42.6 747.7,43 748.6,42.8 749.4,43.5 750.2,43.6 751,43.8 751.8,44.2 752.6,44.7 753.4,45 754.2,45.1 755,45.5 755.8,45.6 756.6,45.7 757.4,45.8 758.2,46.5 759.1,46.8 759.9,47.1 760.7,47.4 761.5,47.9 762.3,47.7 763.1,48.1 763.9,48.9 764.7,48.9 765.5,49 766.3,48.9 767.1,49.5 767.9,49.9 768.8,50.2 769.6,50.5 770.4,50.7 771.2,51.3 772,51.1 772.8,51.6 773.6,51.8" fill="none" stroke="#ff0000" stroke-width="2.5" stroke-dasharray="5,0.7" clip-path="url(#c12)" stroke-linejoin="round"/>
<rect x="612.8" y="28.3" width="160.8" height="45" fill="none" stroke="#808080" stroke-width="1"/>
<path d="M630.67 73.3v-2.2M630.67 28.3v2.2M666.4 73.3v-2.2M666.4 28.3v2.2M702.13 73.3v-2.2M702.13 28.3v2.2M737.87 73.3v-2.2M737.87 28.3v2.2M773.6 73.3v-2.2M773.6 28.3v2.2M612.8 37.3h2.2M773.6 37.3h-2.2M612.8 55.3h2.2M773.6 55.3h-2.2M612.8 73.3h2.2M773.6 73.3h-2.2" stroke="#5a5a5a" stroke-width="0.9" fill="none"/>
<text transform="translate(630.67,86.7) scale(1,1.04)" text-anchor="middle" font-size="9.3" fill="#262626" >1</text>
<text transform="translate(666.4,86.7) scale(1,1.04)" text-anchor="middle" font-size="9.3" fill="#262626" >2</text>
<text transform="translate(702.13,86.7) scale(1,1.04)" text-anchor="middle" font-size="9.3" fill="#262626" >3</text>
<text transform="translate(737.87,86.7) scale(1,1.04)" text-anchor="middle" font-size="9.3" fill="#262626" >4</text>
<text transform="translate(773.6,86.7) scale(1,1.04)" text-anchor="middle" font-size="9.3" fill="#262626" >5</text>
<text transform="translate(608.8,40.6) scale(1,1.04)" text-anchor="end" font-size="9.3" fill="#262626" >60</text>
<text transform="translate(608.8,58.6) scale(1,1.04)" text-anchor="end" font-size="9.3" fill="#262626" >40</text>
<text transform="translate(608.8,76.6) scale(1,1.04)" text-anchor="end" font-size="9.3" fill="#262626" >20</text>
<path d="M498.4 140.5V228.5 M530.3 140.5V228.5 M562.2 140.5V228.5 M594.1 140.5V228.5 M626 140.5V228.5 M657.9 140.5V228.5 M689.8 140.5V228.5 M721.7 140.5V228.5 M753.6 140.5V228.5 M466.5 144.7H785.5 M466.5 162.4H785.5 M466.5 180.1H785.5 M466.5 197.8H785.5 M466.5 215.5H785.5" stroke="#e6e6e6" stroke-width="0.8" fill="none"/>
<rect x="466.5" y="140.5" width="319" height="88" fill="none" stroke="#808080" stroke-width="1"/>
<clipPath id="c13"><rect x="465.7" y="139.7" width="320.6" height="89.6"/></clipPath>
<polyline points="466.5,180.1 466.7,173.9 466.9,170.1 467.1,167.7 467.2,165.9 467.4,164.3 467.6,163.1 467.8,162.3 468,161.8 468.2,161.3 468.3,161 468.5,160.7 468.7,160.6 468.9,160.6 469.1,160.7 469.3,160.7 469.5,160.8 469.6,160.8 469.8,160.9 470,161 470.2,161 470.4,161.1 470.6,161.1 470.8,161.2 470.9,161.2 471.1,161.2 471.3,161.3 471.5,161.3 471.7,161.3 471.9,161.3 472,161.4 472.2,161.4 472.4,161.4 472.6,161.5 472.8,161.5 473,161.5 473.2,161.5 473.3,161.5 473.5,161.5 473.7,161.5 473.9,161.5 474.1,161.5 474.3,161.5 474.5,161.5 474.6,161.5 474.8,161.5 475,161.5 475.2,161.5 475.4,161.5 475.6,161.5 475.7,161.5 475.9,161.5 476.1,161.5 476.3,161.5 476.5,161.5 476.7,161.5 476.9,161.5 477,161.5 477.2,161.5 477.4,161.5 477.6,161.5 477.8,161.5 478,161.5 478.2,161.5 478.3,161.5 478.5,161.5 478.7,161.5 478.9,161.5 479.1,161.5 479.3,161.5" fill="none" stroke="#000" stroke-width="1.1" clip-path="url(#c13)" stroke-linejoin="round"/>
<polyline points="479.3,161.5 482.1,161.5 484.9,161.5 487.7,161.5 490.5,161.5 493.3,161.5 496.1,161.4 498.9,161.4 501.7,161.4 504.5,161.4 507.4,161.4 510.2,161.4 513,161.4 515.8,161.4 518.6,161.4 521.4,161.4 524.2,161.4 527,161.4 529.8,161.4 532.6,161.4 535.5,161.4 538.3,161.4 541.1,161.4 543.9,161.4 546.7,161.4 549.5,161.4 552.3,161.4 555.1,161.4 557.9,161.4 560.7,161.4 563.5,161.4 566.4,161.4 569.2,161.5 572,161.5 574.8,161.5 577.6,161.5 580.4,161.5 583.2,161.5 586,161.5 588.8,161.5 591.6,161.5 594.5,161.6 597.3,161.6 600.1,161.6 602.9,161.6 605.7,161.6 608.5,161.6 611.3,161.6 614.1,161.6 616.9,161.7 619.7,161.7 622.5,161.7 625.4,161.7 628.2,161.7 631,161.7 633.8,161.7 636.6,161.8 639.4,161.8 642.2,161.8 645,161.8 647.8,161.8 650.6,161.8 653.5,161.8 656.3,161.9 659.1,161.9 661.9,161.9 664.7,161.9 667.5,161.9 670.3,161.9 673.1,162 675.9,162 678.7,162 681.5,162 684.4,162 687.2,162 690,162.1 692.8,162.1 695.6,162.1 698.4,162.1 701.2,162.1 704,162.1 706.8,162.2 709.6,162.2 712.5,162.2 715.3,162.2 718.1,162.2 720.9,162.2 723.7,162.2 726.5,162.3 729.3,162.3 732.1,162.3 734.9,162.3 737.7,162.3 740.5,162.3 743.4,162.3 746.2,162.3 749,162.3 751.8,162.3 754.6,162.3 757.4,162.3 760.2,162.3 763,162.3 765.8,162.3 768.6,162.3 771.5,162.3 774.3,162.3 777.1,162.2 779.9,162.2 782.7,162.2 785.5,162.2" fill="none" stroke="#000" stroke-width="1.1" clip-path="url(#c13)" stroke-linejoin="round"/>
<polyline points="466.5,219.9 466.7,189.6 466.9,176 467.1,167.9 467.2,163 467.4,159.1 467.6,156.4 467.8,154.6 468,153.6 468.2,153.7 468.3,154.1 468.5,154.6 468.7,155.2 468.9,155.9 469.1,156.5 469.3,157.2 469.5,157.8 469.6,158.3 469.8,158.7 470,159 470.2,159.3 470.4,159.6 470.6,159.9 470.8,160.1 470.9,160.3 471.1,160.4 471.3,160.6 471.5,160.7 471.7,160.8 471.9,160.9 472,161 472.2,161.1 472.4,161.2 472.6,161.3 472.8,161.5 473,161.5 473.2,161.5 473.3,161.5 473.5,161.5 473.7,161.5 473.9,161.5 474.1,161.5 474.3,161.5 474.5,161.5 474.6,161.5 474.8,161.5 475,161.5 475.2,161.5 475.4,161.5 475.6,161.5 475.7,161.5 475.9,161.5 476.1,161.5 476.3,161.5 476.5,161.5 476.7,161.5 476.9,161.5 477,161.5 477.2,161.5 477.4,161.5 477.6,161.5 477.8,161.5 478,161.5 478.2,161.5 478.3,161.5 478.5,161.5 478.7,161.5 478.9,161.5 479.1,161.5 479.3,161.5" fill="none" stroke="#ff0000" stroke-width="1.25" stroke-dasharray="6.4,3.9" stroke-dashoffset="5.8" clip-path="url(#c13)" stroke-linejoin="round"/>
<polyline points="479.3,161.5 482.1,161.5 484.9,161.5 487.7,161.5 490.5,161.5 493.3,161.5 496.1,161.4 498.9,161.4 501.7,161.4 504.5,161.4 507.4,161.4 510.2,161.4 513,161.4 515.8,161.4 518.6,161.4 521.4,161.4 524.2,161.4 527,161.4 529.8,161.4 532.6,161.4 535.5,161.4 538.3,161.4 541.1,161.4 543.9,161.4 546.7,161.4 549.5,161.4 552.3,161.4 555.1,161.4 557.9,161.4 560.7,161.4 563.5,161.4 566.4,161.4 569.2,161.5 572,161.5 574.8,161.5 577.6,161.5 580.4,161.5 583.2,161.5 586,161.5 588.8,161.5 591.6,161.5 594.5,161.6 597.3,161.6 600.1,161.6 602.9,161.6 605.7,161.6 608.5,161.6 611.3,161.6 614.1,161.6 616.9,161.7 619.7,161.7 622.5,161.7 625.4,161.7 628.2,161.7 631,161.7 633.8,161.7 636.6,161.8 639.4,161.8 642.2,161.8 645,161.8 647.8,161.8 650.6,161.8 653.5,161.8 656.3,161.9 659.1,161.9 661.9,161.9 664.7,161.9 667.5,161.9 670.3,161.9 673.1,162 675.9,162 678.7,162 681.5,162 684.4,162 687.2,162 690,162.1 692.8,162.1 695.6,162.1 698.4,162.1 701.2,162.1 704,162.1 706.8,162.2 709.6,162.2 712.5,162.2 715.3,162.2 718.1,162.2 720.9,162.2 723.7,162.2 726.5,162.3 729.3,162.3 732.1,162.3 734.9,162.3 737.7,162.3 740.5,162.3 743.4,162.3 746.2,162.3 749,162.3 751.8,162.3 754.6,162.3 757.4,162.3 760.2,162.3 763,162.3 765.8,162.3 768.6,162.3 771.5,162.3 774.3,162.3 777.1,162.2 779.9,162.2 782.7,162.2 785.5,162.2" fill="none" stroke="#ff0000" stroke-width="1.25" stroke-dasharray="6.4,3.9" stroke-dashoffset="5.8" clip-path="url(#c13)" stroke-linejoin="round"/>
<polyline points="466.5,139.4 466.7,150.1 466.9,157.3 467.1,163.2 467.2,168.2 467.4,169 467.6,168.8 467.8,168.4 468,167.9 468.2,167.4 468.3,166.9 468.5,166.6 468.7,166.3 468.9,166.1 469.1,165.8 469.3,165.6 469.5,165.3 469.6,165.1 469.8,164.9 470,164.7 470.2,164.5 470.4,164.3 470.6,164.1 470.8,163.9 470.9,163.7 471.1,163.6 471.3,163.5 471.5,163.4 471.7,163.3 471.9,163.1 472,163 472.2,162.9 472.4,162.8 472.6,162.7 472.8,162.6 473,162.5 473.2,162.5 473.3,162.4 473.5,162.3 473.7,162.3 473.9,162.2 474.1,162.2 474.3,162.1 474.5,162.1 474.6,162 474.8,162 475,162 475.2,161.9 475.4,161.9 475.6,161.9 475.7,161.8 475.9,161.8 476.1,161.8 476.3,161.8 476.5,161.7 476.7,161.7 476.9,161.7 477,161.7 477.2,161.7 477.4,161.7 477.6,161.7 477.8,161.6 478,161.6 478.2,161.6 478.3,161.6 478.5,161.6 478.7,161.6 478.9,161.6 479.1,161.6 479.3,161.6" fill="none" stroke="#0000ff" stroke-width="1.25" stroke-dasharray="5.4,1.6,1.5,1.8" clip-path="url(#c13)" stroke-linejoin="round"/>
<polyline points="479.3,161.6 482.1,161.5 484.9,161.5 487.7,161.5 490.5,161.5 493.3,161.5 496.1,161.4 498.9,161.4 501.7,161.4 504.5,161.4 507.4,161.4 510.2,161.4 513,161.4 515.8,161.4 518.6,161.4 521.4,161.4 524.2,161.4 527,161.4 529.8,161.4 532.6,161.4 535.5,161.4 538.3,161.4 541.1,161.4 543.9,161.4 546.7,161.4 549.5,161.4 552.3,161.4 555.1,161.4 557.9,161.4 560.7,161.4 563.5,161.4 566.4,161.4 569.2,161.5 572,161.5 574.8,161.5 577.6,161.5 580.4,161.5 583.2,161.5 586,161.5 588.8,161.5 591.6,161.5 594.5,161.6 597.3,161.6 600.1,161.6 602.9,161.6 605.7,161.6 608.5,161.6 611.3,161.6 614.1,161.6 616.9,161.7 619.7,161.7 622.5,161.7 625.4,161.7 628.2,161.7 631,161.7 633.8,161.7 636.6,161.8 639.4,161.8 642.2,161.8 645,161.8 647.8,161.8 650.6,161.8 653.5,161.8 656.3,161.9 659.1,161.9 661.9,161.9 664.7,161.9 667.5,161.9 670.3,161.9 673.1,162 675.9,162 678.7,162 681.5,162 684.4,162 687.2,162 690,162.1 692.8,162.1 695.6,162.1 698.4,162.1 701.2,162.1 704,162.1 706.8,162.2 709.6,162.2 712.5,162.2 715.3,162.2 718.1,162.2 720.9,162.2 723.7,162.2 726.5,162.3 729.3,162.3 732.1,162.3 734.9,162.3 737.7,162.3 740.5,162.3 743.4,162.3 746.2,162.3 749,162.3 751.8,162.3 754.6,162.3 757.4,162.3 760.2,162.3 763,162.3 765.8,162.3 768.6,162.3 771.5,162.3 774.3,162.3 777.1,162.2 779.9,162.2 782.7,162.2 785.5,162.2" fill="none" stroke="#0000ff" stroke-width="1.25" stroke-dasharray="5.4,1.6,1.5,1.8" clip-path="url(#c13)" stroke-linejoin="round"/>
<path d="M466.5 228.5v-3.2M466.5 140.5v3.2M498.4 228.5v-3.2M498.4 140.5v3.2M530.3 228.5v-3.2M530.3 140.5v3.2M562.2 228.5v-3.2M562.2 140.5v3.2M594.1 228.5v-3.2M594.1 140.5v3.2M626 228.5v-3.2M626 140.5v3.2M657.9 228.5v-3.2M657.9 140.5v3.2M689.8 228.5v-3.2M689.8 140.5v3.2M721.7 228.5v-3.2M721.7 140.5v3.2M753.6 228.5v-3.2M753.6 140.5v3.2M785.5 228.5v-3.2M785.5 140.5v3.2M466.5 144.7h3.2M785.5 144.7h-3.2M466.5 162.4h3.2M785.5 162.4h-3.2M466.5 180.1h3.2M785.5 180.1h-3.2M466.5 197.8h3.2M785.5 197.8h-3.2M466.5 215.5h3.2M785.5 215.5h-3.2" stroke="#5a5a5a" stroke-width="0.9" fill="none"/>
<text transform="translate(466.5,242.1) scale(1,1.04)" text-anchor="middle" font-size="9.3" fill="#262626" >0</text>
<text transform="translate(498.4,242.1) scale(1,1.04)" text-anchor="middle" font-size="9.3" fill="#262626" >0.5</text>
<text transform="translate(530.3,242.1) scale(1,1.04)" text-anchor="middle" font-size="9.3" fill="#262626" >1</text>
<text transform="translate(562.2,242.1) scale(1,1.04)" text-anchor="middle" font-size="9.3" fill="#262626" >1.5</text>
<text transform="translate(594.1,242.1) scale(1,1.04)" text-anchor="middle" font-size="9.3" fill="#262626" >2</text>
<text transform="translate(626,242.1) scale(1,1.04)" text-anchor="middle" font-size="9.3" fill="#262626" >2.5</text>
<text transform="translate(657.9,242.1) scale(1,1.04)" text-anchor="middle" font-size="9.3" fill="#262626" >3</text>
<text transform="translate(689.8,242.1) scale(1,1.04)" text-anchor="middle" font-size="9.3" fill="#262626" >3.5</text>
<text transform="translate(721.7,242.1) scale(1,1.04)" text-anchor="middle" font-size="9.3" fill="#262626" >4</text>
<text transform="translate(753.6,242.1) scale(1,1.04)" text-anchor="middle" font-size="9.3" fill="#262626" >4.5</text>
<text transform="translate(785.5,242.1) scale(1,1.04)" text-anchor="middle" font-size="9.3" fill="#262626" >5</text>
<text transform="translate(462.5,148) scale(1,1.04)" text-anchor="end" font-size="9.3" fill="#262626" >2000</text>
<text transform="translate(462.5,165.7) scale(1,1.04)" text-anchor="end" font-size="9.3" fill="#262626" >0</text>
<text transform="translate(462.5,183.4) scale(1,1.04)" text-anchor="end" font-size="9.3" fill="#262626" >-2000</text>
<text transform="translate(462.5,201.1) scale(1,1.04)" text-anchor="end" font-size="9.3" fill="#262626" >-4000</text>
<text transform="translate(462.5,218.8) scale(1,1.04)" text-anchor="end" font-size="9.3" fill="#262626" >-6000</text>
<g transform="translate(429,184.5) rotate(-90)" font-size="10.2" fill="#262626"><text x="-15.8">M</text><text x="-6.9" y="5.2" font-size="7">5</text><text x="15.45" text-anchor="end">(N)</text></g>
<rect x="509.3" y="166.3" width="73.4" height="45.2" fill="#fff"/>
<path d="M546 166.3V211.5 M509.3 184.6H582.7 M509.3 202.5H582.7" stroke="#e6e6e6" stroke-width="0.8" fill="none"/>
<clipPath id="c14"><rect x="509.3" y="166.3" width="73.4" height="45.2"/></clipPath>
<polyline points="509.3,202.5 510,200.5 510.6,198.5 511.3,196.5 512,194.9 512.7,193.7 513.3,192.7 514,191.8 514.7,191 515.4,190.3 516,189.6 516.7,189 517.4,188.5 518.1,187.9 518.7,187.4 519.4,186.9 520.1,186.5 520.7,186 521.4,185.7 522.1,185.3 522.8,185 523.4,184.8 524.1,184.6 524.8,184.4 525.5,184.2 526.1,184 526.8,183.9 527.5,183.7 528.2,183.6 528.8,183.5 529.5,183.3 530.2,183.2 530.8,183.1 531.5,183 532.2,183 532.9,182.9 533.5,182.9 534.2,182.8 534.9,182.8 535.6,182.8 536.2,182.8 536.9,182.8 537.6,182.8 538.3,182.8 538.9,182.9 539.6,182.9 540.3,182.9 540.9,182.9 541.6,182.9 542.3,182.9 543,183 543.6,183 544.3,183 545,183 545.7,183 546.3,183.1 547,183.1 547.7,183.1 548.4,183.1 549,183.1 549.7,183.2 550.4,183.2 551.1,183.2 551.7,183.2 552.4,183.2 553.1,183.3 553.7,183.3 554.4,183.3 555.1,183.3 555.8,183.3 556.4,183.3 557.1,183.3 557.8,183.3 558.5,183.3 559.1,183.4 559.8,183.4 560.5,183.4 561.2,183.4 561.8,183.4 562.5,183.4 563.2,183.4 563.8,183.4 564.5,183.4 565.2,183.5 565.9,183.5 566.5,183.5 567.2,183.5 567.9,183.5 568.6,183.5 569.2,183.5 569.9,183.5 570.6,183.5 571.3,183.5 571.9,183.6 572.6,183.6 573.3,183.6 573.9,183.6 574.6,183.6 575.3,183.6 576,183.6 576.6,183.6 577.3,183.6 578,183.6 578.7,183.6 579.3,183.7 580,183.7 580.7,183.7 581.4,183.7 582,183.7 582.7,183.7" fill="none" stroke="#000" stroke-width="1.2" clip-path="url(#c14)" stroke-linejoin="round"/>
<polyline points="509.3,242.8 510,232.3 510.6,221.7 511.3,213.1 512,207.7 512.7,203.2 513.3,199.4 514,196.2 514.7,193.5 515.4,191.2 516,189.2 516.7,187.5 517.4,186 518.1,184.7 518.7,183.4 519.4,182.2 520.1,181 520.7,180 521.4,179.1 522.1,178.5 522.8,177.9 523.4,177.3 524.1,176.8 524.8,176.4 525.5,176 526.1,175.8 526.8,175.7 527.5,175.7 528.2,175.7 528.8,175.8 529.5,176 530.2,176.1 530.8,176.3 531.5,176.4 532.2,176.6 532.9,176.7 533.5,176.9 534.2,177.1 534.9,177.3 535.6,177.5 536.2,177.8 536.9,178 537.6,178.2 538.3,178.4 538.9,178.6 539.6,178.8 540.3,179 540.9,179.2 541.6,179.4 542.3,179.6 543,179.8 543.6,180 544.3,180.2 545,180.4 545.7,180.5 546.3,180.6 547,180.8 547.7,180.9 548.4,181 549,181.1 549.7,181.2 550.4,181.3 551.1,181.4 551.7,181.5 552.4,181.6 553.1,181.7 553.7,181.8 554.4,181.8 555.1,181.9 555.8,182 556.4,182.1 557.1,182.1 557.8,182.2 558.5,182.3 559.1,182.3 559.8,182.4 560.5,182.4 561.2,182.5 561.8,182.5 562.5,182.6 563.2,182.6 563.8,182.7 564.5,182.7 565.2,182.8 565.9,182.8 566.5,182.9 567.2,182.9 567.9,182.9 568.6,183 569.2,183 569.9,183.1 570.6,183.1 571.3,183.1 571.9,183.2 572.6,183.2 573.3,183.2 573.9,183.3 574.6,183.3 575.3,183.3 576,183.4 576.6,183.4 577.3,183.4 578,183.5 578.7,183.5 579.3,183.5 580,183.6 580.7,183.6 581.4,183.6 582,183.7 582.7,183.7" fill="none" stroke="#ff0000" stroke-width="1.2" stroke-dasharray="6.4,3.9" clip-path="url(#c14)" stroke-linejoin="round"/>
<polyline points="509.3,161.3 510,165.2 510.6,168.8 511.3,171.7 512,174.3 512.7,176.6 513.3,178.8 514,180.8 514.7,182.6 515.4,184.5 516,186.4 516.7,188.2 517.4,189.8 518.1,190.8 518.7,191.3 519.4,191.3 520.1,191.3 520.7,191.2 521.4,191.1 522.1,191 522.8,190.9 523.4,190.8 524.1,190.6 524.8,190.5 525.5,190.3 526.1,190.2 526.8,190 527.5,189.8 528.2,189.7 528.8,189.5 529.5,189.4 530.2,189.3 530.8,189.1 531.5,189 532.2,188.9 532.9,188.9 533.5,188.8 534.2,188.7 534.9,188.6 535.6,188.5 536.2,188.4 536.9,188.3 537.6,188.2 538.3,188.2 538.9,188.1 539.6,188 540.3,187.9 540.9,187.8 541.6,187.8 542.3,187.7 543,187.6 543.6,187.5 544.3,187.5 545,187.4 545.7,187.3 546.3,187.2 547,187.2 547.7,187.1 548.4,187 549,187 549.7,186.9 550.4,186.8 551.1,186.8 551.7,186.7 552.4,186.6 553.1,186.6 553.7,186.5 554.4,186.4 555.1,186.4 555.8,186.3 556.4,186.3 557.1,186.2 557.8,186.2 558.5,186.1 559.1,186.1 559.8,186 560.5,186 561.2,185.9 561.8,185.9 562.5,185.8 563.2,185.8 563.8,185.7 564.5,185.7 565.2,185.7 565.9,185.6 566.5,185.6 567.2,185.5 567.9,185.5 568.6,185.5 569.2,185.4 569.9,185.4 570.6,185.4 571.3,185.3 571.9,185.3 572.6,185.3 573.3,185.2 573.9,185.2 574.6,185.2 575.3,185.1 576,185.1 576.6,185.1 577.3,185 578,185 578.7,185 579.3,185 580,184.9 580.7,184.9 581.4,184.8 582,184.8 582.7,184.8" fill="none" stroke="#0000ff" stroke-width="1.2" stroke-dasharray="5.4,1.6,1.5,1.8" clip-path="url(#c14)" stroke-linejoin="round"/>
<rect x="509.3" y="166.3" width="73.4" height="45.2" fill="none" stroke="#808080" stroke-width="1"/>
<path d="M509.3 211.5v-2.2M509.3 166.3v2.2M546 211.5v-2.2M546 166.3v2.2M582.7 211.5v-2.2M582.7 166.3v2.2M509.3 166.7h2.2M582.7 166.7h-2.2M509.3 184.6h2.2M582.7 184.6h-2.2M509.3 202.5h2.2M582.7 202.5h-2.2" stroke="#5a5a5a" stroke-width="0.9" fill="none"/>
<text transform="translate(509.3,224.9) scale(1,1.04)" text-anchor="middle" font-size="9.3" fill="#262626" >0</text>
<text transform="translate(546,224.9) scale(1,1.04)" text-anchor="middle" font-size="9.3" fill="#262626" >0.05</text>
<text transform="translate(582.7,224.9) scale(1,1.04)" text-anchor="middle" font-size="9.3" fill="#262626" >0.1</text>
<text transform="translate(505.3,170) scale(1,1.04)" text-anchor="end" font-size="9.3" fill="#262626" >2000</text>
<text transform="translate(505.3,187.9) scale(1,1.04)" text-anchor="end" font-size="9.3" fill="#262626" >0</text>
<text transform="translate(505.3,205.8) scale(1,1.04)" text-anchor="end" font-size="9.3" fill="#262626" >-2000</text>
<rect x="612.8" y="166.4" width="160.8" height="44.9" fill="#fff"/>
<path d="M630.67 166.4V211.3 M666.4 166.4V211.3 M702.13 166.4V211.3 M737.87 166.4V211.3 M612.8 178.1H773.6 M612.8 193.4H773.6 M612.8 208.7H773.6" stroke="#e6e6e6" stroke-width="0.8" fill="none"/>
<clipPath id="c15"><rect x="612.8" y="166.4" width="160.8" height="44.9"/></clipPath>
<polyline points="612.8,176.7 613.2,176.1 613.6,176.6 614,176 614.3,179 614.7,176.4 615.1,175.1 615.5,175.7 615.9,175.3 616.3,176.3 616.6,176.4 617,175.9 617.4,175.4 617.8,174.9 618.2,176.8 618.6,176.4 618.9,172.9 619.3,175.4 619.7,174.6 620.1,174.9 620.5,176.6 620.9,174.2 621.2,174.3 621.6,177.2 622,174.7 622.4,174.8 622.8,176 623.2,174.5 623.5,175 623.9,175.1 624.3,176.1 624.7,173.5 625.1,174.1 625.5,174.7 625.8,175.5 626.2,174.2 626.6,175.1 627,174.3 627.4,174.3 627.8,175.7 628.2,174.4 628.5,177.1 628.9,174.9 629.3,175.5 629.7,175.2 630.1,173.2 630.5,173.2 630.8,174.9 631.2,173.6 631.6,174 632,174.2 632.4,173.7 632.8,175.5 633.1,175.1 633.5,174.6 633.9,175 634.3,173.7 634.7,175.2 635.1,173.8 635.4,175.8 635.8,173.9 636.2,174.1 636.6,175.5 637,175.1 637.4,173.8 637.7,175.1 638.1,174.6 638.5,174.6 638.9,175.2 639.3,175.2 639.7,175.6 640,175.1 640.4,175 640.8,174.7 641.2,176.1 641.6,174.2 642,176.5 642.4,176.8 642.7,176.8 643.1,174.9 643.5,176.8 643.9,176.1 644.3,176 644.7,178 645,175.4 645.4,175.8 645.8,174.3 646.2,173.5 646.6,175.7 647,175.9 647.3,176.2 647.7,175.9 648.1,174 648.5,176.1 648.9,176.8 649.3,177.2 649.6,175.1 650,175.3 650.4,175.5 650.8,175.6 651.2,174.9 651.6,175.7 651.9,177.7 652.3,175.6 652.7,175 653.1,176.4 653.5,176.3 653.9,177.4 654.2,176.3 654.6,176.8 655,176.4 655.4,176.3 655.8,177.6 656.2,177.5 656.5,177.4 656.9,178 657.3,176.9 657.7,177.7 658.1,178 658.5,178.9 658.9,176.4 659.2,177.8 659.6,178.6 660,177.8 660.4,178.5 660.8,179.1 661.2,179 661.5,177.3 661.9,177.8 662.3,176.5 662.7,179.6 663.1,179.3 663.5,180.4 663.8,179.4 664.2,178.5 664.6,180.5 665,178.5 665.4,179.7 665.8,179.7 666.1,180.6 666.5,180.8 666.9,179.8 667.3,179.6 667.7,180.3 668.1,180 668.4,181.4 668.8,181 669.2,182 669.6,183.1 670,180.2 670.4,180.6 670.7,181.6 671.1,181.6 671.5,181.1 671.9,180 672.3,183.8 672.7,181.8 673.1,180.8 673.4,179.9 673.8,183.2 674.2,182.4 674.6,182.2 675,181.4 675.4,182.3 675.7,182.2 676.1,180.5 676.5,185 676.9,183.2 677.3,182.6 677.7,182.2 678,182.6 678.4,185.3 678.8,183.7 679.2,182.3 679.6,184.3 680,184.1 680.3,184.2 680.7,183.8 681.1,183.9 681.5,184.3 681.9,184 682.3,183.1 682.6,183.6 683,184.6 683.4,183.3 683.8,184.7 684.2,184.6 684.6,185.6 684.9,185.3 685.3,185 685.7,185.1 686.1,185.8 686.5,186.4 686.9,184.8 687.3,184.5 687.6,185.3 688,184.1 688.4,185.5 688.8,187 689.2,187.3 689.6,187.9 689.9,186.7 690.3,186.9 690.7,186.4 691.1,186.6 691.5,187.4 691.9,188.1 692.2,187.8 692.6,185.8 693,188.1 693.4,187.8 693.8,187.4 694.2,188.1 694.5,188.9 694.9,188.4 695.3,187.8 695.7,191.4 696.1,188.1 696.5,189.2 696.8,190 697.2,188.3 697.6,189.6 698,188.6 698.4,189.2 698.8,188.9 699.1,191.2 699.5,188.6 699.9,190.4 700.3,190.1 700.7,188.5 701.1,191.8 701.5,190 701.8,190.4 702.2,190.9 702.6,190.1 703,190.4 703.4,191.1 703.8,190.5 704.1,191.5 704.5,192.6 704.9,190.8 705.3,190.5 705.7,191.8 706.1,192.4 706.4,192.8 706.8,191.4 707.2,190.5 707.6,193.4 708,193.4 708.4,194.2 708.7,192.2 709.1,193.7 709.5,194.2 709.9,191.9 710.3,194.5 710.7,195 711,194.4 711.4,194.5 711.8,194.8 712.2,194.1 712.6,193.2 713,193.8 713.3,194.5 713.7,194.1 714.1,195.9 714.5,194.8 714.9,195.2 715.3,193.9 715.7,195.9 716,195.1 716.4,197.1 716.8,194.5 717.2,196.4 717.6,195.9 718,196.1 718.3,198 718.7,197.5 719.1,196.1 719.5,198.1 719.9,196.5 720.3,197.9 720.6,195.9 721,197.3 721.4,197.4 721.8,197.5 722.2,196.6 722.6,196.5 722.9,198.2 723.3,198.9 723.7,198.6 724.1,198.4 724.5,197.5 724.9,198.7 725.2,198.6 725.6,198.6 726,199.5 726.4,199.7 726.8,200 727.2,199.6 727.5,199.2 727.9,199.9 728.3,200 728.7,199 729.1,200.2 729.5,199.2 729.9,199.1 730.2,200.2 730.6,200.5 731,201.7 731.4,201 731.8,201.9 732.2,202.8 732.5,201.8 732.9,202.1 733.3,201.3 733.7,202.7 734.1,202.2 734.5,202.3 734.8,201.4 735.2,201.7 735.6,202.1 736,202.8 736.4,203.8 736.8,201.7 737.1,202.8 737.5,202.9 737.9,205.2 738.3,203.2 738.7,203 739.1,204.2 739.4,202.7 739.8,204.2 740.2,202.4 740.6,205.7 741,204 741.4,203.8 741.7,203.1 742.1,204.2 742.5,204.4 742.9,203.8 743.3,205.5 743.7,204.3 744,204.7 744.4,205 744.8,206 745.2,204.5 745.6,205 746,205.2 746.4,205.6 746.7,203.5 747.1,206.1 747.5,205.1 747.9,204.6 748.3,205.3 748.7,203.7 749,204.7 749.4,205.6 749.8,206.6 750.2,205.4 750.6,205.9 751,205.3 751.3,206.3 751.7,205.3 752.1,206 752.5,205.4 752.9,204.9 753.3,204.8 753.6,205.2 754,206.7 754.4,208.4 754.8,205.6 755.2,205.1 755.6,206.2 755.9,206.1 756.3,205.3 756.7,207.3 757.1,206.4 757.5,206.5 757.9,205.7 758.2,205.7 758.6,206.4 759,204.4 759.4,204.9 759.8,205.6 760.2,204.2 760.6,206.8 760.9,204.9 761.3,205 761.7,205.6 762.1,206.5 762.5,205.2 762.9,204.5 763.2,204.3 763.6,205.2 764,204.5 764.4,206.9 764.8,205.9 765.2,202 765.5,203.8 765.9,204.8 766.3,206.4 766.7,202.6 767.1,203.9 767.5,205.2 767.8,203.5 768.2,204 768.6,203.4 769,204.3 769.4,202.7 769.8,203.6 770.1,202.2 770.5,204.1 770.9,203.7 771.3,203 771.7,203 772.1,202.9 772.4,202.4 772.8,202.7 773.2,202.8 773.6,202.3" fill="none" stroke="#000" stroke-width="2.4" clip-path="url(#c15)" stroke-linejoin="round"/>
<polyline points="612.8,174.7 613.6,174.6 614.4,174.5 615.2,174.5 616,174.4 616.8,174.5 617.6,174.2 618.5,174.1 619.3,174 620.1,174 620.9,173.8 621.7,173.7 622.5,173.8 623.3,173.8 624.1,173.5 624.9,173.5 625.7,173.5 626.5,173.4 627.3,173.5 628.2,173.3 629,173.3 629.8,173.2 630.6,173.1 631.4,173.2 632.2,173.1 633,173.2 633.8,173.3 634.6,173.1 635.4,173.1 636.2,173.4 637,173.2 637.8,173.4 638.7,173 639.5,173.4 640.3,173.3 641.1,173.4 641.9,173.6 642.7,173.8 643.5,173.7 644.3,173.9 645.1,173.8 645.9,174.1 646.7,174.1 647.5,174.1 648.4,174.5 649.2,174.5 650,174.7 650.8,174.8 651.6,175 652.4,175.2 653.2,175.4 654,175.5 654.8,175.8 655.6,175.9 656.4,176.1 657.2,176.3 658.1,176.5 658.9,176.7 659.7,177 660.5,177.3 661.3,177.3 662.1,177.6 662.9,177.7 663.7,177.9 664.5,178.3 665.3,178.4 666.1,178.7 666.9,178.7 667.7,179 668.6,179.4 669.4,179.6 670.2,179.8 671,180 671.8,180.2 672.6,180.5 673.4,180.8 674.2,180.9 675,181 675.8,181.1 676.6,181.4 677.4,181.7 678.3,182.1 679.1,182 679.9,182.3 680.7,182.5 681.5,182.9 682.3,183 683.1,183.1 683.9,183.3 684.7,183.8 685.5,183.8 686.3,184.4 687.1,184.6 687.9,184.6 688.8,185 689.6,185.2 690.4,185.4 691.2,185.6 692,186 692.8,186.3 693.6,186.6 694.4,186.6 695.2,187.1 696,187.3 696.8,187.6 697.6,187.8 698.5,188.3 699.3,188.6 700.1,188.7 700.9,189 701.7,189.1 702.5,189.5 703.3,189.9 704.1,190.1 704.9,190.4 705.7,190.7 706.5,191 707.3,191.3 708.1,191.6 709,191.6 709.8,192.1 710.6,192.1 711.4,192.7 712.2,192.9 713,193.2 713.8,193.7 714.6,193.9 715.4,194.3 716.2,194.5 717,194.9 717.8,195 718.7,195.3 719.5,195.7 720.3,196.2 721.1,196.2 721.9,196.6 722.7,197 723.5,197.3 724.3,197.4 725.1,197.9 725.9,198.1 726.7,198.5 727.5,198.7 728.3,199 729.2,199.2 730,199.7 730.8,199.7 731.6,200.1 732.4,200.4 733.2,200.6 734,200.9 734.8,201.1 735.6,201.4 736.4,201.6 737.2,201.7 738,202 738.9,202.5 739.7,202.3 740.5,202.6 741.3,202.9 742.1,202.8 742.9,203.1 743.7,203.2 744.5,203.6 745.3,203.5 746.1,203.8 746.9,203.8 747.7,204 748.6,203.9 749.4,204 750.2,204.2 751,204.1 751.8,204.3 752.6,204.4 753.4,204.5 754.2,204.6 755,204.6 755.8,204.3 756.6,204.3 757.4,204.6 758.2,204.3 759.1,204.3 759.9,204.3 760.7,204.1 761.5,204.1 762.3,203.9 763.1,203.9 763.9,203.6 764.7,203.6 765.5,203.4 766.3,203.3 767.1,202.9 767.9,202.7 768.8,202.4 769.6,202.1 770.4,202 771.2,201.8 772,201.7 772.8,201.3 773.6,201.3" fill="none" stroke="#0000ff" stroke-width="1.5" stroke-dasharray="6,1.2,1.5,1.2" clip-path="url(#c15)" stroke-linejoin="round"/>
<polyline points="612.8,176 613.6,176.2 614.4,175.7 615.2,175.2 616,176.2 616.8,175.4 617.6,175.9 618.5,175.2 619.3,175.5 620.1,175.1 620.9,174.9 621.7,174.9 622.5,175.2 623.3,174.4 624.1,174.4 624.9,175.1 625.7,174.4 626.5,174.7 627.3,174 628.2,174.4 629,174.9 629.8,174.5 630.6,174.5 631.4,174.2 632.2,174.4 633,173.7 633.8,173.7 634.6,174.5 635.4,173.7 636.2,174.9 637,174.8 637.8,174 638.7,173.6 639.5,173.6 640.3,174.8 641.1,174.7 641.9,175.3 642.7,175 643.5,175.6 644.3,175.4 645.1,174.7 645.9,175.2 646.7,175 647.5,175.3 648.4,175.4 649.2,175.7 650,176.4 650.8,175.8 651.6,175.7 652.4,176.1 653.2,176.4 654,176.5 654.8,176.9 655.6,176.9 656.4,177.8 657.2,177.9 658.1,177.4 658.9,178.3 659.7,178.7 660.5,178.3 661.3,178.2 662.1,178.9 662.9,178.9 663.7,179.3 664.5,179 665.3,180.5 666.1,179.8 666.9,180.3 667.7,180 668.6,180.6 669.4,179.8 670.2,180.4 671,180.2 671.8,181.8 672.6,181 673.4,181.2 674.2,182.5 675,182 675.8,182.4 676.6,183.1 677.4,183.1 678.3,183.2 679.1,183.6 679.9,182.8 680.7,184.3 681.5,184.6 682.3,185 683.1,183.7 683.9,184.4 684.7,184.7 685.5,185.9 686.3,185.7 687.1,186.4 687.9,186.1 688.8,185.9 689.6,185.9 690.4,186.5 691.2,187.5 692,186.9 692.8,186.8 693.6,187.9 694.4,188.6 695.2,189.3 696,189.1 696.8,189.2 697.6,188.4 698.5,189.2 699.3,189.5 700.1,190 700.9,189.8 701.7,190.8 702.5,191.3 703.3,191.1 704.1,191.2 704.9,191.7 705.7,192.1 706.5,192.5 707.3,192.1 708.1,193.3 709,193.1 709.8,193.3 710.6,193.9 711.4,193.6 712.2,194.6 713,195.4 713.8,195 714.6,195.2 715.4,195.2 716.2,196.3 717,196.4 717.8,195.7 718.7,197 719.5,196.6 720.3,196.7 721.1,197.4 721.9,197.5 722.7,198.5 723.5,197.9 724.3,198.2 725.1,198.6 725.9,199.2 726.7,199.8 727.5,199.4 728.3,199.9 729.2,199.8 730,200.6 730.8,200.6 731.6,202.1 732.4,202.3 733.2,201.4 734,202.1 734.8,202.5 735.6,202.3 736.4,202.6 737.2,203.3 738,203.1 738.9,203.3 739.7,203.6 740.5,204.3 741.3,203.9 742.1,204.4 742.9,204.5 743.7,204.8 744.5,204.6 745.3,204.6 746.1,204.7 746.9,205.1 747.7,205.2 748.6,205.2 749.4,205.4 750.2,206.4 751,205.8 751.8,204.8 752.6,206.1 753.4,205.7 754.2,205.2 755,206.2 755.8,205.6 756.6,206 757.4,205.3 758.2,206 759.1,205.4 759.9,205.8 760.7,205.7 761.5,204.8 762.3,205.3 763.1,205.2 763.9,204.8 764.7,204 765.5,204.6 766.3,204.2 767.1,204.6 767.9,203.5 768.8,204.1 769.6,203.5 770.4,204.3 771.2,202.6 772,203.1 772.8,202.3 773.6,201.9" fill="none" stroke="#ff0000" stroke-width="2.5" stroke-dasharray="5,0.7" clip-path="url(#c15)" stroke-linejoin="round"/>
<rect x="612.8" y="166.4" width="160.8" height="44.9" fill="none" stroke="#808080" stroke-width="1"/>
<path d="M630.67 211.3v-2.2M630.67 166.4v2.2M666.4 211.3v-2.2M666.4 166.4v2.2M702.13 211.3v-2.2M702.13 166.4v2.2M737.87 211.3v-2.2M737.87 166.4v2.2M773.6 211.3v-2.2M773.6 166.4v2.2M612.8 178.1h2.2M773.6 178.1h-2.2M612.8 193.4h2.2M773.6 193.4h-2.2M612.8 208.7h2.2M773.6 208.7h-2.2" stroke="#5a5a5a" stroke-width="0.9" fill="none"/>
<text transform="translate(630.67,224.7) scale(1,1.04)" text-anchor="middle" font-size="9.3" fill="#262626" >1</text>
<text transform="translate(666.4,224.7) scale(1,1.04)" text-anchor="middle" font-size="9.3" fill="#262626" >2</text>
<text transform="translate(702.13,224.7) scale(1,1.04)" text-anchor="middle" font-size="9.3" fill="#262626" >3</text>
<text transform="translate(737.87,224.7) scale(1,1.04)" text-anchor="middle" font-size="9.3" fill="#262626" >4</text>
<text transform="translate(773.6,224.7) scale(1,1.04)" text-anchor="middle" font-size="9.3" fill="#262626" >5</text>
<text transform="translate(608.8,181.4) scale(1,1.04)" text-anchor="end" font-size="9.3" fill="#262626" >100</text>
<text transform="translate(608.8,196.7) scale(1,1.04)" text-anchor="end" font-size="9.3" fill="#262626" >50</text>
<text transform="translate(608.8,212) scale(1,1.04)" text-anchor="end" font-size="9.3" fill="#262626" >0</text>
<path d="M498.4 262.5V349.5 M530.3 262.5V349.5 M562.2 262.5V349.5 M594.1 262.5V349.5 M626 262.5V349.5 M657.9 262.5V349.5 M689.8 262.5V349.5 M721.7 262.5V349.5 M753.6 262.5V349.5 M466.5 272.7H785.5 M466.5 305.9H785.5 M466.5 339.1H785.5" stroke="#e6e6e6" stroke-width="0.8" fill="none"/>
<rect x="466.5" y="262.5" width="319" height="87" fill="none" stroke="#808080" stroke-width="1"/>
<clipPath id="c16"><rect x="465.7" y="261.7" width="320.6" height="88.6"/></clipPath>
<polyline points="466.5,315.5 466.7,321.8 466.9,327.1 467.1,331.1 467.2,333.9 467.4,335.9 467.6,337.1 467.8,338 468,338.5 468.2,338.8 468.3,339.1 468.5,339.2 468.7,339.2 468.9,339.3 469.1,339.4 469.3,339.4 469.5,339.4 469.6,339.4 469.8,339.4 470,339.4 470.2,339.4 470.4,339.4 470.6,339.4 470.8,339.4 470.9,339.4 471.1,339.4 471.3,339.4 471.5,339.4 471.7,339.4 471.9,339.4 472,339.3 472.2,339.3 472.4,339.3 472.6,339.3 472.8,339.3 473,339.3 473.2,339.3 473.3,339.3 473.5,339.3 473.7,339.3 473.9,339.3 474.1,339.2 474.3,339.2 474.5,339.2 474.6,339.2 474.8,339.2 475,339.2 475.2,339.2 475.4,339.2 475.6,339.2 475.7,339.2 475.9,339.2 476.1,339.2 476.3,339.2 476.5,339.2 476.7,339.2 476.9,339.2 477,339.2 477.2,339.2 477.4,339.2 477.6,339.2 477.8,339.2 478,339.2 478.2,339.2 478.3,339.2 478.5,339.2 478.7,339.2 478.9,339.2 479.1,339.2 479.3,339.2" fill="none" stroke="#000" stroke-width="1.1" clip-path="url(#c16)" stroke-linejoin="round"/>
<polyline points="479.3,339.2 482.1,339.2 484.9,339.2 487.7,339.2 490.5,339.2 493.3,339.2 496.1,339.2 498.9,339.3 501.7,339.3 504.5,339.3 507.4,339.3 510.2,339.3 513,339.4 515.8,339.4 518.6,339.4 521.4,339.4 524.2,339.5 527,339.5 529.8,339.5 532.6,339.5 535.5,339.5 538.3,339.6 541.1,339.6 543.9,339.6 546.7,339.6 549.5,339.6 552.3,339.7 555.1,339.7 557.9,339.7 560.7,339.7 563.5,339.7 566.4,339.7 569.2,339.7 572,339.7 574.8,339.7 577.6,339.7 580.4,339.7 583.2,339.6 586,339.6 588.8,339.6 591.6,339.6 594.5,339.6 597.3,339.6 600.1,339.6 602.9,339.6 605.7,339.5 608.5,339.5 611.3,339.5 614.1,339.5 616.9,339.5 619.7,339.4 622.5,339.4 625.4,339.4 628.2,339.3 631,339.3 633.8,339.3 636.6,339.2 639.4,339.2 642.2,339.2 645,339.1 647.8,339.1 650.6,339 653.5,339 656.3,338.9 659.1,338.9 661.9,338.9 664.7,338.8 667.5,338.8 670.3,338.7 673.1,338.7 675.9,338.6 678.7,338.6 681.5,338.5 684.4,338.5 687.2,338.4 690,338.4 692.8,338.3 695.6,338.3 698.4,338.2 701.2,338.2 704,338.1 706.8,338.1 709.6,338 712.5,338 715.3,337.9 718.1,337.9 720.9,337.8 723.7,337.8 726.5,337.8 729.3,337.7 732.1,337.7 734.9,337.7 737.7,337.7 740.5,337.6 743.4,337.6 746.2,337.6 749,337.6 751.8,337.6 754.6,337.6 757.4,337.5 760.2,337.5 763,337.5 765.8,337.5 768.6,337.5 771.5,337.5 774.3,337.6 777.1,337.6 779.9,337.6 782.7,337.6 785.5,337.6" fill="none" stroke="#000" stroke-width="1.1" clip-path="url(#c16)" stroke-linejoin="round"/>
<polyline points="466.5,262.7 466.7,294.4 466.9,316.8 467.1,328.5 467.2,338.2 467.4,343.4 467.6,346.7 467.8,348.3 468,349.3 468.2,349.5 468.3,349.3 468.5,348.9 468.7,348.4 468.9,347.9 469.1,347.3 469.3,346.6 469.5,345.8 469.6,345.2 469.8,344.7 470,344.2 470.2,343.7 470.4,343.3 470.6,342.8 470.8,342.5 470.9,342.1 471.1,341.9 471.3,341.6 471.5,341.4 471.7,341.2 471.9,341 472,340.8 472.2,340.6 472.4,340.4 472.6,340.2 472.8,340 473,339.9 473.2,339.8 473.3,339.8 473.5,339.7 473.7,339.7 473.9,339.7 474.1,339.6 474.3,339.6 474.5,339.6 474.6,339.5 474.8,339.5 475,339.5 475.2,339.5 475.4,339.4 475.6,339.4 475.7,339.4 475.9,339.4 476.1,339.4 476.3,339.4 476.5,339.3 476.7,339.3 476.9,339.3 477,339.3 477.2,339.3 477.4,339.3 477.6,339.3 477.8,339.3 478,339.3 478.2,339.3 478.3,339.3 478.5,339.2 478.7,339.2 478.9,339.2 479.1,339.2 479.3,339.2" fill="none" stroke="#ff0000" stroke-width="1.25" stroke-dasharray="6.4,3.9" stroke-dashoffset="5.8" clip-path="url(#c16)" stroke-linejoin="round"/>
<polyline points="479.3,339.2 482.1,339.2 484.9,339.2 487.7,339.2 490.5,339.2 493.3,339.2 496.1,339.2 498.9,339.3 501.7,339.3 504.5,339.3 507.4,339.3 510.2,339.3 513,339.4 515.8,339.4 518.6,339.4 521.4,339.4 524.2,339.5 527,339.5 529.8,339.5 532.6,339.5 535.5,339.5 538.3,339.6 541.1,339.6 543.9,339.6 546.7,339.6 549.5,339.6 552.3,339.7 555.1,339.7 557.9,339.7 560.7,339.7 563.5,339.7 566.4,339.7 569.2,339.7 572,339.7 574.8,339.7 577.6,339.7 580.4,339.7 583.2,339.6 586,339.6 588.8,339.6 591.6,339.6 594.5,339.6 597.3,339.6 600.1,339.6 602.9,339.6 605.7,339.5 608.5,339.5 611.3,339.5 614.1,339.5 616.9,339.5 619.7,339.4 622.5,339.4 625.4,339.4 628.2,339.3 631,339.3 633.8,339.3 636.6,339.2 639.4,339.2 642.2,339.2 645,339.1 647.8,339.1 650.6,339 653.5,339 656.3,338.9 659.1,338.9 661.9,338.9 664.7,338.8 667.5,338.8 670.3,338.7 673.1,338.7 675.9,338.6 678.7,338.6 681.5,338.5 684.4,338.5 687.2,338.4 690,338.4 692.8,338.3 695.6,338.3 698.4,338.2 701.2,338.2 704,338.1 706.8,338.1 709.6,338 712.5,338 715.3,337.9 718.1,337.9 720.9,337.8 723.7,337.8 726.5,337.8 729.3,337.7 732.1,337.7 734.9,337.7 737.7,337.7 740.5,337.6 743.4,337.6 746.2,337.6 749,337.6 751.8,337.6 754.6,337.6 757.4,337.5 760.2,337.5 763,337.5 765.8,337.5 768.6,337.5 771.5,337.5 774.3,337.6 777.1,337.6 779.9,337.6 782.7,337.6 785.5,337.6" fill="none" stroke="#ff0000" stroke-width="1.25" stroke-dasharray="6.4,3.9" stroke-dashoffset="5.8" clip-path="url(#c16)" stroke-linejoin="round"/>
<polyline points="466.5,315.2 466.7,325.6 466.9,332 467.1,335.8 467.2,338.2 467.4,339.4 467.6,339.7 467.8,339.7 468,339.8 468.2,339.8 468.3,339.7 468.5,339.7 468.7,339.6 468.9,339.5 469.1,339.5 469.3,339.5 469.5,339.4 469.6,339.4 469.8,339.4 470,339.4 470.2,339.3 470.4,339.3 470.6,339.3 470.8,339.3 470.9,339.3 471.1,339.3 471.3,339.2 471.5,339.2 471.7,339.2 471.9,339.2 472,339.2 472.2,339.2 472.4,339.1 472.6,339.1 472.8,339.1 473,339.1 473.2,339.1 473.3,339.1 473.5,339.1 473.7,339.1 473.9,339.1 474.1,339.1 474.3,339.2 474.5,339.2 474.6,339.2 474.8,339.2 475,339.2 475.2,339.2 475.4,339.2 475.6,339.2 475.7,339.2 475.9,339.2 476.1,339.2 476.3,339.2 476.5,339.2 476.7,339.2 476.9,339.2 477,339.2 477.2,339.2 477.4,339.2 477.6,339.2 477.8,339.2 478,339.2 478.2,339.2 478.3,339.2 478.5,339.2 478.7,339.2 478.9,339.2 479.1,339.2 479.3,339.2" fill="none" stroke="#0000ff" stroke-width="1.25" stroke-dasharray="5.4,1.6,1.5,1.8" clip-path="url(#c16)" stroke-linejoin="round"/>
<polyline points="479.3,339.2 482.1,339.2 484.9,339.2 487.7,339.2 490.5,339.2 493.3,339.3 496.1,339.3 498.9,339.3 501.7,339.3 504.5,339.3 507.4,339.3 510.2,339.4 513,339.4 515.8,339.4 518.6,339.4 521.4,339.5 524.2,339.5 527,339.5 529.8,339.5 532.6,339.6 535.5,339.6 538.3,339.6 541.1,339.6 543.9,339.7 546.7,339.7 549.5,339.7 552.3,339.7 555.1,339.7 557.9,339.7 560.7,339.7 563.5,339.7 566.4,339.7 569.2,339.7 572,339.7 574.8,339.7 577.6,339.7 580.4,339.7 583.2,339.7 586,339.7 588.8,339.7 591.6,339.7 594.5,339.6 597.3,339.6 600.1,339.6 602.9,339.6 605.7,339.6 608.5,339.6 611.3,339.5 614.1,339.5 616.9,339.5 619.7,339.5 622.5,339.4 625.4,339.4 628.2,339.4 631,339.4 633.8,339.3 636.6,339.3 639.4,339.2 642.2,339.2 645,339.1 647.8,339.1 650.6,339.1 653.5,339 656.3,339 659.1,338.9 661.9,338.9 664.7,338.8 667.5,338.8 670.3,338.7 673.1,338.7 675.9,338.6 678.7,338.6 681.5,338.5 684.4,338.5 687.2,338.4 690,338.3 692.8,338.3 695.6,338.2 698.4,338.2 701.2,338.1 704,338.1 706.8,338 709.6,338 712.5,337.9 715.3,337.9 718.1,337.8 720.9,337.8 723.7,337.8 726.5,337.7 729.3,337.7 732.1,337.7 734.9,337.6 737.7,337.6 740.5,337.6 743.4,337.6 746.2,337.6 749,337.5 751.8,337.5 754.6,337.5 757.4,337.5 760.2,337.5 763,337.5 765.8,337.5 768.6,337.5 771.5,337.5 774.3,337.5 777.1,337.5 779.9,337.5 782.7,337.6 785.5,337.6" fill="none" stroke="#0000ff" stroke-width="1.25" stroke-dasharray="5.4,1.6,1.5,1.8" clip-path="url(#c16)" stroke-linejoin="round"/>
<path d="M466.5 349.5v-3.2M466.5 262.5v3.2M498.4 349.5v-3.2M498.4 262.5v3.2M530.3 349.5v-3.2M530.3 262.5v3.2M562.2 349.5v-3.2M562.2 262.5v3.2M594.1 349.5v-3.2M594.1 262.5v3.2M626 349.5v-3.2M626 262.5v3.2M657.9 349.5v-3.2M657.9 262.5v3.2M689.8 349.5v-3.2M689.8 262.5v3.2M721.7 349.5v-3.2M721.7 262.5v3.2M753.6 349.5v-3.2M753.6 262.5v3.2M785.5 349.5v-3.2M785.5 262.5v3.2M466.5 272.7h3.2M785.5 272.7h-3.2M466.5 305.9h3.2M785.5 305.9h-3.2M466.5 339.1h3.2M785.5 339.1h-3.2" stroke="#5a5a5a" stroke-width="0.9" fill="none"/>
<text transform="translate(466.5,363.1) scale(1,1.04)" text-anchor="middle" font-size="9.3" fill="#262626" >0</text>
<text transform="translate(498.4,363.1) scale(1,1.04)" text-anchor="middle" font-size="9.3" fill="#262626" >0.5</text>
<text transform="translate(530.3,363.1) scale(1,1.04)" text-anchor="middle" font-size="9.3" fill="#262626" >1</text>
<text transform="translate(562.2,363.1) scale(1,1.04)" text-anchor="middle" font-size="9.3" fill="#262626" >1.5</text>
<text transform="translate(594.1,363.1) scale(1,1.04)" text-anchor="middle" font-size="9.3" fill="#262626" >2</text>
<text transform="translate(626,363.1) scale(1,1.04)" text-anchor="middle" font-size="9.3" fill="#262626" >2.5</text>
<text transform="translate(657.9,363.1) scale(1,1.04)" text-anchor="middle" font-size="9.3" fill="#262626" >3</text>
<text transform="translate(689.8,363.1) scale(1,1.04)" text-anchor="middle" font-size="9.3" fill="#262626" >3.5</text>
<text transform="translate(721.7,363.1) scale(1,1.04)" text-anchor="middle" font-size="9.3" fill="#262626" >4</text>
<text transform="translate(753.6,363.1) scale(1,1.04)" text-anchor="middle" font-size="9.3" fill="#262626" >4.5</text>
<text transform="translate(785.5,363.1) scale(1,1.04)" text-anchor="middle" font-size="9.3" fill="#262626" >5</text>
<text transform="translate(462.5,276) scale(1,1.04)" text-anchor="end" font-size="9.3" fill="#262626" >10000</text>
<text transform="translate(462.5,309.2) scale(1,1.04)" text-anchor="end" font-size="9.3" fill="#262626" >5000</text>
<text transform="translate(462.5,342.4) scale(1,1.04)" text-anchor="end" font-size="9.3" fill="#262626" >0</text>
<g transform="translate(426.9,306) rotate(-90)" font-size="10.2" fill="#262626"><text x="-15.8">M</text><text x="-6.9" y="5.2" font-size="7">6</text><text x="15.45" text-anchor="end">(N)</text></g>
<text x="626" y="376.9" text-anchor="middle" font-size="10.5" fill="#262626" >time (s)</text>
<rect x="509.3" y="272.4" width="73.4" height="45.1" fill="#fff"/>
<path d="M546 272.4V317.5 M509.3 287.55H582.7 M509.3 302.6H582.7" stroke="#e6e6e6" stroke-width="0.8" fill="none"/>
<clipPath id="c17"><rect x="509.3" y="272.4" width="73.4" height="45.1"/></clipPath>
<polyline points="509.3,275.9 510,278.1 510.6,280.4 511.3,282.6 512,284.8 512.7,286.8 513.3,288.5 514,290.1 514.7,291.5 515.4,292.9 516,294.1 516.7,295.2 517.4,296.1 518.1,297 518.7,297.8 519.4,298.4 520.1,299 520.7,299.5 521.4,300 522.1,300.4 522.8,300.8 523.4,301.1 524.1,301.3 524.8,301.5 525.5,301.7 526.1,301.8 526.8,302 527.5,302.1 528.2,302.2 528.8,302.3 529.5,302.4 530.2,302.5 530.8,302.6 531.5,302.6 532.2,302.6 532.9,302.7 533.5,302.7 534.2,302.7 534.9,302.8 535.6,302.8 536.2,302.8 536.9,302.8 537.6,302.8 538.3,302.9 538.9,302.9 539.6,302.9 540.3,302.9 540.9,302.9 541.6,302.9 542.3,303 543,303 543.6,303 544.3,303 545,303 545.7,303 546.3,303 547,303 547.7,303 548.4,303 549,303 549.7,303 550.4,303 551.1,303 551.7,303 552.4,303 553.1,303 553.7,303 554.4,303 555.1,303 555.8,303 556.4,303 557.1,303 557.8,303 558.5,302.9 559.1,302.9 559.8,302.9 560.5,302.9 561.2,302.9 561.8,302.9 562.5,302.9 563.2,302.9 563.8,302.9 564.5,302.9 565.2,302.9 565.9,302.9 566.5,302.9 567.2,302.9 567.9,302.9 568.6,302.9 569.2,302.9 569.9,302.9 570.6,302.9 571.3,302.9 571.9,302.9 572.6,302.9 573.3,302.9 573.9,302.9 574.6,302.9 575.3,302.9 576,302.9 576.6,302.9 577.3,302.9 578,302.8 578.7,302.8 579.3,302.8 580,302.8 580.7,302.8 581.4,302.8 582,302.8 582.7,302.8" fill="none" stroke="#000" stroke-width="1.2" clip-path="url(#c17)" stroke-linejoin="round"/>
<polyline points="509.3,216.1 510,227 510.6,238.7 511.3,250.2 512,260.8 512.7,269.4 513.3,275.7 514,280.6 514.7,284.7 515.4,288.7 516,292.7 516.7,296.5 517.4,299.8 518.1,302.4 518.7,304.4 519.4,306.2 520.1,307.8 520.7,309.2 521.4,310.3 522.1,311.2 522.8,311.9 523.4,312.4 524.1,312.9 524.8,313.4 525.5,313.8 526.1,314.1 526.8,314.3 527.5,314.4 528.2,314.4 528.8,314.4 529.5,314.3 530.2,314.2 530.8,314.1 531.5,313.9 532.2,313.8 532.9,313.6 533.5,313.5 534.2,313.3 534.9,313.2 535.6,313 536.2,312.8 536.9,312.6 537.6,312.4 538.3,312.2 538.9,311.9 539.6,311.7 540.3,311.4 540.9,311.1 541.6,310.9 542.3,310.6 543,310.4 543.6,310.1 544.3,309.9 545,309.7 545.7,309.5 546.3,309.3 547,309.1 547.7,308.9 548.4,308.7 549,308.5 549.7,308.4 550.4,308.2 551.1,308 551.7,307.8 552.4,307.7 553.1,307.5 553.7,307.4 554.4,307.2 555.1,307.1 555.8,306.9 556.4,306.8 557.1,306.6 557.8,306.5 558.5,306.4 559.1,306.2 559.8,306.1 560.5,306 561.2,305.9 561.8,305.8 562.5,305.7 563.2,305.6 563.8,305.5 564.5,305.4 565.2,305.4 565.9,305.3 566.5,305.2 567.2,305.1 567.9,305 568.6,305 569.2,304.9 569.9,304.8 570.6,304.7 571.3,304.7 571.9,304.6 572.6,304.5 573.3,304.5 573.9,304.4 574.6,304.3 575.3,304.3 576,304.2 576.6,304.1 577.3,304.1 578,304 578.7,303.9 579.3,303.9 580,303.8 580.7,303.7 581.4,303.7 582,303.6 582.7,303.5" fill="none" stroke="#ff0000" stroke-width="1.2" stroke-dasharray="6.4,3.9" clip-path="url(#c17)" stroke-linejoin="round"/>
<polyline points="509.3,275.5 510,279.4 510.6,283.3 511.3,286.8 512,289.4 512.7,291.8 513.3,293.9 514,295.7 514.7,297.1 515.4,298.3 516,299.4 516.7,300.4 517.4,301.2 518.1,301.8 518.7,302.3 519.4,302.7 520.1,303 520.7,303.2 521.4,303.2 522.1,303.2 522.8,303.3 523.4,303.3 524.1,303.3 524.8,303.3 525.5,303.3 526.1,303.3 526.8,303.4 527.5,303.4 528.2,303.4 528.8,303.3 529.5,303.3 530.2,303.3 530.8,303.3 531.5,303.3 532.2,303.3 532.9,303.2 533.5,303.2 534.2,303.2 534.9,303.2 535.6,303.1 536.2,303.1 536.9,303.1 537.6,303.1 538.3,303.1 538.9,303 539.6,303 540.3,303 540.9,303 541.6,303 542.3,303 543,303 543.6,303 544.3,303 545,303 545.7,302.9 546.3,302.9 547,302.9 547.7,302.9 548.4,302.9 549,302.9 549.7,302.9 550.4,302.9 551.1,302.9 551.7,302.9 552.4,302.9 553.1,302.9 553.7,302.9 554.4,302.8 555.1,302.8 555.8,302.8 556.4,302.8 557.1,302.8 557.8,302.8 558.5,302.8 559.1,302.8 559.8,302.8 560.5,302.8 561.2,302.8 561.8,302.8 562.5,302.8 563.2,302.8 563.8,302.8 564.5,302.8 565.2,302.8 565.9,302.7 566.5,302.7 567.2,302.7 567.9,302.7 568.6,302.7 569.2,302.7 569.9,302.7 570.6,302.7 571.3,302.7 571.9,302.7 572.6,302.7 573.3,302.7 573.9,302.7 574.6,302.7 575.3,302.7 576,302.7 576.6,302.7 577.3,302.7 578,302.6 578.7,302.6 579.3,302.6 580,302.6 580.7,302.6 581.4,302.6 582,302.6 582.7,302.6" fill="none" stroke="#0000ff" stroke-width="1.2" stroke-dasharray="5.4,1.6,1.5,1.8" clip-path="url(#c17)" stroke-linejoin="round"/>
<rect x="509.3" y="272.4" width="73.4" height="45.1" fill="none" stroke="#808080" stroke-width="1"/>
<path d="M509.3 317.5v-2.2M509.3 272.4v2.2M546 317.5v-2.2M546 272.4v2.2M582.7 317.5v-2.2M582.7 272.4v2.2M509.3 272.5h2.2M582.7 272.5h-2.2M509.3 287.55h2.2M582.7 287.55h-2.2M509.3 302.6h2.2M582.7 302.6h-2.2M509.3 317.65h2.2M582.7 317.65h-2.2" stroke="#5a5a5a" stroke-width="0.9" fill="none"/>
<text transform="translate(509.3,330.9) scale(1,1.04)" text-anchor="middle" font-size="9.3" fill="#262626" >0</text>
<text transform="translate(546,330.9) scale(1,1.04)" text-anchor="middle" font-size="9.3" fill="#262626" >0.05</text>
<text transform="translate(582.7,330.9) scale(1,1.04)" text-anchor="middle" font-size="9.3" fill="#262626" >0.1</text>
<text transform="translate(505.3,275.8) scale(1,1.04)" text-anchor="end" font-size="9.3" fill="#262626" >4000</text>
<text transform="translate(505.3,290.85) scale(1,1.04)" text-anchor="end" font-size="9.3" fill="#262626" >2000</text>
<text transform="translate(505.3,305.9) scale(1,1.04)" text-anchor="end" font-size="9.3" fill="#262626" >0</text>
<text transform="translate(505.3,320.95) scale(1,1.04)" text-anchor="end" font-size="9.3" fill="#262626" >-2000</text>
<rect x="612.8" y="272.4" width="160.8" height="44.9" fill="#fff"/>
<path d="M630.67 272.4V317.3 M666.4 272.4V317.3 M702.13 272.4V317.3 M737.87 272.4V317.3 M612.8 281.9H773.6 M612.8 293.2H773.6 M612.8 304.5H773.6 M612.8 315.8H773.6" stroke="#e6e6e6" stroke-width="0.8" fill="none"/>
<clipPath id="c18"><rect x="612.8" y="272.4" width="160.8" height="44.9"/></clipPath>
<polyline points="612.8,308 613.2,307.8 613.6,308.1 614,307 614.3,307.3 614.7,308.1 615.1,307.6 615.5,308.6 615.9,308.9 616.3,308.1 616.6,308.3 617,308.4 617.4,308.3 617.8,308.5 618.2,308.5 618.6,308.9 618.9,308.7 619.3,308.7 619.7,308.9 620.1,308.8 620.5,309.1 620.9,309.5 621.2,310.3 621.6,308.7 622,308.9 622.4,309.6 622.8,309.8 623.2,309.8 623.5,310.8 623.9,309.2 624.3,310.1 624.7,309.7 625.1,310.2 625.5,310.7 625.8,309.9 626.2,311.1 626.6,310.4 627,310.4 627.4,310.2 627.8,310.7 628.2,310.8 628.5,311.6 628.9,310.6 629.3,311.5 629.7,311.9 630.1,311.5 630.5,312.1 630.8,311.5 631.2,312.1 631.6,311.9 632,313.1 632.4,312.1 632.8,312.2 633.1,312.6 633.5,312.2 633.9,312.5 634.3,312.8 634.7,313.1 635.1,312.6 635.4,312.9 635.8,312.9 636.2,313.4 636.6,313.5 637,313.4 637.4,313.4 637.7,314.2 638.1,313.1 638.5,314.3 638.9,313.9 639.3,313 639.7,313.8 640,313.2 640.4,313.8 640.8,313 641.2,314.3 641.6,313.7 642,314.9 642.4,313.9 642.7,314.3 643.1,313.7 643.5,314.3 643.9,314.4 644.3,314.7 644.7,315.6 645,315.2 645.4,314.9 645.8,314.4 646.2,314.5 646.6,314.5 647,314.3 647.3,315 647.7,314.7 648.1,315 648.5,314.6 648.9,314.9 649.3,315.6 649.6,314.9 650,315.2 650.4,314.4 650.8,314.7 651.2,314.6 651.6,315 651.9,314.9 652.3,314.4 652.7,314.9 653.1,314.8 653.5,314 653.9,314.7 654.2,315.2 654.6,314.2 655,315.1 655.4,314.9 655.8,314.6 656.2,314.7 656.5,314.1 656.9,314.8 657.3,313.8 657.7,313.9 658.1,314.6 658.5,313.8 658.9,315.2 659.2,314.4 659.6,314.6 660,314.6 660.4,314 660.8,314.1 661.2,314.3 661.5,314 661.9,314.7 662.3,314.4 662.7,314 663.1,314.4 663.5,313.8 663.8,314.1 664.2,313.8 664.6,313.5 665,313.2 665.4,313.2 665.8,313.5 666.1,313.6 666.5,312.4 666.9,313.2 667.3,313.6 667.7,313.2 668.1,312.7 668.4,312.7 668.8,313.8 669.2,312.3 669.6,312.8 670,313.3 670.4,311.9 670.7,313.1 671.1,312 671.5,313.1 671.9,313.8 672.3,311.9 672.7,312.4 673.1,312.5 673.4,312 673.8,312.5 674.2,311.8 674.6,311.8 675,311.6 675.4,311.9 675.7,312 676.1,312.2 676.5,311.6 676.9,311.1 677.3,311.3 677.7,311.2 678,311.1 678.4,311.5 678.8,311.1 679.2,311.1 679.6,311 680,310.8 680.3,310.5 680.7,311 681.1,310.5 681.5,310.4 681.9,309.8 682.3,309.9 682.6,309.8 683,310.2 683.4,309 683.8,310 684.2,309.6 684.6,309.1 684.9,308.9 685.3,309.4 685.7,309.1 686.1,308 686.5,308.5 686.9,308.2 687.3,308.5 687.6,308.1 688,308.4 688.4,307.8 688.8,307.8 689.2,308.3 689.6,307.5 689.9,307.2 690.3,307.3 690.7,306.5 691.1,306.2 691.5,306.8 691.9,306.4 692.2,305.8 692.6,306.7 693,306.4 693.4,306.1 693.8,305.5 694.2,305.5 694.5,305.2 694.9,305.7 695.3,304.4 695.7,305 696.1,304.7 696.5,304.1 696.8,304.7 697.2,304.1 697.6,304.9 698,304.4 698.4,303.6 698.8,303.3 699.1,303 699.5,302.8 699.9,303.1 700.3,302.1 700.7,303 701.1,302.7 701.5,302.1 701.8,302.3 702.2,302.8 702.6,301.8 703,302.2 703.4,301.1 703.8,300.8 704.1,301.3 704.5,299.8 704.9,300.9 705.3,300.3 705.7,299.8 706.1,299.9 706.4,299.7 706.8,300 707.2,299.7 707.6,299.2 708,298.8 708.4,298.2 708.7,298.6 709.1,297.1 709.5,298.5 709.9,297.9 710.3,296.9 710.7,297.7 711,296.8 711.4,296.8 711.8,296 712.2,296.3 712.6,296.5 713,296.2 713.3,296.1 713.7,295.5 714.1,295.8 714.5,294.7 714.9,294.9 715.3,293.8 715.7,294.6 716,294.3 716.4,294.2 716.8,294.4 717.2,294.5 717.6,293.2 718,293.4 718.3,292.4 718.7,293.9 719.1,293.4 719.5,292.8 719.9,293 720.3,292.6 720.6,291.7 721,292.1 721.4,292.1 721.8,291.7 722.2,291.1 722.6,290.8 722.9,291.8 723.3,290.6 723.7,290.5 724.1,289.5 724.5,290.2 724.9,289.8 725.2,289.1 725.6,289.8 726,289 726.4,289.1 726.8,288.8 727.2,288.1 727.5,288.3 727.9,288.6 728.3,287.3 728.7,287.1 729.1,287 729.5,287.5 729.9,286.8 730.2,286.9 730.6,287.1 731,285.9 731.4,286.9 731.8,286.1 732.2,285.8 732.5,286.4 732.9,285.7 733.3,284.7 733.7,285.1 734.1,284.6 734.5,284.9 734.8,284.4 735.2,284.3 735.6,284.7 736,283.3 736.4,284.1 736.8,283.7 737.1,283.8 737.5,282.4 737.9,282.9 738.3,283 738.7,283.7 739.1,282.3 739.4,282.2 739.8,282.5 740.2,282.6 740.6,282 741,282.2 741.4,281.3 741.7,282.7 742.1,281.6 742.5,281.7 742.9,282.8 743.3,281.2 743.7,280.8 744,280.8 744.4,281.9 744.8,280.9 745.2,280.5 745.6,280.8 746,280.7 746.4,281 746.7,280.8 747.1,280.6 747.5,280.5 747.9,279.8 748.3,279.5 748.7,280.2 749,280.2 749.4,279.9 749.8,279.9 750.2,280 750.6,279.1 751,279.4 751.3,279.1 751.7,278.5 752.1,279.5 752.5,279.1 752.9,279.3 753.3,279.4 753.6,278.6 754,279.6 754.4,279 754.8,279.3 755.2,279.6 755.6,278.5 755.9,278.4 756.3,278.7 756.7,279.1 757.1,279.1 757.5,277.6 757.9,279.1 758.2,278.2 758.6,278.6 759,277.8 759.4,277.9 759.8,278.5 760.2,277.5 760.6,278.6 760.9,278 761.3,278.4 761.7,278.3 762.1,278 762.5,278.8 762.9,279.3 763.2,278.5 763.6,277.5 764,278.3 764.4,278.2 764.8,278.7 765.2,278.3 765.5,279.3 765.9,278.7 766.3,278.7 766.7,278.3 767.1,278.1 767.5,278.6 767.8,278.8 768.2,279 768.6,278.9 769,278.8 769.4,279 769.8,278.9 770.1,278.7 770.5,278.9 770.9,279.6 771.3,279.8 771.7,279.4 772.1,279.6 772.4,280 772.8,279.8 773.2,281.4 773.6,280.1" fill="none" stroke="#000" stroke-width="1.9" clip-path="url(#c18)" stroke-linejoin="round"/>
<polyline points="612.8,307.6 613.6,307.6 614.4,308 615.2,308.3 616,308.3 616.8,308.6 617.6,308.7 618.5,308.9 619.3,309.1 620.1,309.2 620.9,309.4 621.7,309.6 622.5,309.8 623.3,310.2 624.1,310.4 624.9,310.6 625.7,310.8 626.5,311.1 627.3,311.2 628.2,311.7 629,311.8 629.8,311.9 630.6,312.1 631.4,312.4 632.2,312.7 633,312.7 633.8,312.9 634.6,313.4 635.4,313.4 636.2,313.6 637,313.9 637.8,313.9 638.7,314 639.5,314 640.3,314.4 641.1,314.4 641.9,314.7 642.7,314.5 643.5,314.8 644.3,314.9 645.1,314.9 645.9,315 646.7,315.1 647.5,315.2 648.4,315.1 649.2,315.2 650,315.4 650.8,315.4 651.6,315.4 652.4,315.3 653.2,315.2 654,315.2 654.8,315.2 655.6,315.1 656.4,315.1 657.2,314.8 658.1,314.8 658.9,314.6 659.7,314.6 660.5,314.7 661.3,314.5 662.1,314.5 662.9,314.3 663.7,314.3 664.5,314 665.3,314 666.1,313.9 666.9,313.9 667.7,313.8 668.6,313.5 669.4,313.2 670.2,313.2 671,313.2 671.8,312.9 672.6,312.7 673.4,312.5 674.2,312.4 675,312.4 675.8,312.1 676.6,311.9 677.4,311.9 678.3,311.7 679.1,311.5 679.9,311.1 680.7,310.8 681.5,310.7 682.3,310.6 683.1,310.1 683.9,309.9 684.7,309.3 685.5,309.5 686.3,309 687.1,308.5 687.9,308.4 688.8,308 689.6,307.8 690.4,307.6 691.2,306.9 692,306.7 692.8,306.3 693.6,305.9 694.4,305.6 695.2,305.3 696,304.8 696.8,304.3 697.6,304 698.5,303.6 699.3,303.3 700.1,302.7 700.9,302.4 701.7,302.1 702.5,301.5 703.3,301.2 704.1,300.7 704.9,300.3 705.7,299.7 706.5,299.7 707.3,299.1 708.1,298.6 709,298.2 709.8,297.5 710.6,297.1 711.4,296.7 712.2,296.1 713,295.7 713.8,295.4 714.6,294.7 715.4,294.3 716.2,293.9 717,293.5 717.8,293 718.7,292.5 719.5,292.2 720.3,291.4 721.1,291.2 721.9,290.5 722.7,290.1 723.5,289.7 724.3,289.4 725.1,288.7 725.9,288.2 726.7,288 727.5,287.4 728.3,287 729.2,286.6 730,286.2 730.8,285.7 731.6,285 732.4,284.8 733.2,284.4 734,283.9 734.8,283.5 735.6,283.3 736.4,282.9 737.2,282.4 738,282.2 738.9,281.9 739.7,281.4 740.5,281.2 741.3,280.8 742.1,280.6 742.9,280.4 743.7,280 744.5,279.8 745.3,279.7 746.1,279.4 746.9,279.2 747.7,279 748.6,278.8 749.4,278.7 750.2,278.4 751,278.2 751.8,278.1 752.6,278.1 753.4,277.9 754.2,277.7 755,277.7 755.8,277.5 756.6,277.2 757.4,277.4 758.2,277.4 759.1,277.1 759.9,276.8 760.7,277.1 761.5,277 762.3,276.9 763.1,276.7 763.9,276.9 764.7,277 765.5,277 766.3,277.1 767.1,277.4 767.9,277.4 768.8,277.6 769.6,277.6 770.4,277.8 771.2,278.2 772,278.3 772.8,278.6 773.6,278.8" fill="none" stroke="#0000ff" stroke-width="1.7" stroke-dasharray="6,1.2,1.5,1.2" clip-path="url(#c18)" stroke-linejoin="round"/>
<polyline points="612.8,307.3 613.6,307.3 614.4,307.7 615.2,307.3 616,307.7 616.8,308.5 617.6,308.1 618.5,308.9 619.3,308.7 620.1,308.7 620.9,309 621.7,309.7 622.5,309.3 623.3,309.3 624.1,310 624.9,310.2 625.7,310.5 626.5,310 627.3,310.8 628.2,310.9 629,311 629.8,311.1 630.6,311.6 631.4,311.7 632.2,311.9 633,312.7 633.8,312.3 634.6,312.1 635.4,312.3 636.2,312.6 637,312.5 637.8,313.4 638.7,313.8 639.5,313.2 640.3,313.8 641.1,313.5 641.9,313.6 642.7,313.4 643.5,314 644.3,314.5 645.1,314.6 645.9,314.4 646.7,314.3 647.5,314.8 648.4,314.9 649.2,314.2 650,314.5 650.8,314.4 651.6,314.2 652.4,314.1 653.2,314.1 654,314.4 654.8,314.4 655.6,314.3 656.4,314.6 657.2,313.9 658.1,313.7 658.9,313.6 659.7,314 660.5,313.6 661.3,313.2 662.1,313.9 662.9,313.9 663.7,313.5 664.5,313.5 665.3,312.8 666.1,312.7 666.9,313 667.7,312.9 668.6,312.7 669.4,312.6 670.2,312.3 671,312.8 671.8,312 672.6,312.1 673.4,312.3 674.2,311.5 675,311.7 675.8,311.4 676.6,311.5 677.4,310.4 678.3,310.8 679.1,310.5 679.9,310.9 680.7,310.3 681.5,309.9 682.3,310.1 683.1,309.8 683.9,309.7 684.7,309.4 685.5,309 686.3,308.3 687.1,308.3 687.9,308 688.8,307.7 689.6,307.4 690.4,307 691.2,306.5 692,306.2 692.8,305.6 693.6,305.3 694.4,305.4 695.2,304.7 696,304.5 696.8,303.9 697.6,303.2 698.5,303.2 699.3,303.4 700.1,302.5 700.9,302 701.7,302 702.5,301.2 703.3,300.8 704.1,300.1 704.9,299.6 705.7,299.9 706.5,299.4 707.3,298.9 708.1,298.7 709,297.9 709.8,297.6 710.6,296.9 711.4,296.5 712.2,296.1 713,296.2 713.8,295.7 714.6,294.7 715.4,294.5 716.2,294.2 717,293.5 717.8,293.5 718.7,292.6 719.5,292.3 720.3,291.8 721.1,290.9 721.9,290.5 722.7,290.3 723.5,290.5 724.3,289.8 725.1,289.4 725.9,288.6 726.7,288.2 727.5,287.9 728.3,287.6 729.2,286.6 730,286.4 730.8,286 731.6,286.2 732.4,285.3 733.2,284.8 734,284.9 734.8,284.2 735.6,284.2 736.4,283.3 737.2,283.8 738,282.9 738.9,282.7 739.7,282.3 740.5,282 741.3,281.8 742.1,281.4 742.9,281.6 743.7,280.3 744.5,280.4 745.3,280.4 746.1,280.3 746.9,280.6 747.7,280.1 748.6,279.7 749.4,279.3 750.2,280 751,279.5 751.8,279.8 752.6,278.5 753.4,279.3 754.2,278.6 755,278.3 755.8,278.4 756.6,278.3 757.4,278.1 758.2,277.7 759.1,278 759.9,277.6 760.7,278 761.5,277.5 762.3,278 763.1,277.8 763.9,278.2 764.7,277.8 765.5,277.6 766.3,277.7 767.1,278.3 767.9,279.6 768.8,278.1 769.6,278.5 770.4,279.4 771.2,279.3 772,279.7 772.8,279.6 773.6,279.9" fill="none" stroke="#ff0000" stroke-width="2.0" stroke-dasharray="5,0.7" clip-path="url(#c18)" stroke-linejoin="round"/>
<rect x="612.8" y="272.4" width="160.8" height="44.9" fill="none" stroke="#808080" stroke-width="1"/>
<path d="M630.67 317.3v-2.2M630.67 272.4v2.2M666.4 317.3v-2.2M666.4 272.4v2.2M702.13 317.3v-2.2M702.13 272.4v2.2M737.87 317.3v-2.2M737.87 272.4v2.2M773.6 317.3v-2.2M773.6 272.4v2.2M612.8 281.9h2.2M773.6 281.9h-2.2M612.8 293.2h2.2M773.6 293.2h-2.2M612.8 304.5h2.2M773.6 304.5h-2.2M612.8 315.8h2.2M773.6 315.8h-2.2" stroke="#5a5a5a" stroke-width="0.9" fill="none"/>
<text transform="translate(630.67,330.7) scale(1,1.04)" text-anchor="middle" font-size="9.3" fill="#262626" >1</text>
<text transform="translate(666.4,330.7) scale(1,1.04)" text-anchor="middle" font-size="9.3" fill="#262626" >2</text>
<text transform="translate(702.13,330.7) scale(1,1.04)" text-anchor="middle" font-size="9.3" fill="#262626" >3</text>
<text transform="translate(737.87,330.7) scale(1,1.04)" text-anchor="middle" font-size="9.3" fill="#262626" >4</text>
<text transform="translate(773.6,330.7) scale(1,1.04)" text-anchor="middle" font-size="9.3" fill="#262626" >5</text>
<text transform="translate(608.8,285.2) scale(1,1.04)" text-anchor="end" font-size="9.3" fill="#262626" >200</text>
<text transform="translate(608.8,296.5) scale(1,1.04)" text-anchor="end" font-size="9.3" fill="#262626" >100</text>
<text transform="translate(608.8,307.8) scale(1,1.04)" text-anchor="end" font-size="9.3" fill="#262626" >0</text>
<text transform="translate(608.8,319.1) scale(1,1.04)" text-anchor="end" font-size="9.3" fill="#262626" >-100</text>
<text x="-0.8" y="10.6" text-anchor="start" font-size="15.5" fill="#000" >(a)</text>
<text x="415.2" y="10.6" text-anchor="start" font-size="15.5" fill="#000" >(b)</text>
<rect x="263.5" y="354.5" width="85.3" height="35.8" fill="#fff" stroke="#808080" stroke-width="1"/>
<line x1="265.6" y1="361.4" x2="291.3" y2="361.4" stroke="#000" stroke-opacity="1" stroke-width="1.2"/>
<text transform="translate(293.5,364.5) scale(1,1.07)" text-anchor="start" font-size="8.5" fill="#000" >OASGNSMC</text>
<line x1="265.6" y1="372.7" x2="291.3" y2="372.7" stroke="#ff0000" stroke-opacity="0.7" stroke-width="1.2" stroke-dasharray="6.4,3.9"/>
<text transform="translate(293.5,375.8) scale(1,1.07)" text-anchor="start" font-size="8.5" fill="#000" >ANSMC</text>
<line x1="265.6" y1="383.9" x2="291.3" y2="383.9" stroke="#0000ff" stroke-opacity="0.6" stroke-width="1.2" stroke-dasharray="5.4,1.6,1.5,1.8"/>
<text transform="translate(293.5,387) scale(1,1.07)" text-anchor="start" font-size="8.5" fill="#000" >PID Controller</text>
</svg></body></html>
